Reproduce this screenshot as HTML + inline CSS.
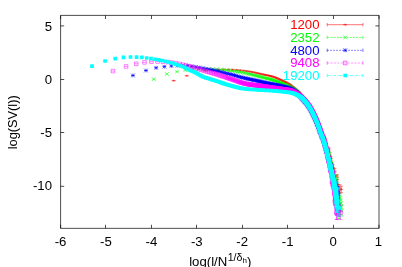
<!DOCTYPE html>
<html><head><meta charset="utf-8"><title>plot</title>
<style>html,body{margin:0;padding:0;background:#fff;overflow:hidden}svg{display:block;will-change:transform}text{font-family:"Liberation Sans",sans-serif}</style></head>
<body>
<svg width="402" height="267" viewBox="0 0 402 267">
<rect width="402" height="267" fill="#fff"/>
<path d="M60.6 15.4H379V228.35H60.6ZM60.6 228.35v-3.6M60.6 15.4v3.6M105.5 228.35v-3.6M105.5 15.4v3.6M151.5 228.35v-3.6M151.5 15.4v3.6M196.5 228.35v-3.6M196.5 15.4v3.6M242.5 228.35v-3.6M242.5 15.4v3.6M287.5 228.35v-3.6M287.5 15.4v3.6M333.5 228.35v-3.6M333.5 15.4v3.6M379 228.35v-3.6M379 15.4v3.6M60.6 25.9h3.6M379 25.9h-3.6M60.6 79.5h3.6M379 79.5h-3.6M60.6 132.5h3.6M379 132.5h-3.6M60.6 186.3h3.6M379 186.3h-3.6" fill="none" stroke="#000" stroke-width="0.7"/>
<g font-family="Liberation Sans, sans-serif" font-size="13.2" fill="#000">
<text x="60.5" y="246.05" text-anchor="middle">-6</text>
<text x="105.93" y="246.05" text-anchor="middle">-5</text>
<text x="151.36" y="246.05" text-anchor="middle">-4</text>
<text x="196.79" y="246.05" text-anchor="middle">-3</text>
<text x="242.21" y="246.05" text-anchor="middle">-2</text>
<text x="287.64" y="246.05" text-anchor="middle">-1</text>
<text x="333.07" y="246.05" text-anchor="middle">0</text>
<text x="378.5" y="246.05" text-anchor="middle">1</text>
<text x="52" y="30.5" text-anchor="end">5</text>
<text x="52" y="83.65" text-anchor="end">0</text>
<text x="52" y="136.8" text-anchor="end">-5</text>
<text x="52" y="189.95" text-anchor="end">-10</text>
<text transform="translate(17.3 122.3) rotate(-90)" text-anchor="middle" textLength="54" lengthAdjust="spacingAndGlyphs">log(SV(l))</text>
<text x="189.2" y="265.8">log(l/N<tspan dy="-5" dx="0.4" font-size="10.6">1/δ</tspan><tspan dy="2.2" font-size="8">h</tspan><tspan dy="2.8" font-size="13.2">)</tspan></text>
</g>
<g font-family="Liberation Sans, sans-serif" font-size="13.2">
<text x="319.5" y="29.1" text-anchor="end" fill="#ff0000">1200</text>
<path d="M327.2 24.7H362.9" fill="none" stroke="#ff0000" stroke-width="0.55"/>
<path d="M327.2 23v3.4M362.9 23v3.4" fill="none" stroke="#ff0000" stroke-width="0.55"/>
<path d="M343.2 24.7H347.2M345.2 23.6V25.8" fill="none" stroke="#ff0000" stroke-width="0.6"/>
<text x="319.5" y="41.8" text-anchor="end" fill="#00ff00">2352</text>
<path d="M327.2 37.4H362.9" fill="none" stroke="#00ff00" stroke-width="0.55" stroke-dasharray="2.2 1"/>
<path d="M327.2 35.7v3.4M362.9 35.7v3.4" fill="none" stroke="#00ff00" stroke-width="0.55"/>
<path d="M343.3 35.5L347.1 39.3M343.3 39.3L347.1 35.5" fill="none" stroke="#00ff00" stroke-width="0.6"/>
<text x="319.5" y="54.7" text-anchor="end" fill="#0000ff">4800</text>
<path d="M327.2 50.3H362.9" fill="none" stroke="#0000ff" stroke-width="0.55" stroke-dasharray="1.7 1.3"/>
<path d="M327.2 48.6v3.4M362.9 48.6v3.4" fill="none" stroke="#0000ff" stroke-width="0.55"/>
<path d="M343.3 50.3H347.1M345.2 48.4V52.2M343.3 48.4L347.1 52.2M343.3 52.2L347.1 48.4" fill="none" stroke="#0000ff" stroke-width="0.6"/>
<text x="319.5" y="67.4" text-anchor="end" fill="#ff00ff">9408</text>
<path d="M327.2 63H362.9" fill="none" stroke="#ff00ff" stroke-width="0.4" stroke-dasharray="2.2 1.2"/>
<path d="M327.2 61.3v3.4M362.9 61.3v3.4" fill="none" stroke="#ff00ff" stroke-width="0.55"/>
<path d="M343.4 61.2H347V64.8H343.4Z" fill="none" stroke="#ff00ff" stroke-width="0.6"/>
<text x="319.5" y="79.9" text-anchor="end" fill="#00ffff">19200</text>
<path d="M327.2 75.5H362.9" fill="none" stroke="#00ffff" stroke-width="0.55" stroke-dasharray="3.2 0.9 0.6 0.9"/>
<path d="M327.2 73.8v3.4M362.9 73.8v3.4" fill="none" stroke="#00ffff" stroke-width="0.55"/>
<path d="M343.4 73.7H347V77.3H343.4Z" fill="#00ffff"/>
</g>
<path d="M336.4 179.4V183.6M334.7 179.4H338.1M334.7 183.6H338.1M338.5 184.4V190.4M336.8 184.4H340.2M336.8 190.4H340.2M340.1 184.8V193.4M338.4 184.8H341.8M338.4 193.4H341.8M341.3 186.2V192.6M339.6 186.2H343M339.6 192.6H343M337 174.5V177.5M335.3 174.5H338.7M335.3 177.5H338.7M172 80.7H175.4M185.07 75.81H188.47M195.21 72.5H198.61M203.49 70.77H206.89M212.19 69.66V70.3M210.49 69.66H213.89M210.49 70.3H213.89M218.26 69.31V70M216.56 69.31H219.96M216.56 70H219.96M223.61 69.14V69.88M221.91 69.14H225.31M221.91 69.88H225.31M228.39 69.17V69.96M226.69 69.17H230.09M226.69 69.96H230.09M232.72 69.37V70.18M231.02 69.37H234.42M231.02 70.18H234.42M236.68 69.6V70.42M234.98 69.6H238.38M234.98 70.42H238.38M240.31 69.91V70.75M238.61 69.91H242.01M238.61 70.75H242.01M243.68 70.31V71.15M241.98 70.31H245.38M241.98 71.15H245.38M246.81 70.71V71.56M245.11 70.71H248.51M245.11 71.56H248.51M249.75 71.13V71.99M248.05 71.13H251.45M248.05 71.99H251.45M252.5 71.64V72.51M250.8 71.64H254.2M250.8 72.51H254.2M255.1 72.2V73.09M253.4 72.2H256.8M253.4 73.09H256.8M257.55 72.76V73.65M255.85 72.76H259.25M255.85 73.65H259.25M259.88 73.27V74.17M258.18 73.27H261.58M258.18 74.17H261.58M262.1 73.77V74.68M260.4 73.77H263.8M260.4 74.68H263.8M264.21 74.22V75.13M262.51 74.22H265.91M262.51 75.13H265.91M266.23 74.63V75.55M264.53 74.63H267.93M264.53 75.55H267.93M268.17 75.03V75.95M266.47 75.03H269.87M266.47 75.95H269.87M270.02 75.44V76.37M268.32 75.44H271.72M268.32 76.37H271.72M271.8 75.89V76.83M270.1 75.89H273.5M270.1 76.83H273.5M273.52 76.39V77.34M271.82 76.39H275.22M271.82 77.34H275.22M275.17 77.01V77.96M273.47 77.01H276.87M273.47 77.96H276.87M276.76 77.68V78.64M275.06 77.68H278.46M275.06 78.64H278.46M278.3 78.35V79.31M276.6 78.35H280M276.6 79.31H280M279.79 79.01V79.98M278.09 79.01H281.49M278.09 79.98H281.49M281.24 79.68V80.65M279.54 79.68H282.94M279.54 80.65H282.94M282.63 80.34V81.31M280.93 80.34H284.33M280.93 81.31H284.33M283.99 80.98V81.96M282.29 80.98H285.69M282.29 81.96H285.69M285.31 81.6V82.58M283.61 81.6H287.01M283.61 82.58H287.01M286.59 82.23V83.22M284.89 82.23H288.29M284.89 83.22H288.29M287.83 82.9V83.9M286.13 82.9H289.53M286.13 83.9H289.53M289.04 83.65V84.64M287.34 83.65H290.74M287.34 84.64H290.74M290.22 84.45V85.46M288.52 84.45H291.92M288.52 85.46H291.92M291.37 85.27V86.35M289.67 85.27H293.07M289.67 86.35H293.07M292.49 86.13V87.28M290.79 86.13H294.19M290.79 87.28H294.19M293.59 87.08V88.3M291.89 87.08H295.29M291.89 88.3H295.29M294.66 88.05V89.33M292.96 88.05H296.36M292.96 89.33H296.36M295.7 88.96V90.3M294 88.96H297.4M294 90.3H297.4M296.72 89.85V91.25M295.02 89.85H298.42M295.02 91.25H298.42M297.72 90.72V92.18M296.02 90.72H299.42M296.02 92.18H299.42M298.7 91.52V93.04M297 91.52H300.4M297 93.04H300.4M299.65 92.33V93.91M297.95 92.33H301.35M297.95 93.91H301.35M300.59 93.62V95.22M298.89 93.62H302.29M298.89 95.22H302.29M301.51 95.51V97.11M299.81 95.51H303.21M299.81 97.11H303.21M302.41 97.18V98.78M300.71 97.18H304.11M300.71 98.78H304.11M303.29 98.31V99.91M301.59 98.31H304.99M301.59 99.91H304.99M304.16 99.25V100.85M302.46 99.25H305.86M302.46 100.85H305.86M305.01 100.11V101.71M303.31 100.11H306.71M303.31 101.71H306.71M305.84 100.99V102.59M304.14 100.99H307.54M304.14 102.59H307.54M306.66 101.97V103.57M304.96 101.97H308.36M304.96 103.57H308.36M307.46 103V104.6M305.76 103H309.16M305.76 104.6H309.16M308.25 104.04V105.64M306.55 104.04H309.95M306.55 105.64H309.95M309.03 105.13V106.73M307.33 105.13H310.73M307.33 106.73H310.73M309.79 106.25V107.85M308.09 106.25H311.49M308.09 107.85H311.49M310.54 107.42V109.02M308.84 107.42H312.24M308.84 109.02H312.24M311.28 108.68V110.28M309.58 108.68H312.98M309.58 110.28H312.98M312.01 110.02V111.63M310.31 110.02H313.71M310.31 111.63H313.71M312.72 111.45V113.05M311.02 111.45H314.42M311.02 113.05H314.42M313.43 112.74V114.34M311.73 112.74H315.13M311.73 114.34H315.13M314.12 114.39V116M312.42 114.39H315.82M312.42 116H315.82M314.8 115.45V117.06M313.1 115.45H316.5M313.1 117.06H316.5M315.48 117.04V118.65M313.78 117.04H317.18M313.78 118.65H317.18M316.14 118.5V120.12M314.44 118.5H317.84M314.44 120.12H317.84M316.79 119.57V121.2M315.09 119.57H318.49M315.09 121.2H318.49M317.44 121.54V123.17M315.74 121.54H319.14M315.74 123.17H319.14M318.07 123.66V125.3M316.37 123.66H319.77M316.37 125.3H319.77M318.7 123.83V125.48M317 123.83H320.4M317 125.48H320.4M319.32 126.34V128.01M317.62 126.34H321.02M317.62 128.01H321.02M319.93 127.29V128.98M318.23 127.29H321.63M318.23 128.98H321.63M320.53 130.12V131.83M318.83 130.12H322.23M318.83 131.83H322.23M321.12 130.8V132.53M319.42 130.8H322.82M319.42 132.53H322.82M321.71 132.46V134.23M320.01 132.46H323.41M320.01 134.23H323.41M322.29 133.91V135.7M320.59 133.91H323.99M320.59 135.7H323.99M322.86 134.99V136.82M321.16 134.99H324.56M321.16 136.82H324.56M323.43 134.98V136.85M321.73 134.98H325.13M321.73 136.85H325.13M323.98 138.47V140.37M322.28 138.47H325.68M322.28 140.37H325.68M324.53 137.22V139.17M322.83 137.22H326.23M322.83 139.17H326.23M325.08 140.37V142.37M323.38 140.37H326.78M323.38 142.37H326.78M325.61 142.61V144.68M323.91 142.61H327.31M323.91 144.68H327.31M326.15 142.17V144.32M324.45 142.17H327.85M324.45 144.32H327.85M326.67 145.57V147.83M324.97 145.57H328.37M324.97 147.83H328.37M327.19 149.26V151.63M325.49 149.26H328.89M325.49 151.63H328.89M327.7 148.87V151.37M326 148.87H329.4M326 151.37H329.4M328.21 148.83V151.46M326.51 148.83H329.91M326.51 151.46H329.91M328.71 147.44V150.23M327.01 147.44H330.41M327.01 150.23H330.41M329.21 151.89V154.85M327.51 151.89H330.91M327.51 154.85H330.91M329.7 154.52V157.68M328 154.52H331.4M328 157.68H331.4M330.19 156.42V159.79M328.49 156.42H331.89M328.49 159.79H331.89M330.67 156.75V160.36M328.97 156.75H332.37M328.97 160.36H332.37M331.14 162.65V166.52M329.44 162.65H332.84M329.44 166.52H332.84M331.61 161.22V165.37M329.91 161.22H333.31M329.91 165.37H333.31M332.08 164.5V168.95M330.38 164.5H333.78M330.38 168.95H333.78M332.54 169.1V173.88M330.84 169.1H334.24M330.84 173.88H334.24M333 164.91V170.05M331.3 164.91H334.7M331.3 170.05H334.7M333.45 168.63V174.15M331.75 168.63H335.15M331.75 174.15H335.15M333.9 180.58V186.5M332.2 180.58H335.6M332.2 186.5H335.6M334.34 176.95V183.31M332.64 176.95H336.04M332.64 183.31H336.04M334.78 168.5V175.33M333.08 168.5H336.48M333.08 175.33H336.48M335.21 175.85V183.2M333.51 175.85H336.91M333.51 183.2H336.91M335.64 180.73V188.64M333.94 180.73H337.34M333.94 188.64H337.34M336.07 185.87V194.35M334.37 185.87H337.77M334.37 194.35H337.77M336.49 181.68V190.78M334.79 181.68H338.19M334.79 190.78H338.19M336.91 179.26V189.03M335.21 179.26H338.61M335.21 189.03H338.61M337.33 179.29V189.78M335.63 179.29H339.03M335.63 189.78H339.03M337.74 189.86V201.16M336.04 189.86H339.44M336.04 201.16H339.44M338.15 189.42V201.63M336.45 189.42H339.85M336.45 201.63H339.85" fill="none" stroke="#ff0000" stroke-width="0.45"/>
<path d="M334.4 181.5H338.4M336.4 180.4V182.6M336.5 187.4H340.5M338.5 186.3V188.5M338.1 189.1H342.1M340.1 188V190.2M339.3 189.4H343.3M341.3 188.3V190.5M335 176H339M337 174.9V177.1M171.7 80.7H175.7M173.7 79.6V81.8M184.77 75.81H188.77M186.77 74.71V76.91M194.91 72.5H198.91M196.91 71.4V73.6M203.19 70.77H207.19M205.19 69.67V71.87M210.19 69.98H214.19M212.19 68.88V71.08M216.26 69.66H220.26M218.26 68.56V70.76M221.61 69.51H225.61M223.61 68.41V70.61M226.39 69.56H230.39M228.39 68.46V70.66M230.72 69.77H234.72M232.72 68.67V70.87M234.68 70.01H238.68M236.68 68.91V71.11M238.31 70.33H242.31M240.31 69.23V71.43M241.68 70.73H245.68M243.68 69.63V71.83M244.81 71.14H248.81M246.81 70.04V72.24M247.75 71.56H251.75M249.75 70.46V72.66M250.5 72.07H254.5M252.5 70.97V73.17M253.1 72.64H257.1M255.1 71.54V73.74M255.55 73.2H259.55M257.55 72.1V74.3M257.88 73.72H261.88M259.88 72.62V74.82M260.1 74.22H264.1M262.1 73.12V75.32M262.21 74.68H266.21M264.21 73.58V75.78M264.23 75.09H268.23M266.23 73.99V76.19M266.17 75.49H270.17M268.17 74.39V76.59M268.02 75.91H272.02M270.02 74.81V77.01M269.8 76.36H273.8M271.8 75.26V77.46M271.52 76.86H275.52M273.52 75.76V77.96M273.17 77.48H277.17M275.17 76.38V78.58M274.76 78.16H278.76M276.76 77.06V79.26M276.3 78.83H280.3M278.3 77.73V79.93M277.79 79.49H281.79M279.79 78.39V80.59M279.24 80.16H283.24M281.24 79.06V81.26M280.63 80.82H284.63M282.63 79.72V81.92M281.99 81.47H285.99M283.99 80.37V82.57M283.31 82.09H287.31M285.31 80.99V83.19M284.59 82.72H288.59M286.59 81.62V83.82M285.83 83.4H289.83M287.83 82.3V84.5M287.04 84.15H291.04M289.04 83.05V85.25M288.22 84.96H292.22M290.22 83.86V86.06M289.37 85.81H293.37M291.37 84.71V86.91M290.49 86.71H294.49M292.49 85.61V87.81M291.59 87.69H295.59M293.59 86.59V88.79M292.66 88.69H296.66M294.66 87.59V89.79M293.7 89.63H297.7M295.7 88.53V90.73M294.72 90.55H298.72M296.72 89.45V91.65M295.72 91.45H299.72M297.72 90.35V92.55M296.7 92.28H300.7M298.7 91.18V93.38M297.65 93.12H301.65M299.65 92.02V94.22M298.59 94.42H302.59M300.59 93.32V95.52M299.51 96.31H303.51M301.51 95.21V97.41M300.41 97.98H304.41M302.41 96.88V99.08M301.29 99.11H305.29M303.29 98.01V100.21M302.16 100.05H306.16M304.16 98.95V101.15M303.01 100.91H307.01M305.01 99.81V102.01M303.84 101.79H307.84M305.84 100.69V102.89M304.66 102.77H308.66M306.66 101.67V103.87M305.46 103.8H309.46M307.46 102.7V104.9M306.25 104.84H310.25M308.25 103.74V105.94M307.03 105.93H311.03M309.03 104.83V107.03M307.79 107.05H311.79M309.79 105.95V108.15M308.54 108.22H312.54M310.54 107.12V109.32M309.28 109.48H313.28M311.28 108.38V110.58M310.01 110.82H314.01M312.01 109.72V111.92M310.72 112.25H314.72M312.72 111.15V113.35M311.43 113.54H315.43M313.43 112.44V114.64M312.12 115.19H316.12M314.12 114.09V116.29M312.8 116.26H316.8M314.8 115.16V117.36M313.48 117.85H317.48M315.48 116.75V118.95M314.14 119.31H318.14M316.14 118.21V120.41M314.79 120.39H318.79M316.79 119.29V121.49M315.44 122.36H319.44M317.44 121.26V123.46M316.07 124.48H320.07M318.07 123.38V125.58M316.7 124.66H320.7M318.7 123.56V125.76M317.32 127.18H321.32M319.32 126.08V128.28M317.93 128.13H321.93M319.93 127.03V129.23M318.53 130.97H322.53M320.53 129.87V132.07M319.12 131.67H323.12M321.12 130.57V132.77M319.71 133.34H323.71M321.71 132.24V134.44M320.29 134.81H324.29M322.29 133.71V135.91M320.86 135.91H324.86M322.86 134.81V137.01M321.43 135.91H325.43M323.43 134.81V137.01M321.98 139.42H325.98M323.98 138.32V140.52M322.53 138.2H326.53M324.53 137.1V139.3M323.08 141.37H327.08M325.08 140.27V142.47M323.61 143.65H327.61M325.61 142.55V144.75M324.15 143.24H328.15M326.15 142.14V144.34M324.67 146.7H328.67M326.67 145.6V147.8M325.19 150.45H329.19M327.19 149.35V151.55M325.7 150.12H329.7M327.7 149.02V151.22M326.21 150.15H330.21M328.21 149.05V151.25M326.71 148.84H330.71M328.71 147.74V149.94M327.21 153.37H331.21M329.21 152.27V154.47M327.7 156.1H331.7M329.7 155V157.2M328.19 158.1H332.19M330.19 157V159.2M328.67 158.55H332.67M330.67 157.45V159.65M329.14 164.59H333.14M331.14 163.49V165.69M329.61 163.3H333.61M331.61 162.2V164.4M330.08 166.72H334.08M332.08 165.62V167.82M330.54 171.49H334.54M332.54 170.39V172.59M331 167.48H335M333 166.38V168.58M331.45 171.39H335.45M333.45 170.29V172.49M331.9 183.54H335.9M333.9 182.44V184.64M332.34 180.13H336.34M334.34 179.03V181.23M332.78 171.92H336.78M334.78 170.82V173.02M333.21 179.52H337.21M335.21 178.42V180.62M333.64 184.68H337.64M335.64 183.58V185.78M334.07 190.11H338.07M336.07 189.01V191.21M334.49 186.23H338.49M336.49 185.13V187.33M334.91 184.15H338.91M336.91 183.05V185.25M335.33 184.53H339.33M337.33 183.43V185.63M335.74 195.51H339.74M337.74 194.41V196.61M336.15 195.52H340.15M338.15 194.42V196.62" fill="none" stroke="#ff0000" stroke-width="0.5"/>
<path d="M341.9 205V216M340.2 205H343.6M340.2 216H343.6M341 199V207M339.3 199H342.7M339.3 207H342.7M340.8 202.8V211.2M339.1 202.8H342.5M339.1 211.2H342.5M340.2 195V201M338.5 195H341.9M338.5 201H341.9M152.1 79.2H155.5M165.17 74.04H168.57M175.31 71.7H178.71M183.59 70.07H186.99M192.29 68.89V69.53M190.59 68.89H193.99M190.59 69.53H193.99M198.36 68.57V69.27M196.66 68.57H200.06M196.66 69.27H200.06M203.71 68.54V69.29M202.01 68.54H205.41M202.01 69.29H205.41M208.49 68.58V69.37M206.79 68.58H210.19M206.79 69.37H210.19M212.82 68.68V69.52M211.12 68.68H214.52M211.12 69.52H214.52M216.78 68.91V69.79M215.08 68.91H218.48M215.08 69.79H218.48M220.41 69.18V70.09M218.71 69.18H222.11M218.71 70.09H222.11M223.78 69.49V70.43M222.08 69.49H225.48M222.08 70.43H225.48M226.91 69.82V70.79M225.21 69.82H228.61M225.21 70.79H228.61M229.85 70.16V71.16M228.15 70.16H231.55M228.15 71.16H231.55M232.6 70.51V71.53M230.9 70.51H234.3M230.9 71.53H234.3M235.2 70.83V71.87M233.5 70.83H236.9M233.5 71.87H236.9M237.65 71.14V72.19M235.95 71.14H239.35M235.95 72.19H239.35M239.98 71.46V72.53M238.28 71.46H241.68M238.28 72.53H241.68M242.2 71.86V72.94M240.5 71.86H243.9M240.5 72.94H243.9M244.31 72.29V73.38M242.61 72.29H246.01M242.61 73.38H246.01M246.33 72.72V73.83M244.63 72.72H248.03M244.63 73.83H248.03M248.27 73.14V74.27M246.57 73.14H249.97M246.57 74.27H249.97M250.12 73.57V74.71M248.42 73.57H251.82M248.42 74.71H251.82M251.9 74V75.15M250.2 74H253.6M250.2 75.15H253.6M253.62 74.44V75.6M251.92 74.44H255.32M251.92 75.6H255.32M255.27 74.88V76.05M253.57 74.88H256.97M253.57 76.05H256.97M256.86 75.31V76.49M255.16 75.31H258.56M255.16 76.49H258.56M258.4 75.71V76.9M256.7 75.71H260.1M256.7 76.9H260.1M259.89 76.08V77.28M258.19 76.08H261.59M258.19 77.28H261.59M261.34 76.43V77.64M259.64 76.43H263.04M259.64 77.64H263.04M262.73 76.77V77.99M261.03 76.77H264.43M261.03 77.99H264.43M264.09 77.11V78.33M262.39 77.11H265.79M262.39 78.33H265.79M265.41 77.43V78.67M263.71 77.43H267.11M263.71 78.67H267.11M266.69 77.75V78.99M264.99 77.75H268.39M264.99 78.99H268.39M267.93 78.06V79.31M266.23 78.06H269.63M266.23 79.31H269.63M269.14 78.35V79.62M267.44 78.35H270.84M267.44 79.62H270.84M270.32 78.64V79.91M268.62 78.64H272.02M268.62 79.91H272.02M271.47 78.93V80.21M269.77 78.93H273.17M269.77 80.21H273.17M272.59 79.24V80.52M270.89 79.24H274.29M270.89 80.52H274.29M273.69 79.57V80.86M271.99 79.57H275.39M271.99 80.86H275.39M274.76 79.93V81.23M273.06 79.93H276.46M273.06 81.23H276.46M275.8 80.31V81.62M274.1 80.31H277.5M274.1 81.62H277.5M276.82 80.69V82.01M275.12 80.69H278.52M275.12 82.01H278.52M277.82 81.07V82.39M276.12 81.07H279.52M276.12 82.39H279.52M278.8 81.44V82.77M277.1 81.44H280.5M277.1 82.77H280.5M279.75 81.82V83.15M278.05 81.82H281.45M278.05 83.15H281.45M280.69 82.2V83.53M278.99 82.2H282.39M278.99 83.53H282.39M281.61 82.57V83.91M279.91 82.57H283.31M279.91 83.91H283.31M282.51 82.93V84.28M280.81 82.93H284.21M280.81 84.28H284.21M283.39 83.28V84.63M281.69 83.28H285.09M281.69 84.63H285.09M284.26 83.6V84.97M282.56 83.6H285.96M282.56 84.97H285.96M285.11 83.92V85.29M283.41 83.92H286.81M283.41 85.29H286.81M285.94 84.24V85.61M284.24 84.24H287.64M284.24 85.61H287.64M286.76 84.56V85.94M285.06 84.56H288.46M285.06 85.94H288.46M287.56 84.91V86.29M285.86 84.91H289.26M285.86 86.29H289.26M288.35 85.28V86.67M286.65 85.28H290.05M286.65 86.67H290.05M289.13 85.68V87.07M287.43 85.68H290.83M287.43 87.07H290.83M289.89 86.11V87.51M288.19 86.11H291.59M288.19 87.51H291.59M290.64 86.53V87.97M288.94 86.53H292.34M288.94 87.97H292.34M291.38 86.97V88.45M289.68 86.97H293.08M289.68 88.45H293.08M292.11 87.41V88.93M290.41 87.41H293.81M290.41 88.93H293.81M292.82 87.86V89.43M291.12 87.86H294.52M291.12 89.43H294.52M293.53 88.32V89.94M291.83 88.32H295.23M291.83 89.94H295.23M294.22 88.8V90.45M292.52 88.8H295.92M292.52 90.45H295.92M294.9 89.28V90.98M293.2 89.28H296.6M293.2 90.98H296.6M295.58 89.76V91.49M293.88 89.76H297.28M293.88 91.49H297.28M296.24 90.23V92M294.54 90.23H297.94M294.54 92H297.94M296.89 90.74V92.55M295.19 90.74H298.59M295.19 92.55H298.59M297.54 91.3V93.15M295.84 91.3H299.24M295.84 93.15H299.24M298.17 91.94V93.83M296.47 91.94H299.87M296.47 93.83H299.87M298.8 92.64V94.57M297.1 92.64H300.5M297.1 94.57H300.5M299.42 93.38V95.34M297.72 93.38H301.12M297.72 95.34H301.12M300.03 94.13V96.13M298.33 94.13H301.73M298.33 96.13H301.73M300.63 94.9V96.9M298.93 94.9H302.33M298.93 96.9H302.33M301.22 95.66V97.66M299.52 95.66H302.92M299.52 97.66H302.92M301.81 96.39V98.39M300.11 96.39H303.51M300.11 98.39H303.51M302.39 97.08V99.08M300.69 97.08H304.09M300.69 99.08H304.09M302.96 97.72V99.72M301.26 97.72H304.66M301.26 99.72H304.66M303.53 98.33V100.33M301.83 98.33H305.23M301.83 100.33H305.23M304.08 98.93V100.93M302.38 98.93H305.78M302.38 100.93H305.78M304.63 99.53V101.53M302.93 99.53H306.33M302.93 101.53H306.33M305.18 100.13V102.13M303.48 100.13H306.88M303.48 102.13H306.88M305.71 100.75V102.75M304.01 100.75H307.41M304.01 102.75H307.41M306.25 101.38V103.38M304.55 101.38H307.95M304.55 103.38H307.95M306.77 102.04V104.04M305.07 102.04H308.47M305.07 104.04H308.47M307.29 102.7V104.7M305.59 102.7H308.99M305.59 104.7H308.99M307.8 103.38V105.38M306.1 103.38H309.5M306.1 105.38H309.5M308.31 104.06V106.06M306.61 104.06H310.01M306.61 106.06H310.01M308.81 104.76V106.76M307.11 104.76H310.51M307.11 106.76H310.51M309.31 105.48V107.48M307.61 105.48H311.01M307.61 107.48H311.01M309.8 106.22V108.22M308.1 106.22H311.5M308.1 108.22H311.5M310.29 106.97V108.97M308.59 106.97H311.99M308.59 108.97H311.99M310.77 107.76V109.76M309.07 107.76H312.47M309.07 109.76H312.47M311.24 108.59V110.59M309.54 108.59H312.94M309.54 110.59H312.94M311.71 109.45V111.45M310.01 109.45H313.41M310.01 111.45H313.41M312.18 110.35V112.35M310.48 110.35H313.88M310.48 112.35H313.88M312.64 111.26V113.26M310.94 111.26H314.34M310.94 113.26H314.34M313.1 112.09V114.1M311.4 112.09H314.8M311.4 114.1H314.8M313.55 113.03V115.04M311.85 113.03H315.25M311.85 115.04H315.25M314 113.87V115.87M312.3 113.87H315.7M312.3 115.87H315.7M314.44 114.75V116.75M312.74 114.75H316.14M312.74 116.75H316.14M314.88 116.05V118.05M313.18 116.05H316.58M313.18 118.05H316.58M315.31 116.6V118.61M313.61 116.6H317.01M313.61 118.61H317.01M315.74 118.03V120.04M314.04 118.03H317.44M314.04 120.04H317.44M316.17 118.49V120.5M314.47 118.49H317.87M314.47 120.5H317.87M316.59 119.58V121.59M314.89 119.58H318.29M314.89 121.59H318.29M317.01 120.78V122.79M315.31 120.78H318.71M315.31 122.79H318.71M317.43 121.43V123.45M315.73 121.43H319.13M315.73 123.45H319.13M317.84 122.51V124.53M316.14 122.51H319.54M316.14 124.53H319.54M318.25 123.25V125.27M316.55 123.25H319.95M316.55 125.27H319.95M318.65 124.12V126.15M316.95 124.12H320.35M316.95 126.15H320.35M319.05 125.24V127.28M317.35 125.24H320.75M317.35 127.28H320.75M319.45 126.01V128.05M317.75 126.01H321.15M317.75 128.05H321.15M319.84 128.18V130.22M318.14 128.18H321.54M318.14 130.22H321.54M320.23 128.26V130.31M318.53 128.26H321.93M318.53 130.31H321.93M320.62 130.35V132.42M318.92 130.35H322.32M318.92 132.42H322.32M321 129.03V131.1M319.3 129.03H322.7M319.3 131.1H322.7M321.38 131.36V133.44M319.68 131.36H323.08M319.68 133.44H323.08M321.76 132.69V134.78M320.06 132.69H323.46M320.06 134.78H323.46M322.13 133.08V135.18M320.43 133.08H323.83M320.43 135.18H323.83M322.5 134.94V137.06M320.8 134.94H324.2M320.8 137.06H324.2M322.87 135.54V137.66M321.17 135.54H324.57M321.17 137.66H324.57M323.24 135.76V137.9M321.54 135.76H324.94M321.54 137.9H324.94M323.6 137.03V139.18M321.9 137.03H325.3M321.9 139.18H325.3M323.96 139.13V141.29M322.26 139.13H325.66M322.26 141.29H325.66M324.31 138.62V140.79M322.61 138.62H326.01M322.61 140.79H326.01M324.67 139.66V141.86M322.97 139.66H326.37M322.97 141.86H326.37M325.02 139.96V142.17M323.32 139.96H326.72M323.32 142.17H326.72M325.36 141.73V143.97M323.66 141.73H327.06M323.66 143.97H327.06M325.71 141.08V143.34M324.01 141.08H327.41M324.01 143.34H327.41M326.05 143.7V146M324.35 143.7H327.75M324.35 146H327.75M326.39 148.46V150.79M324.69 148.46H328.09M324.69 150.79H328.09M326.73 148.1V150.47M325.03 148.1H328.43M325.03 150.47H328.43M327.07 148.71V151.12M325.37 148.71H328.77M325.37 151.12H328.77M327.4 150.74V153.2M325.7 150.74H329.1M325.7 153.2H329.1M327.73 153.46V155.96M326.03 153.46H329.43M326.03 155.96H329.43M328.06 152.51V155.07M326.36 152.51H329.76M326.36 155.07H329.76M328.38 156.73V159.35M326.68 156.73H330.08M326.68 159.35H330.08M328.71 156.13V158.81M327.01 156.13H330.41M327.01 158.81H330.41M329.03 155.52V158.26M327.33 155.52H330.73M327.33 158.26H330.73M329.35 160.38V163.19M327.65 160.38H331.05M327.65 163.19H331.05M329.66 152.34V155.23M327.96 152.34H331.36M327.96 155.23H331.36M329.98 157.48V160.44M328.28 157.48H331.68M328.28 160.44H331.68M330.29 160.88V163.93M328.59 160.88H331.99M328.59 163.93H331.99M330.6 158.92V162.06M328.9 158.92H332.3M328.9 162.06H332.3M330.91 162.23V165.47M329.21 162.23H332.61M329.21 165.47H332.61M331.21 162.02V165.36M329.51 162.02H332.91M329.51 165.36H332.91M331.52 163.14V166.59M329.82 163.14H333.22M329.82 166.59H333.22M331.82 173.37V176.94M330.12 173.37H333.52M330.12 176.94H333.52M332.12 169.66V173.34M330.42 169.66H333.82M330.42 173.34H333.82M332.42 168.63V172.44M330.72 168.63H334.12M330.72 172.44H334.12M332.71 174.63V178.58M331.01 174.63H334.41M331.01 178.58H334.41M333.01 170.36V174.45M331.31 170.36H334.71M331.31 174.45H334.71M333.3 175.77V180.01M331.6 175.77H335M331.6 180.01H335M333.59 175.01V179.41M331.89 175.01H335.29M331.89 179.41H335.29M333.88 181.49V186.05M332.18 181.49H335.58M332.18 186.05H335.58M334.16 170.03V174.78M332.46 170.03H335.86M332.46 174.78H335.86M334.45 180.69V185.62M332.75 180.69H336.15M332.75 185.62H336.15M334.73 179.07V184.2M333.03 179.07H336.43M333.03 184.2H336.43M335.01 174.41V179.75M333.31 174.41H336.71M333.31 179.75H336.71M335.29 185.91V191.47M333.59 185.91H336.99M333.59 191.47H336.99M335.57 177.87V183.65M333.87 177.87H337.27M333.87 183.65H337.27M335.85 191.37V197.39M334.15 191.37H337.55M334.15 197.39H337.55M336.12 187.13V193.39M334.42 187.13H337.82M334.42 193.39H337.82M336.39 189.44V195.97M334.69 189.44H338.09M334.69 195.97H338.09M336.67 187.33V194.14M334.97 187.33H338.37M334.97 194.14H338.37M336.94 193.59V200.71M335.24 193.59H338.64M335.24 200.71H338.64M337.2 177.39V184.84M335.5 177.39H338.9M335.5 184.84H338.9M337.47 191.2V199M335.77 191.2H339.17M335.77 199H339.17M337.73 187.45V195.63M336.03 187.45H339.43M336.03 195.63H339.43M338 195.65V204.26M336.3 195.65H339.7M336.3 204.26H339.7M338.26 194.48V203.56M336.56 194.48H339.96M336.56 203.56H339.96M338.52 202.04V211.64M336.82 202.04H340.22M336.82 211.64H340.22M338.78 189.85V200.03M337.08 189.85H340.48M337.08 200.03H340.48M339.04 207.6V218.4M337.34 207.6H340.74M337.34 218.4H340.74M339.29 207.25V218.75M337.59 207.25H340.99M337.59 218.75H340.99M339.55 200.6V212.85M337.85 200.6H341.25M337.85 212.85H341.25" fill="none" stroke="#00ff00" stroke-width="0.45"/>
<path d="M340 208.6L343.8 212.4M340 212.4L343.8 208.6M339.1 201.1L342.9 204.9M339.1 204.9L342.9 201.1M338.9 205.1L342.7 208.9M338.9 208.9L342.7 205.1M338.3 196.1L342.1 199.9M338.3 199.9L342.1 196.1M151.9 77.3L155.7 81.1M151.9 81.1L155.7 77.3M164.97 72.14L168.77 75.94M164.97 75.94L168.77 72.14M175.11 69.8L178.91 73.6M175.11 73.6L178.91 69.8M183.39 68.17L187.19 71.97M183.39 71.97L187.19 68.17M190.39 67.31L194.19 71.11M190.39 71.11L194.19 67.31M196.46 67.02L200.26 70.82M196.46 70.82L200.26 67.02M201.81 67.02L205.61 70.82M201.81 70.82L205.61 67.02M206.59 67.08L210.39 70.88M206.59 70.88L210.39 67.08M210.92 67.2L214.72 71M210.92 71L214.72 67.2M214.88 67.45L218.68 71.25M214.88 71.25L218.68 67.45M218.51 67.73L222.31 71.53M218.51 71.53L222.31 67.73M221.88 68.06L225.68 71.86M221.88 71.86L225.68 68.06M225.01 68.4L228.81 72.2M225.01 72.2L228.81 68.4M227.95 68.76L231.75 72.56M227.95 72.56L231.75 68.76M230.7 69.12L234.5 72.92M230.7 72.92L234.5 69.12M233.3 69.45L237.1 73.25M233.3 73.25L237.1 69.45M235.75 69.76L239.55 73.56M235.75 73.56L239.55 69.76M238.08 70.1L241.88 73.9M238.08 73.9L241.88 70.1M240.3 70.5L244.1 74.3M240.3 74.3L244.1 70.5M242.41 70.94L246.21 74.74M242.41 74.74L246.21 70.94M244.43 71.37L248.23 75.17M244.43 75.17L248.23 71.37M246.37 71.8L250.17 75.6M246.37 75.6L250.17 71.8M248.22 72.24L252.02 76.04M248.22 76.04L252.02 72.24M250 72.68L253.8 76.48M250 76.48L253.8 72.68M251.72 73.12L255.52 76.92M251.72 76.92L255.52 73.12M253.37 73.57L257.17 77.37M253.37 77.37L257.17 73.57M254.96 74L258.76 77.8M254.96 77.8L258.76 74M256.5 74.4L260.3 78.2M256.5 78.2L260.3 74.4M257.99 74.78L261.79 78.58M257.99 78.58L261.79 74.78M259.44 75.13L263.24 78.93M259.44 78.93L263.24 75.13M260.83 75.48L264.63 79.28M260.83 79.28L264.63 75.48M262.19 75.82L265.99 79.62M262.19 79.62L265.99 75.82M263.51 76.15L267.31 79.95M263.51 79.95L267.31 76.15M264.79 76.47L268.59 80.27M264.79 80.27L268.59 76.47M266.03 76.78L269.83 80.58M266.03 80.58L269.83 76.78M267.24 77.09L271.04 80.89M267.24 80.89L271.04 77.09M268.42 77.38L272.22 81.18M268.42 81.18L272.22 77.38M269.57 77.67L273.37 81.47M269.57 81.47L273.37 77.67M270.69 77.98L274.49 81.78M270.69 81.78L274.49 77.98M271.79 78.32L275.59 82.12M271.79 82.12L275.59 78.32M272.86 78.68L276.66 82.48M272.86 82.48L276.66 78.68M273.9 79.06L277.7 82.86M273.9 82.86L277.7 79.06M274.92 79.45L278.72 83.25M274.92 83.25L278.72 79.45M275.92 79.83L279.72 83.63M275.92 83.63L279.72 79.83M276.9 80.21L280.7 84.01M276.9 84.01L280.7 80.21M277.85 80.59L281.65 84.39M277.85 84.39L281.65 80.59M278.79 80.96L282.59 84.76M278.79 84.76L282.59 80.96M279.71 81.34L283.51 85.14M279.71 85.14L283.51 81.34M280.61 81.7L284.41 85.5M280.61 85.5L284.41 81.7M281.49 82.05L285.29 85.85M281.49 85.85L285.29 82.05M282.36 82.38L286.16 86.18M282.36 86.18L286.16 82.38M283.21 82.7L287.01 86.5M283.21 86.5L287.01 82.7M284.04 83.02L287.84 86.82M284.04 86.82L287.84 83.02M284.86 83.35L288.66 87.15M284.86 87.15L288.66 83.35M285.66 83.7L289.46 87.5M285.66 87.5L289.46 83.7M286.45 84.07L290.25 87.87M286.45 87.87L290.25 84.07M287.23 84.48L291.03 88.28M287.23 88.28L291.03 84.48M287.99 84.91L291.79 88.71M287.99 88.71L291.79 84.91M288.74 85.35L292.54 89.15M288.74 89.15L292.54 85.35M289.48 85.81L293.28 89.61M289.48 89.61L293.28 85.81M290.21 86.27L294.01 90.07M290.21 90.07L294.01 86.27M290.92 86.74L294.72 90.54M290.92 90.54L294.72 86.74M291.63 87.23L295.43 91.03M291.63 91.03L295.43 87.23M292.32 87.73L296.12 91.53M292.32 91.53L296.12 87.73M293 88.23L296.8 92.03M293 92.03L296.8 88.23M293.68 88.72L297.48 92.52M293.68 92.52L297.48 88.72M294.34 89.22L298.14 93.02M294.34 93.02L298.14 89.22M294.99 89.74L298.79 93.54M294.99 93.54L298.79 89.74M295.64 90.33L299.44 94.13M295.64 94.13L299.44 90.33M296.27 90.99L300.07 94.79M296.27 94.79L300.07 90.99M296.9 91.7L300.7 95.5M296.9 95.5L300.7 91.7M297.52 92.46L301.32 96.26M297.52 96.26L301.32 92.46M298.13 93.23L301.93 97.03M298.13 97.03L301.93 93.23M298.73 94L302.53 97.8M298.73 97.8L302.53 94M299.32 94.76L303.12 98.56M299.32 98.56L303.12 94.76M299.91 95.49L303.71 99.29M299.91 99.29L303.71 95.49M300.49 96.18L304.29 99.98M300.49 99.98L304.29 96.18M301.06 96.82L304.86 100.62M301.06 100.62L304.86 96.82M301.63 97.43L305.43 101.23M301.63 101.23L305.43 97.43M302.18 98.03L305.98 101.83M302.18 101.83L305.98 98.03M302.73 98.63L306.53 102.43M302.73 102.43L306.53 98.63M303.28 99.23L307.08 103.03M303.28 103.03L307.08 99.23M303.81 99.85L307.61 103.65M303.81 103.65L307.61 99.85M304.35 100.48L308.15 104.28M304.35 104.28L308.15 100.48M304.87 101.14L308.67 104.94M304.87 104.94L308.67 101.14M305.39 101.8L309.19 105.6M305.39 105.6L309.19 101.8M305.9 102.48L309.7 106.28M305.9 106.28L309.7 102.48M306.41 103.16L310.21 106.96M306.41 106.96L310.21 103.16M306.91 103.86L310.71 107.66M306.91 107.66L310.71 103.86M307.41 104.58L311.21 108.38M307.41 108.38L311.21 104.58M307.9 105.32L311.7 109.12M307.9 109.12L311.7 105.32M308.39 106.07L312.19 109.87M308.39 109.87L312.19 106.07M308.87 106.86L312.67 110.66M308.87 110.66L312.67 106.86M309.34 107.69L313.14 111.49M309.34 111.49L313.14 107.69M309.81 108.55L313.61 112.35M309.81 112.35L313.61 108.55M310.28 109.45L314.08 113.25M310.28 113.25L314.08 109.45M310.74 110.36L314.54 114.16M310.74 114.16L314.54 110.36M311.2 111.2L315 115M311.2 115L315 111.2M311.65 112.14L315.45 115.94M311.65 115.94L315.45 112.14M312.1 112.97L315.9 116.77M312.1 116.77L315.9 112.97M312.54 113.85L316.34 117.65M312.54 117.65L316.34 113.85M312.98 115.15L316.78 118.95M312.98 118.95L316.78 115.15M313.41 115.7L317.21 119.5M313.41 119.5L317.21 115.7M313.84 117.13L317.64 120.93M313.84 120.93L317.64 117.13M314.27 117.59L318.07 121.39M314.27 121.39L318.07 117.59M314.69 118.69L318.49 122.49M314.69 122.49L318.49 118.69M315.11 119.88L318.91 123.68M315.11 123.68L318.91 119.88M315.53 120.54L319.33 124.34M315.53 124.34L319.33 120.54M315.94 121.62L319.74 125.42M315.94 125.42L319.74 121.62M316.35 122.36L320.15 126.16M316.35 126.16L320.15 122.36M316.75 123.24L320.55 127.04M316.75 127.04L320.55 123.24M317.15 124.36L320.95 128.16M317.15 128.16L320.95 124.36M317.55 125.13L321.35 128.93M317.55 128.93L321.35 125.13M317.94 127.3L321.74 131.1M317.94 131.1L321.74 127.3M318.33 127.38L322.13 131.18M318.33 131.18L322.13 127.38M318.72 129.49L322.52 133.29M318.72 133.29L322.52 129.49M319.1 128.16L322.9 131.96M319.1 131.96L322.9 128.16M319.48 130.5L323.28 134.3M319.48 134.3L323.28 130.5M319.86 131.83L323.66 135.63M319.86 135.63L323.66 131.83M320.23 132.23L324.03 136.03M320.23 136.03L324.03 132.23M320.6 134.1L324.4 137.9M320.6 137.9L324.4 134.1M320.97 134.7L324.77 138.5M320.97 138.5L324.77 134.7M321.34 134.93L325.14 138.73M321.34 138.73L325.14 134.93M321.7 136.21L325.5 140.01M321.7 140.01L325.5 136.21M322.06 138.31L325.86 142.11M322.06 142.11L325.86 138.31M322.41 137.81L326.21 141.61M322.41 141.61L326.21 137.81M322.77 138.86L326.57 142.66M322.77 142.66L326.57 138.86M323.12 139.16L326.92 142.96M323.12 142.96L326.92 139.16M323.46 140.95L327.26 144.75M323.46 144.75L327.26 140.95M323.81 140.31L327.61 144.11M323.81 144.11L327.61 140.31M324.15 142.95L327.95 146.75M324.15 146.75L327.95 142.95M324.49 147.72L328.29 151.52M324.49 151.52L328.29 147.72M324.83 147.39L328.63 151.19M324.83 151.19L328.63 147.39M325.17 148.02L328.97 151.82M325.17 151.82L328.97 148.02M325.5 150.07L329.3 153.87M325.5 153.87L329.3 150.07M325.83 152.81L329.63 156.61M325.83 156.61L329.63 152.81M326.16 151.89L329.96 155.69M326.16 155.69L329.96 151.89M326.48 156.14L330.28 159.94M326.48 159.94L330.28 156.14M326.81 155.57L330.61 159.37M326.81 159.37L330.61 155.57M327.13 154.99L330.93 158.79M327.13 158.79L330.93 154.99M327.45 159.89L331.25 163.69M327.45 163.69L331.25 159.89M327.76 151.89L331.56 155.69M327.76 155.69L331.56 151.89M328.08 157.06L331.88 160.86M328.08 160.86L331.88 157.06M328.39 160.51L332.19 164.31M328.39 164.31L332.19 160.51M328.7 158.59L332.5 162.39M328.7 162.39L332.5 158.59M329.01 161.95L332.81 165.75M329.01 165.75L332.81 161.95M329.31 161.79L333.11 165.59M329.31 165.59L333.11 161.79M329.62 162.97L333.42 166.77M329.62 166.77L333.42 162.97M329.92 173.25L333.72 177.05M329.92 177.05L333.72 173.25M330.22 169.6L334.02 173.4M330.22 173.4L334.02 169.6M330.52 168.63L334.32 172.43M330.52 172.43L334.32 168.63M330.81 174.7L334.61 178.5M330.81 178.5L334.61 174.7M331.11 170.5L334.91 174.3M331.11 174.3L334.91 170.5M331.4 175.99L335.2 179.79M331.4 179.79L335.2 175.99M331.69 175.31L335.49 179.11M331.69 179.11L335.49 175.31M331.98 181.87L335.78 185.67M331.98 185.67L335.78 181.87M332.26 170.51L336.06 174.31M332.26 174.31L336.06 170.51M332.55 181.26L336.35 185.06M332.55 185.06L336.35 181.26M332.83 179.74L336.63 183.54M332.83 183.54L336.63 179.74M333.11 175.18L336.91 178.98M333.11 178.98L336.91 175.18M333.39 186.79L337.19 190.59M333.39 190.59L337.19 186.79M333.67 178.86L337.47 182.66M333.67 182.66L337.47 178.86M333.95 192.48L337.75 196.28M333.95 196.28L337.75 192.48M334.22 188.36L338.02 192.16M334.22 192.16L338.02 188.36M334.49 190.81L338.29 194.61M334.49 194.61L338.29 190.81M334.77 188.83L338.57 192.63M334.77 192.63L338.57 188.83M335.04 195.25L338.84 199.05M335.04 199.05L338.84 195.25M335.3 179.21L339.1 183.01M335.3 183.01L339.1 179.21M335.57 193.2L339.37 197M335.57 197L339.37 193.2M335.83 189.64L339.63 193.44M335.83 193.44L339.63 189.64M336.1 198.06L339.9 201.86M336.1 201.86L339.9 198.06M336.36 197.12L340.16 200.92M336.36 200.92L340.16 197.12M336.62 204.94L340.42 208.74M336.62 208.74L340.42 204.94M336.88 193.04L340.68 196.84M336.88 196.84L340.68 193.04M337.14 211.1L340.94 214.9M337.14 214.9L340.94 211.1M337.39 211.1L341.19 214.9M337.39 214.9L341.19 211.1M337.65 204.83L341.45 208.63M337.65 208.63L341.45 204.83" fill="none" stroke="#00ff00" stroke-width="0.55"/>
<path d="M338.2 204V214M336.5 204H339.9M336.5 214H339.9M339.2 204V216M337.5 204H340.9M337.5 216H340.9M131.2 75.44H134.6M144.27 70.51H147.67M154.41 67.78H157.81M162.69 66.68H166.09M169.69 65.97H173.09M177.46 65.28V65.92M175.76 65.28H179.16M175.76 65.92H179.16M182.81 65.26V65.94M181.11 65.26H184.51M181.11 65.94H184.51M187.59 65.37V66.09M185.89 65.37H189.29M185.89 66.09H189.29M191.92 65.94V66.7M190.22 65.94H193.62M190.22 66.7H193.62M195.88 66.53V67.33M194.18 66.53H197.58M194.18 67.33H197.58M199.51 67.14V67.97M197.81 67.14H201.21M197.81 67.97H201.21M202.88 67.78V68.63M201.18 67.78H204.58M201.18 68.63H204.58M206.01 68.37V69.26M204.31 68.37H207.71M204.31 69.26H207.71M208.95 68.9V69.81M207.25 68.9H210.65M207.25 69.81H210.65M211.7 69.39V70.32M210 69.39H213.4M210 70.32H213.4M214.3 69.88V70.83M212.6 69.88H216M212.6 70.83H216M216.75 70.41V71.38M215.05 70.41H218.45M215.05 71.38H218.45M219.08 70.97V71.97M217.38 70.97H220.78M217.38 71.97H220.78M221.3 71.53V72.54M219.6 71.53H223M219.6 72.54H223M223.41 72.08V73.1M221.71 72.08H225.11M221.71 73.1H225.11M225.43 72.59V73.62M223.73 72.59H227.13M223.73 73.62H227.13M227.37 73.05V74.09M225.67 73.05H229.07M225.67 74.09H229.07M229.22 73.48V74.53M227.52 73.48H230.92M227.52 74.53H230.92M231 73.92V74.98M229.3 73.92H232.7M229.3 74.98H232.7M232.72 74.35V75.42M231.02 74.35H234.42M231.02 75.42H234.42M234.37 74.79V75.87M232.67 74.79H236.07M232.67 75.87H236.07M235.96 75.23V76.33M234.26 75.23H237.66M234.26 76.33H237.66M237.5 75.71V76.81M235.8 75.71H239.2M235.8 76.81H239.2M238.99 76.16V77.27M237.29 76.16H240.69M237.29 77.27H240.69M240.44 76.56V77.67M238.74 76.56H242.14M238.74 77.67H242.14M241.83 76.9V78.03M240.13 76.9H243.53M240.13 78.03H243.53M243.19 77.22V78.35M241.49 77.22H244.89M241.49 78.35H244.89M244.51 77.52V78.66M242.81 77.52H246.21M242.81 78.66H246.21M245.79 77.8V78.95M244.09 77.8H247.49M244.09 78.95H247.49M247.03 78.08V79.23M245.33 78.08H248.73M245.33 79.23H248.73M248.24 78.34V79.5M246.54 78.34H249.94M246.54 79.5H249.94M249.42 78.59V79.76M247.72 78.59H251.12M247.72 79.76H251.12M250.57 78.84V80.01M248.87 78.84H252.27M248.87 80.01H252.27M251.69 79.07V80.25M249.99 79.07H253.39M249.99 80.25H253.39M252.79 79.29V80.48M251.09 79.29H254.49M251.09 80.48H254.49M253.86 79.51V80.7M252.16 79.51H255.56M252.16 80.7H255.56M254.9 79.72V80.92M253.2 79.72H256.6M253.2 80.92H256.6M255.92 79.94V81.14M254.22 79.94H257.62M254.22 81.14H257.62M256.92 80.15V81.36M255.22 80.15H258.62M255.22 81.36H258.62M257.9 80.37V81.58M256.2 80.37H259.6M256.2 81.58H259.6M258.85 80.59V81.82M257.15 80.59H260.55M257.15 81.82H260.55M259.79 80.83V82.06M258.09 80.83H261.49M258.09 82.06H261.49M260.71 81.06V82.3M259.01 81.06H262.41M259.01 82.3H262.41M261.61 81.29V82.52M259.91 81.29H263.31M259.91 82.52H263.31M262.49 81.49V82.74M260.79 81.49H264.19M260.79 82.74H264.19M263.36 81.69V82.94M261.66 81.69H265.06M261.66 82.94H265.06M264.21 81.88V83.13M262.51 81.88H265.91M262.51 83.13H265.91M265.04 82.06V83.32M263.34 82.06H266.74M263.34 83.32H266.74M265.86 82.24V83.5M264.16 82.24H267.56M264.16 83.5H267.56M266.66 82.41V83.67M264.96 82.41H268.36M264.96 83.67H268.36M267.45 82.57V83.84M265.75 82.57H269.15M265.75 83.84H269.15M268.23 82.72V84M266.53 82.72H269.93M266.53 84H269.93M268.99 82.87V84.15M267.29 82.87H270.69M267.29 84.15H270.69M269.74 83.02V84.3M268.04 83.02H271.44M268.04 84.3H271.44M270.48 83.16V84.45M268.78 83.16H272.18M268.78 84.45H272.18M271.21 83.3V84.59M269.51 83.3H272.91M269.51 84.59H272.91M271.92 83.44V84.73M270.22 83.44H273.62M270.22 84.73H273.62M272.63 83.58V84.88M270.93 83.58H274.33M270.93 84.88H274.33M273.32 83.71V85.02M271.62 83.71H275.02M271.62 85.02H275.02M274 83.84V85.15M272.3 83.84H275.7M272.3 85.15H275.7M274.68 83.97V85.28M272.98 83.97H276.38M272.98 85.28H276.38M275.34 84.1V85.42M273.64 84.1H277.04M273.64 85.42H277.04M275.99 84.23V85.55M274.29 84.23H277.69M274.29 85.55H277.69M276.64 84.35V85.68M274.94 84.35H278.34M274.94 85.68H278.34M277.27 84.48V85.81M275.57 84.48H278.97M275.57 85.81H278.97M277.9 84.61V85.94M276.2 84.61H279.6M276.2 85.94H279.6M278.52 84.75V86.08M276.82 84.75H280.22M276.82 86.08H280.22M279.13 84.89V86.22M277.43 84.89H280.83M277.43 86.22H280.83M279.73 85.02V86.37M278.03 85.02H281.43M278.03 86.37H281.43M280.32 85.17V86.51M278.62 85.17H282.02M278.62 86.51H282.02M280.91 85.31V86.65M279.21 85.31H282.61M279.21 86.65H282.61M281.49 85.45V86.8M279.79 85.45H283.19M279.79 86.8H283.19M282.06 85.59V86.94M280.36 85.59H283.76M280.36 86.94H283.76M282.63 85.73V87.09M280.93 85.73H284.33M280.93 87.09H284.33M283.18 85.86V87.23M281.48 85.86H284.88M281.48 87.23H284.88M283.73 86V87.36M282.03 86H285.43M282.03 87.36H285.43M284.28 86.13V87.49M282.58 86.13H285.98M282.58 87.49H285.98M284.81 86.25V87.63M283.11 86.25H286.51M283.11 87.63H286.51M285.35 86.38V87.76M283.65 86.38H287.05M283.65 87.76H287.05M285.87 86.51V87.89M284.17 86.51H287.57M284.17 87.89H287.57M286.39 86.65V88.02M284.69 86.65H288.09M284.69 88.02H288.09M286.9 86.78V88.17M285.2 86.78H288.6M285.2 88.17H288.6M287.41 86.93V88.31M285.71 86.93H289.11M285.71 88.31H289.11M287.91 87.08V88.47M286.21 87.08H289.61M286.21 88.47H289.61M288.41 87.24V88.63M286.71 87.24H290.11M286.71 88.63H290.11M288.9 87.41V88.8M287.2 87.41H290.6M287.2 88.8H290.6M289.39 87.58V88.98M287.69 87.58H291.09M287.69 88.98H291.09M289.87 87.76V89.16M288.17 87.76H291.57M288.17 89.16H291.57M290.34 87.95V89.37M288.64 87.95H292.04M288.64 89.37H292.04M290.81 88.13V89.58M289.11 88.13H292.51M289.11 89.58H292.51M291.28 88.32V89.8M289.58 88.32H292.98M289.58 89.8H292.98M291.74 88.52V90.03M290.04 88.52H293.44M290.04 90.03H293.44M292.2 88.73V90.26M290.5 88.73H293.9M290.5 90.26H293.9M292.65 88.96V90.51M290.95 88.96H294.35M290.95 90.51H294.35M293.1 89.19V90.78M291.4 89.19H294.8M291.4 90.78H294.8M293.54 89.44V91.06M291.84 89.44H295.24M291.84 91.06H295.24M293.98 89.71V91.34M292.28 89.71H295.68M292.28 91.34H295.68M294.41 89.97V91.64M292.71 89.97H296.11M292.71 91.64H296.11M294.84 90.25V91.94M293.14 90.25H296.54M293.14 91.94H296.54M295.27 90.53V92.25M293.57 90.53H296.97M293.57 92.25H296.97M295.69 90.82V92.56M293.99 90.82H297.39M293.99 92.56H297.39M296.11 91.12V92.89M294.41 91.12H297.81M294.41 92.89H297.81M296.53 91.44V93.23M294.83 91.44H298.23M294.83 93.23H298.23M296.94 91.77V93.59M295.24 91.77H298.64M295.24 93.59H298.64M297.35 92.12V93.96M295.65 92.12H299.05M295.65 93.96H299.05M297.75 92.5V94.37M296.05 92.5H299.45M296.05 94.37H299.45M298.15 92.91V94.8M296.45 92.91H299.85M296.45 94.8H299.85M298.55 93.34V95.26M296.85 93.34H300.25M296.85 95.26H300.25M298.94 93.79V95.73M297.24 93.79H300.64M297.24 95.73H300.64M299.33 94.25V96.21M297.63 94.25H301.03M297.63 96.21H301.03M299.72 94.72V96.7M298.02 94.72H301.42M298.02 96.7H301.42M300.1 95.18V97.18M298.4 95.18H301.8M298.4 97.18H301.8M300.48 95.66V97.66M298.78 95.66H302.18M298.78 97.66H302.18M300.86 96.12V98.12M299.16 96.12H302.56M299.16 98.12H302.56M301.23 96.57V98.57M299.53 96.57H302.93M299.53 98.57H302.93M301.6 97V99M299.9 97H303.3M299.9 99H303.3M301.97 97.42V99.42M300.27 97.42H303.67M300.27 99.42H303.67M302.34 97.82V99.82M300.64 97.82H304.04M300.64 99.82H304.04M302.7 98.22V100.22M301 98.22H304.4M301 100.22H304.4M303.06 98.61V100.61M301.36 98.61H304.76M301.36 100.61H304.76M303.41 99V101M301.71 99H305.11M301.71 101H305.11M303.77 99.39V101.39M302.07 99.39H305.47M302.07 101.39H305.47M304.12 99.78V101.78M302.42 99.78H305.82M302.42 101.78H305.82M304.46 100.17V102.17M302.76 100.17H306.16M302.76 102.17H306.16M304.81 100.57V102.57M303.11 100.57H306.51M303.11 102.57H306.51M305.15 100.97V102.97M303.45 100.97H306.85M303.45 102.97H306.85M305.49 101.39V103.39M303.79 101.39H307.19M303.79 103.39H307.19M305.83 101.82V103.82M304.13 101.82H307.53M304.13 103.82H307.53M306.17 102.24V104.24M304.47 102.24H307.87M304.47 104.24H307.87M306.5 102.67V104.67M304.8 102.67H308.2M304.8 104.67H308.2M306.83 103.11V105.11M305.13 103.11H308.53M305.13 105.11H308.53M307.16 103.55V105.55M305.46 103.55H308.86M305.46 105.55H308.86M307.48 104V106M305.78 104H309.18M305.78 106H309.18M307.81 104.45V106.45M306.11 104.45H309.51M306.11 106.45H309.51M308.13 104.91V106.91M306.43 104.91H309.83M306.43 106.91H309.83M308.45 105.37V107.37M306.75 105.37H310.15M306.75 107.37H310.15M308.76 105.85V107.85M307.06 105.85H310.46M307.06 107.85H310.46M309.08 106.33V108.33M307.38 106.33H310.78M307.38 108.33H310.78M309.39 106.82V108.82M307.69 106.82H311.09M307.69 108.82H311.09M309.7 107.33V109.33M308 107.33H311.4M308 109.33H311.4M310.01 107.85V109.85M308.31 107.85H311.71M308.31 109.85H311.71M310.31 108.38V110.38M308.61 108.38H312.01M308.61 110.38H312.01M310.62 108.93V110.93M308.92 108.93H312.32M308.92 110.93H312.32M310.92 109.49V111.49M309.22 109.49H312.62M309.22 111.49H312.62M311.22 110.04V112.04M309.52 110.04H312.92M309.52 112.04H312.92M311.52 110.63V112.63M309.82 110.63H313.22M309.82 112.63H313.22M311.81 111.25V113.25M310.11 111.25H313.51M310.11 113.25H313.51M312.11 111.85V113.85M310.41 111.85H313.81M310.41 113.85H313.81M312.4 112.47V114.47M310.7 112.47H314.1M310.7 114.47H314.1M312.69 112.97V114.97M310.99 112.97H314.39M310.99 114.97H314.39M312.98 113.69V115.7M311.28 113.69H314.68M311.28 115.7H314.68M313.26 114.23V116.24M311.56 114.23H314.96M311.56 116.24H314.96M313.55 114.69V116.7M311.85 114.69H315.25M311.85 116.7H315.25M313.83 115.47V117.48M312.13 115.47H315.53M312.13 117.48H315.53M314.11 115.99V118M312.41 115.99H315.81M312.41 118H315.81M314.39 116.7V118.71M312.69 116.7H316.09M312.69 118.71H316.09M314.67 117.26V119.27M312.97 117.26H316.37M312.97 119.27H316.37M314.95 118.05V120.06M313.25 118.05H316.65M313.25 120.06H316.65M315.22 118.57V120.58M313.52 118.57H316.92M313.52 120.58H316.92M315.49 119.13V121.15M313.79 119.13H317.19M313.79 121.15H317.19M315.77 119.96V121.97M314.07 119.96H317.47M314.07 121.97H317.47M316.04 120.49V122.51M314.34 120.49H317.74M314.34 122.51H317.74M316.3 121.02V123.04M314.6 121.02H318M314.6 123.04H318M316.57 121.97V124M314.87 121.97H318.27M314.87 124H318.27M316.83 122.3V124.33M315.13 122.3H318.53M315.13 124.33H318.53M317.1 122.9V124.92M315.4 122.9H318.8M315.4 124.92H318.8M317.36 123.57V125.6M315.66 123.57H319.06M315.66 125.6H319.06M317.62 124.01V126.04M315.92 124.01H319.32M315.92 126.04H319.32M317.88 124.9V126.94M316.18 124.9H319.58M316.18 126.94H319.58M318.14 126.23V128.28M316.44 126.23H319.84M316.44 128.28H319.84M318.39 126.16V128.21M316.69 126.16H320.09M316.69 128.21H320.09M318.65 127.12V129.18M316.95 127.12H320.35M316.95 129.18H320.35M318.9 127.47V129.53M317.2 127.47H320.6M317.2 129.53H320.6M319.15 128.32V130.38M317.45 128.32H320.85M317.45 130.38H320.85M319.4 129.73V131.8M317.7 129.73H321.1M317.7 131.8H321.1M319.65 130.22V132.3M317.95 130.22H321.35M317.95 132.3H321.35M319.9 130.37V132.46M318.2 130.37H321.6M318.2 132.46H321.6M320.14 131.28V133.37M318.44 131.28H321.84M318.44 133.37H321.84M320.39 131.63V133.74M318.69 131.63H322.09M318.69 133.74H322.09M320.63 132.31V134.42M318.93 132.31H322.33M318.93 134.42H322.33M320.88 132.9V135.02M319.18 132.9H322.58M319.18 135.02H322.58M321.12 133.54V135.67M319.42 133.54H322.82M319.42 135.67H322.82M321.36 134.65V136.79M319.66 134.65H323.06M319.66 136.79H323.06M321.59 135.37V137.52M319.89 135.37H323.29M319.89 137.52H323.29M321.83 135.9V138.06M320.13 135.9H323.53M320.13 138.06H323.53M322.07 136.2V138.37M320.37 136.2H323.77M320.37 138.37H323.77M322.3 136.27V138.45M320.6 136.27H324M320.6 138.45H324M322.54 137.31V139.5M320.84 137.31H324.24M320.84 139.5H324.24M322.77 137.5V139.7M321.07 137.5H324.47M321.07 139.7H324.47M323 138.9V141.11M321.3 138.9H324.7M321.3 141.11H324.7M323.23 139.4V141.63M321.53 139.4H324.93M321.53 141.63H324.93M323.46 140.2V142.44M321.76 140.2H325.16M321.76 142.44H325.16M323.69 140.27V142.53M321.99 140.27H325.39M321.99 142.53H325.39M323.91 140.04V142.32M322.21 140.04H325.61M322.21 142.32H325.61M324.14 142.6V144.9M322.44 142.6H325.84M322.44 144.9H325.84M324.36 143.58V145.9M322.66 143.58H326.06M322.66 145.9H326.06M324.59 142.39V144.74M322.89 142.39H326.29M322.89 144.74H326.29M324.81 144.37V146.75M323.11 144.37H326.51M323.11 146.75H326.51M325.03 146V148.4M323.33 146H326.73M323.33 148.4H326.73M325.25 144.97V147.4M323.55 144.97H326.95M323.55 147.4H326.95M325.47 148.09V150.54M323.77 148.09H327.17M323.77 150.54H327.17M325.69 147.11V149.6M323.99 147.11H327.39M323.99 149.6H327.39M325.9 147.25V149.77M324.2 147.25H327.6M324.2 149.77H327.6M326.12 150.14V152.69M324.42 150.14H327.82M324.42 152.69H327.82M326.33 149.97V152.56M324.63 149.97H328.03M324.63 152.56H328.03M326.55 149.85V152.47M324.85 149.85H328.25M324.85 152.47H328.25M326.76 152.1V154.77M325.06 152.1H328.46M325.06 154.77H328.46M326.97 150.01V152.72M325.27 150.01H328.67M325.27 152.72H328.67M327.18 154.69V157.44M325.48 154.69H328.88M325.48 157.44H328.88M327.39 152.66V155.45M325.69 152.66H329.09M325.69 155.45H329.09M327.6 154.64V157.48M325.9 154.64H329.3M325.9 157.48H329.3M327.81 154.62V157.51M326.11 154.62H329.51M326.11 157.51H329.51M328.02 156.37V159.31M326.32 156.37H329.72M326.32 159.31H329.72M328.22 157.71V160.7M326.52 157.71H329.92M326.52 160.7H329.92M328.43 156.35V159.39M326.73 156.35H330.13M326.73 159.39H330.13M328.63 159.17V162.28M326.93 159.17H330.33M326.93 162.28H330.33M328.83 158.52V161.69M327.13 158.52H330.53M327.13 161.69H330.53M329.04 158.73V161.96M327.34 158.73H330.74M327.34 161.96H330.74M329.24 160.12V163.41M327.54 160.12H330.94M327.54 163.41H330.94M329.44 159.75V163.11M327.74 159.75H331.14M327.74 163.11H331.14M329.64 160.77V164.21M327.94 160.77H331.34M327.94 164.21H331.34M329.84 164.12V167.62M328.14 164.12H331.54M328.14 167.62H331.54M330.04 163.21V166.79M328.34 163.21H331.74M328.34 166.79H331.74M330.23 165.98V169.64M328.53 165.98H331.93M328.53 169.64H331.93M330.43 165.62V169.36M328.73 165.62H332.13M328.73 169.36H332.13M330.62 163.99V167.81M328.92 163.99H332.32M328.92 167.81H332.32M330.82 163.24V167.15M329.12 163.24H332.52M329.12 167.15H332.52M331.01 165.97V169.96M329.31 165.97H332.71M329.31 169.96H332.71M331.21 168.32V172.41M329.51 168.32H332.91M329.51 172.41H332.91M331.4 168.61V172.78M329.7 168.61H333.1M329.7 172.78H333.1M331.59 167.82V172.09M329.89 167.82H333.29M329.89 172.09H333.29M331.78 171.88V176.25M330.08 171.88H333.48M330.08 176.25H333.48M331.97 167.49V171.96M330.27 167.49H333.67M330.27 171.96H333.67M332.16 169.06V173.64M330.46 169.06H333.86M330.46 173.64H333.86M332.35 172.42V177.11M330.65 172.42H334.05M330.65 177.11H334.05M332.53 177.25V182.05M330.83 177.25H334.23M330.83 182.05H334.23M332.72 174.44V179.36M331.02 174.44H334.42M331.02 179.36H334.42M332.91 172.22V177.25M331.21 172.22H334.61M331.21 177.25H334.61M333.09 176.31V181.47M331.39 176.31H334.79M331.39 181.47H334.79M333.28 177.26V182.55M331.58 177.26H334.98M331.58 182.55H334.98M333.46 178.6V184.03M331.76 178.6H335.16M331.76 184.03H335.16M333.64 176.26V181.83M331.94 176.26H335.34M331.94 181.83H335.34M333.82 176.06V181.78M332.12 176.06H335.52M332.12 181.78H335.52M334.01 178.94V184.8M332.31 178.94H335.71M332.31 184.8H335.71M334.19 180.36V186.37M332.49 180.36H335.89M332.49 186.37H335.89M334.37 183.96V190.13M332.67 183.96H336.07M332.67 190.13H336.07M334.54 185.94V192.27M332.84 185.94H336.24M332.84 192.27H336.24M334.72 179.63V186.12M333.02 179.63H336.42M333.02 186.12H336.42M334.9 180.83V187.49M333.2 180.83H336.6M333.2 187.49H336.6M335.08 182.71V189.54M333.38 182.71H336.78M333.38 189.54H336.78M335.25 182.91V189.92M333.55 182.91H336.95M333.55 189.92H336.95M335.43 185.63V192.83M333.73 185.63H337.13M333.73 192.83H337.13M335.61 186.38V193.77M333.91 186.38H337.31M333.91 193.77H337.31M335.78 186.47V194.06M334.08 186.47H337.48M334.08 194.06H337.48M335.95 190.5V198.31M334.25 190.5H337.65M334.25 198.31H337.65M336.13 186.68V194.7M334.43 186.68H337.83M334.43 194.7H337.83M336.3 184.51V192.77M334.6 184.51H338M334.6 192.77H338M336.47 183.43V191.93M334.77 183.43H338.17M334.77 191.93H338.17M336.64 185.85V194.6M334.94 185.85H338.34M334.94 194.6H338.34M336.81 186.43V195.44M335.11 186.43H338.51M335.11 195.44H338.51M336.98 183.92V193.21M335.28 183.92H338.68M335.28 193.21H338.68M337.15 194.4V203.98M335.45 194.4H338.85M335.45 203.98H338.85M337.32 193.38V203.27M335.62 193.38H339.02M335.62 203.27H339.02M337.49 191.65V201.87M335.79 191.65H339.19M335.79 201.87H339.19M337.66 190.33V200.9M335.96 190.33H339.36M335.96 200.9H339.36M337.82 187.82V198.76M336.12 187.82H339.52M336.12 198.76H339.52M337.99 191.62V202.96M336.29 191.62H339.69M336.29 202.96H339.69M338.15 202.12V213.88M336.45 202.12H339.85M336.45 213.88H339.85M338.32 186.42V198.62M336.62 186.42H340.02M336.62 198.62H340.02M338.48 199.63V212.3M336.78 199.63H340.18M336.78 212.3H340.18" fill="none" stroke="#0000ff" stroke-width="0.45"/>
<path d="M336.3 209H340.1M338.2 207.1V210.9M336.3 207.1L340.1 210.9M336.3 210.9L340.1 207.1M337.3 210H341.1M339.2 208.1V211.9M337.3 208.1L341.1 211.9M337.3 211.9L341.1 208.1M131 75.44H134.8M132.9 73.54V77.34M131 73.54L134.8 77.34M131 77.34L134.8 73.54M144.07 70.51H147.87M145.97 68.61V72.41M144.07 68.61L147.87 72.41M144.07 72.41L147.87 68.61M154.21 67.78H158.01M156.11 65.88V69.68M154.21 65.88L158.01 69.68M154.21 69.68L158.01 65.88M162.49 66.68H166.29M164.39 64.78V68.58M162.49 64.78L166.29 68.58M162.49 68.58L166.29 64.78M169.49 65.97H173.29M171.39 64.07V67.87M169.49 64.07L173.29 67.87M169.49 67.87L173.29 64.07M175.56 65.6H179.36M177.46 63.7V67.5M175.56 63.7L179.36 67.5M175.56 67.5L179.36 63.7M180.91 65.6H184.71M182.81 63.7V67.5M180.91 63.7L184.71 67.5M180.91 67.5L184.71 63.7M185.69 65.73H189.49M187.59 63.83V67.63M185.69 63.83L189.49 67.63M185.69 67.63L189.49 63.83M190.02 66.32H193.82M191.92 64.42V68.22M190.02 64.42L193.82 68.22M190.02 68.22L193.82 64.42M193.98 66.93H197.78M195.88 65.03V68.83M193.98 65.03L197.78 68.83M193.98 68.83L197.78 65.03M197.61 67.56H201.41M199.51 65.66V69.46M197.61 65.66L201.41 69.46M197.61 69.46L201.41 65.66M200.98 68.2H204.78M202.88 66.3V70.1M200.98 66.3L204.78 70.1M200.98 70.1L204.78 66.3M204.11 68.81H207.91M206.01 66.91V70.71M204.11 66.91L207.91 70.71M204.11 70.71L207.91 66.91M207.05 69.35H210.85M208.95 67.45V71.25M207.05 67.45L210.85 71.25M207.05 71.25L210.85 67.45M209.8 69.85H213.6M211.7 67.95V71.75M209.8 67.95L213.6 71.75M209.8 71.75L213.6 67.95M212.4 70.35H216.2M214.3 68.45V72.25M212.4 68.45L216.2 72.25M212.4 72.25L216.2 68.45M214.85 70.9H218.65M216.75 69V72.8M214.85 69L218.65 72.8M214.85 72.8L218.65 69M217.18 71.47H220.98M219.08 69.57V73.37M217.18 69.57L220.98 73.37M217.18 73.37L220.98 69.57M219.4 72.03H223.2M221.3 70.13V73.93M219.4 70.13L223.2 73.93M219.4 73.93L223.2 70.13M221.51 72.59H225.31M223.41 70.69V74.49M221.51 70.69L225.31 74.49M221.51 74.49L225.31 70.69M223.53 73.11H227.33M225.43 71.21V75.01M223.53 71.21L227.33 75.01M223.53 75.01L227.33 71.21M225.47 73.57H229.27M227.37 71.67V75.47M225.47 71.67L229.27 75.47M225.47 75.47L229.27 71.67M227.32 74.01H231.12M229.22 72.11V75.91M227.32 72.11L231.12 75.91M227.32 75.91L231.12 72.11M229.1 74.45H232.9M231 72.55V76.35M229.1 72.55L232.9 76.35M229.1 76.35L232.9 72.55M230.82 74.89H234.62M232.72 72.99V76.79M230.82 72.99L234.62 76.79M230.82 76.79L234.62 72.99M232.47 75.33H236.27M234.37 73.43V77.23M232.47 73.43L236.27 77.23M232.47 77.23L236.27 73.43M234.06 75.78H237.86M235.96 73.88V77.68M234.06 73.88L237.86 77.68M234.06 77.68L237.86 73.88M235.6 76.26H239.4M237.5 74.36V78.16M235.6 74.36L239.4 78.16M235.6 78.16L239.4 74.36M237.09 76.72H240.89M238.99 74.82V78.62M237.09 74.82L240.89 78.62M237.09 78.62L240.89 74.82M238.54 77.11H242.34M240.44 75.21V79.01M238.54 75.21L242.34 79.01M238.54 79.01L242.34 75.21M239.93 77.46H243.73M241.83 75.56V79.36M239.93 75.56L243.73 79.36M239.93 79.36L243.73 75.56M241.29 77.78H245.09M243.19 75.88V79.68M241.29 75.88L245.09 79.68M241.29 79.68L245.09 75.88M242.61 78.09H246.41M244.51 76.19V79.99M242.61 76.19L246.41 79.99M242.61 79.99L246.41 76.19M243.89 78.38H247.69M245.79 76.48V80.28M243.89 76.48L247.69 80.28M243.89 80.28L247.69 76.48M245.13 78.66H248.93M247.03 76.76V80.56M245.13 76.76L248.93 80.56M245.13 80.56L248.93 76.76M246.34 78.92H250.14M248.24 77.02V80.82M246.34 77.02L250.14 80.82M246.34 80.82L250.14 77.02M247.52 79.17H251.32M249.42 77.27V81.07M247.52 77.27L251.32 81.07M247.52 81.07L251.32 77.27M248.67 79.42H252.47M250.57 77.52V81.32M248.67 77.52L252.47 81.32M248.67 81.32L252.47 77.52M249.79 79.66H253.59M251.69 77.76V81.56M249.79 77.76L253.59 81.56M249.79 81.56L253.59 77.76M250.89 79.89H254.69M252.79 77.99V81.79M250.89 77.99L254.69 81.79M250.89 81.79L254.69 77.99M251.96 80.11H255.76M253.86 78.21V82.01M251.96 78.21L255.76 82.01M251.96 82.01L255.76 78.21M253 80.32H256.8M254.9 78.42V82.22M253 78.42L256.8 82.22M253 82.22L256.8 78.42M254.02 80.54H257.82M255.92 78.64V82.44M254.02 78.64L257.82 82.44M254.02 82.44L257.82 78.64M255.02 80.76H258.82M256.92 78.86V82.66M255.02 78.86L258.82 82.66M255.02 82.66L258.82 78.86M256 80.98H259.8M257.9 79.08V82.88M256 79.08L259.8 82.88M256 82.88L259.8 79.08M256.95 81.21H260.75M258.85 79.31V83.11M256.95 79.31L260.75 83.11M256.95 83.11L260.75 79.31M257.89 81.44H261.69M259.79 79.54V83.34M257.89 79.54L261.69 83.34M257.89 83.34L261.69 79.54M258.81 81.68H262.61M260.71 79.78V83.58M258.81 79.78L262.61 83.58M258.81 83.58L262.61 79.78M259.71 81.91H263.51M261.61 80.01V83.81M259.71 80.01L263.51 83.81M259.71 83.81L263.51 80.01M260.59 82.12H264.39M262.49 80.22V84.02M260.59 80.22L264.39 84.02M260.59 84.02L264.39 80.22M261.46 82.32H265.26M263.36 80.42V84.22M261.46 80.42L265.26 84.22M261.46 84.22L265.26 80.42M262.31 82.51H266.11M264.21 80.61V84.41M262.31 80.61L266.11 84.41M262.31 84.41L266.11 80.61M263.14 82.69H266.94M265.04 80.79V84.59M263.14 80.79L266.94 84.59M263.14 84.59L266.94 80.79M263.96 82.87H267.76M265.86 80.97V84.77M263.96 80.97L267.76 84.77M263.96 84.77L267.76 80.97M264.76 83.04H268.56M266.66 81.14V84.94M264.76 81.14L268.56 84.94M264.76 84.94L268.56 81.14M265.55 83.2H269.35M267.45 81.3V85.1M265.55 81.3L269.35 85.1M265.55 85.1L269.35 81.3M266.33 83.36H270.13M268.23 81.46V85.26M266.33 81.46L270.13 85.26M266.33 85.26L270.13 81.46M267.09 83.51H270.89M268.99 81.61V85.41M267.09 81.61L270.89 85.41M267.09 85.41L270.89 81.61M267.84 83.66H271.64M269.74 81.76V85.56M267.84 81.76L271.64 85.56M267.84 85.56L271.64 81.76M268.58 83.8H272.38M270.48 81.9V85.7M268.58 81.9L272.38 85.7M268.58 85.7L272.38 81.9M269.31 83.95H273.11M271.21 82.05V85.85M269.31 82.05L273.11 85.85M269.31 85.85L273.11 82.05M270.02 84.09H273.82M271.92 82.19V85.99M270.02 82.19L273.82 85.99M270.02 85.99L273.82 82.19M270.73 84.23H274.53M272.63 82.33V86.13M270.73 82.33L274.53 86.13M270.73 86.13L274.53 82.33M271.42 84.36H275.22M273.32 82.46V86.26M271.42 82.46L275.22 86.26M271.42 86.26L275.22 82.46M272.1 84.5H275.9M274 82.6V86.4M272.1 82.6L275.9 86.4M272.1 86.4L275.9 82.6M272.78 84.63H276.58M274.68 82.73V86.53M272.78 82.73L276.58 86.53M272.78 86.53L276.58 82.73M273.44 84.76H277.24M275.34 82.86V86.66M273.44 82.86L277.24 86.66M273.44 86.66L277.24 82.86M274.09 84.89H277.89M275.99 82.99V86.79M274.09 82.99L277.89 86.79M274.09 86.79L277.89 82.99M274.74 85.01H278.54M276.64 83.11V86.91M274.74 83.11L278.54 86.91M274.74 86.91L278.54 83.11M275.37 85.15H279.17M277.27 83.25V87.05M275.37 83.25L279.17 87.05M275.37 87.05L279.17 83.25M276 85.28H279.8M277.9 83.38V87.18M276 83.38L279.8 87.18M276 87.18L279.8 83.38M276.62 85.42H280.42M278.52 83.52V87.32M276.62 83.52L280.42 87.32M276.62 87.32L280.42 83.52M277.23 85.55H281.03M279.13 83.65V87.45M277.23 83.65L281.03 87.45M277.23 87.45L281.03 83.65M277.83 85.7H281.63M279.73 83.8V87.6M277.83 83.8L281.63 87.6M277.83 87.6L281.63 83.8M278.42 85.84H282.22M280.32 83.94V87.74M278.42 83.94L282.22 87.74M278.42 87.74L282.22 83.94M279.01 85.98H282.81M280.91 84.08V87.88M279.01 84.08L282.81 87.88M279.01 87.88L282.81 84.08M279.59 86.12H283.39M281.49 84.22V88.02M279.59 84.22L283.39 88.02M279.59 88.02L283.39 84.22M280.16 86.27H283.96M282.06 84.37V88.17M280.16 84.37L283.96 88.17M280.16 88.17L283.96 84.37M280.73 86.41H284.53M282.63 84.51V88.31M280.73 84.51L284.53 88.31M280.73 88.31L284.53 84.51M281.28 86.55H285.08M283.18 84.65V88.45M281.28 84.65L285.08 88.45M281.28 88.45L285.08 84.65M281.83 86.68H285.63M283.73 84.78V88.58M281.83 84.78L285.63 88.58M281.83 88.58L285.63 84.78M282.38 86.81H286.18M284.28 84.91V88.71M282.38 84.91L286.18 88.71M282.38 88.71L286.18 84.91M282.91 86.94H286.71M284.81 85.04V88.84M282.91 85.04L286.71 88.84M282.91 88.84L286.71 85.04M283.45 87.07H287.25M285.35 85.17V88.97M283.45 85.17L287.25 88.97M283.45 88.97L287.25 85.17M283.97 87.2H287.77M285.87 85.3V89.1M283.97 85.3L287.77 89.1M283.97 89.1L287.77 85.3M284.49 87.34H288.29M286.39 85.44V89.24M284.49 85.44L288.29 89.24M284.49 89.24L288.29 85.44M285 87.47H288.8M286.9 85.57V89.37M285 85.57L288.8 89.37M285 89.37L288.8 85.57M285.51 87.62H289.31M287.41 85.72V89.52M285.51 85.72L289.31 89.52M285.51 89.52L289.31 85.72M286.01 87.77H289.81M287.91 85.87V89.67M286.01 85.87L289.81 89.67M286.01 89.67L289.81 85.87M286.51 87.93H290.31M288.41 86.03V89.83M286.51 86.03L290.31 89.83M286.51 89.83L290.31 86.03M287 88.1H290.8M288.9 86.2V90M287 86.2L290.8 90M287 90L290.8 86.2M287.49 88.28H291.29M289.39 86.38V90.18M287.49 86.38L291.29 90.18M287.49 90.18L291.29 86.38M287.97 88.46H291.77M289.87 86.56V90.36M287.97 86.56L291.77 90.36M287.97 90.36L291.77 86.56M288.44 88.66H292.24M290.34 86.76V90.56M288.44 86.76L292.24 90.56M288.44 90.56L292.24 86.76M288.91 88.86H292.71M290.81 86.96V90.76M288.91 86.96L292.71 90.76M288.91 90.76L292.71 86.96M289.38 89.06H293.18M291.28 87.16V90.96M289.38 87.16L293.18 90.96M289.38 90.96L293.18 87.16M289.84 89.28H293.64M291.74 87.38V91.18M289.84 87.38L293.64 91.18M289.84 91.18L293.64 87.38M290.3 89.5H294.1M292.2 87.6V91.4M290.3 87.6L294.1 91.4M290.3 91.4L294.1 87.6M290.75 89.73H294.55M292.65 87.83V91.63M290.75 87.83L294.55 91.63M290.75 91.63L294.55 87.83M291.2 89.99H295M293.1 88.09V91.89M291.2 88.09L295 91.89M291.2 91.89L295 88.09M291.64 90.25H295.44M293.54 88.35V92.15M291.64 88.35L295.44 92.15M291.64 92.15L295.44 88.35M292.08 90.52H295.88M293.98 88.62V92.42M292.08 88.62L295.88 92.42M292.08 92.42L295.88 88.62M292.51 90.81H296.31M294.41 88.91V92.71M292.51 88.91L296.31 92.71M292.51 92.71L296.31 88.91M292.94 91.09H296.74M294.84 89.19V92.99M292.94 89.19L296.74 92.99M292.94 92.99L296.74 89.19M293.37 91.39H297.17M295.27 89.49V93.29M293.37 89.49L297.17 93.29M293.37 93.29L297.17 89.49M293.79 91.69H297.59M295.69 89.79V93.59M293.79 89.79L297.59 93.59M293.79 93.59L297.59 89.79M294.21 92H298.01M296.11 90.1V93.9M294.21 90.1L298.01 93.9M294.21 93.9L298.01 90.1M294.63 92.33H298.43M296.53 90.43V94.23M294.63 90.43L298.43 94.23M294.63 94.23L298.43 90.43M295.04 92.68H298.84M296.94 90.78V94.58M295.04 90.78L298.84 94.58M295.04 94.58L298.84 90.78M295.45 93.04H299.25M297.35 91.14V94.94M295.45 91.14L299.25 94.94M295.45 94.94L299.25 91.14M295.85 93.44H299.65M297.75 91.54V95.34M295.85 91.54L299.65 95.34M295.85 95.34L299.65 91.54M296.25 93.86H300.05M298.15 91.96V95.76M296.25 91.96L300.05 95.76M296.25 95.76L300.05 91.96M296.65 94.3H300.45M298.55 92.4V96.2M296.65 92.4L300.45 96.2M296.65 96.2L300.45 92.4M297.04 94.76H300.84M298.94 92.86V96.66M297.04 92.86L300.84 96.66M297.04 96.66L300.84 92.86M297.43 95.23H301.23M299.33 93.33V97.13M297.43 93.33L301.23 97.13M297.43 97.13L301.23 93.33M297.82 95.71H301.62M299.72 93.81V97.61M297.82 93.81L301.62 97.61M297.82 97.61L301.62 93.81M298.2 96.18H302M300.1 94.28V98.08M298.2 94.28L302 98.08M298.2 98.08L302 94.28M298.58 96.66H302.38M300.48 94.76V98.56M298.58 94.76L302.38 98.56M298.58 98.56L302.38 94.76M298.96 97.12H302.76M300.86 95.22V99.02M298.96 95.22L302.76 99.02M298.96 99.02L302.76 95.22M299.33 97.57H303.13M301.23 95.67V99.47M299.33 95.67L303.13 99.47M299.33 99.47L303.13 95.67M299.7 98H303.5M301.6 96.1V99.9M299.7 96.1L303.5 99.9M299.7 99.9L303.5 96.1M300.07 98.42H303.87M301.97 96.52V100.32M300.07 96.52L303.87 100.32M300.07 100.32L303.87 96.52M300.44 98.82H304.24M302.34 96.92V100.72M300.44 96.92L304.24 100.72M300.44 100.72L304.24 96.92M300.8 99.22H304.6M302.7 97.32V101.12M300.8 97.32L304.6 101.12M300.8 101.12L304.6 97.32M301.16 99.61H304.96M303.06 97.71V101.51M301.16 97.71L304.96 101.51M301.16 101.51L304.96 97.71M301.51 100H305.31M303.41 98.1V101.9M301.51 98.1L305.31 101.9M301.51 101.9L305.31 98.1M301.87 100.39H305.67M303.77 98.49V102.29M301.87 98.49L305.67 102.29M301.87 102.29L305.67 98.49M302.22 100.78H306.02M304.12 98.88V102.68M302.22 98.88L306.02 102.68M302.22 102.68L306.02 98.88M302.56 101.17H306.36M304.46 99.27V103.07M302.56 99.27L306.36 103.07M302.56 103.07L306.36 99.27M302.91 101.57H306.71M304.81 99.67V103.47M302.91 99.67L306.71 103.47M302.91 103.47L306.71 99.67M303.25 101.97H307.05M305.15 100.07V103.87M303.25 100.07L307.05 103.87M303.25 103.87L307.05 100.07M303.59 102.39H307.39M305.49 100.49V104.29M303.59 100.49L307.39 104.29M303.59 104.29L307.39 100.49M303.93 102.82H307.73M305.83 100.92V104.72M303.93 100.92L307.73 104.72M303.93 104.72L307.73 100.92M304.27 103.24H308.07M306.17 101.34V105.14M304.27 101.34L308.07 105.14M304.27 105.14L308.07 101.34M304.6 103.67H308.4M306.5 101.77V105.57M304.6 101.77L308.4 105.57M304.6 105.57L308.4 101.77M304.93 104.11H308.73M306.83 102.21V106.01M304.93 102.21L308.73 106.01M304.93 106.01L308.73 102.21M305.26 104.55H309.06M307.16 102.65V106.45M305.26 102.65L309.06 106.45M305.26 106.45L309.06 102.65M305.58 105H309.38M307.48 103.1V106.9M305.58 103.1L309.38 106.9M305.58 106.9L309.38 103.1M305.91 105.45H309.71M307.81 103.55V107.35M305.91 103.55L309.71 107.35M305.91 107.35L309.71 103.55M306.23 105.91H310.03M308.13 104.01V107.81M306.23 104.01L310.03 107.81M306.23 107.81L310.03 104.01M306.55 106.37H310.35M308.45 104.47V108.27M306.55 104.47L310.35 108.27M306.55 108.27L310.35 104.47M306.86 106.85H310.66M308.76 104.95V108.75M306.86 104.95L310.66 108.75M306.86 108.75L310.66 104.95M307.18 107.33H310.98M309.08 105.43V109.23M307.18 105.43L310.98 109.23M307.18 109.23L310.98 105.43M307.49 107.82H311.29M309.39 105.92V109.72M307.49 105.92L311.29 109.72M307.49 109.72L311.29 105.92M307.8 108.33H311.6M309.7 106.43V110.23M307.8 106.43L311.6 110.23M307.8 110.23L311.6 106.43M308.11 108.85H311.91M310.01 106.95V110.75M308.11 106.95L311.91 110.75M308.11 110.75L311.91 106.95M308.41 109.38H312.21M310.31 107.48V111.28M308.41 107.48L312.21 111.28M308.41 111.28L312.21 107.48M308.72 109.93H312.52M310.62 108.03V111.83M308.72 108.03L312.52 111.83M308.72 111.83L312.52 108.03M309.02 110.49H312.82M310.92 108.59V112.39M309.02 108.59L312.82 112.39M309.02 112.39L312.82 108.59M309.32 111.04H313.12M311.22 109.14V112.94M309.32 109.14L313.12 112.94M309.32 112.94L313.12 109.14M309.62 111.63H313.42M311.52 109.73V113.53M309.62 109.73L313.42 113.53M309.62 113.53L313.42 109.73M309.91 112.25H313.71M311.81 110.35V114.15M309.91 110.35L313.71 114.15M309.91 114.15L313.71 110.35M310.21 112.85H314.01M312.11 110.95V114.75M310.21 110.95L314.01 114.75M310.21 114.75L314.01 110.95M310.5 113.47H314.3M312.4 111.57V115.37M310.5 111.57L314.3 115.37M310.5 115.37L314.3 111.57M310.79 113.97H314.59M312.69 112.07V115.87M310.79 112.07L314.59 115.87M310.79 115.87L314.59 112.07M311.08 114.69H314.88M312.98 112.79V116.59M311.08 112.79L314.88 116.59M311.08 116.59L314.88 112.79M311.36 115.23H315.16M313.26 113.33V117.13M311.36 113.33L315.16 117.13M311.36 117.13L315.16 113.33M311.65 115.7H315.45M313.55 113.8V117.6M311.65 113.8L315.45 117.6M311.65 117.6L315.45 113.8M311.93 116.48H315.73M313.83 114.58V118.38M311.93 114.58L315.73 118.38M311.93 118.38L315.73 114.58M312.21 117H316.01M314.11 115.1V118.9M312.21 115.1L316.01 118.9M312.21 118.9L316.01 115.1M312.49 117.71H316.29M314.39 115.81V119.61M312.49 115.81L316.29 119.61M312.49 119.61L316.29 115.81M312.77 118.27H316.57M314.67 116.37V120.17M312.77 116.37L316.57 120.17M312.77 120.17L316.57 116.37M313.05 119.06H316.85M314.95 117.16V120.96M313.05 117.16L316.85 120.96M313.05 120.96L316.85 117.16M313.32 119.58H317.12M315.22 117.68V121.48M313.32 117.68L317.12 121.48M313.32 121.48L317.12 117.68M313.59 120.14H317.39M315.49 118.24V122.04M313.59 118.24L317.39 122.04M313.59 122.04L317.39 118.24M313.87 120.97H317.67M315.77 119.07V122.87M313.87 119.07L317.67 122.87M313.87 122.87L317.67 119.07M314.14 121.5H317.94M316.04 119.6V123.4M314.14 119.6L317.94 123.4M314.14 123.4L317.94 119.6M314.4 122.03H318.2M316.3 120.13V123.93M314.4 120.13L318.2 123.93M314.4 123.93L318.2 120.13M314.67 122.99H318.47M316.57 121.09V124.89M314.67 121.09L318.47 124.89M314.67 124.89L318.47 121.09M314.93 123.31H318.73M316.83 121.41V125.21M314.93 121.41L318.73 125.21M314.93 125.21L318.73 121.41M315.2 123.91H319M317.1 122.01V125.81M315.2 122.01L319 125.81M315.2 125.81L319 122.01M315.46 124.58H319.26M317.36 122.68V126.48M315.46 122.68L319.26 126.48M315.46 126.48L319.26 122.68M315.72 125.02H319.52M317.62 123.12V126.92M315.72 123.12L319.52 126.92M315.72 126.92L319.52 123.12M315.98 125.92H319.78M317.88 124.02V127.82M315.98 124.02L319.78 127.82M315.98 127.82L319.78 124.02M316.24 127.26H320.04M318.14 125.36V129.16M316.24 125.36L320.04 129.16M316.24 129.16L320.04 125.36M316.49 127.19H320.29M318.39 125.29V129.09M316.49 125.29L320.29 129.09M316.49 129.09L320.29 125.29M316.75 128.15H320.55M318.65 126.25V130.05M316.75 126.25L320.55 130.05M316.75 130.05L320.55 126.25M317 128.5H320.8M318.9 126.6V130.4M317 126.6L320.8 130.4M317 130.4L320.8 126.6M317.25 129.35H321.05M319.15 127.45V131.25M317.25 127.45L321.05 131.25M317.25 131.25L321.05 127.45M317.5 130.77H321.3M319.4 128.87V132.67M317.5 128.87L321.3 132.67M317.5 132.67L321.3 128.87M317.75 131.26H321.55M319.65 129.36V133.16M317.75 129.36L321.55 133.16M317.75 133.16L321.55 129.36M318 131.42H321.8M319.9 129.52V133.32M318 129.52L321.8 133.32M318 133.32L321.8 129.52M318.24 132.33H322.04M320.14 130.43V134.23M318.24 130.43L322.04 134.23M318.24 134.23L322.04 130.43M318.49 132.69H322.29M320.39 130.79V134.59M318.49 130.79L322.29 134.59M318.49 134.59L322.29 130.79M318.73 133.36H322.53M320.63 131.46V135.26M318.73 131.46L322.53 135.26M318.73 135.26L322.53 131.46M318.98 133.96H322.78M320.88 132.06V135.86M318.98 132.06L322.78 135.86M318.98 135.86L322.78 132.06M319.22 134.61H323.02M321.12 132.71V136.51M319.22 132.71L323.02 136.51M319.22 136.51L323.02 132.71M319.46 135.72H323.26M321.36 133.82V137.62M319.46 133.82L323.26 137.62M319.46 137.62L323.26 133.82M319.69 136.44H323.49M321.59 134.54V138.34M319.69 134.54L323.49 138.34M319.69 138.34L323.49 134.54M319.93 136.98H323.73M321.83 135.08V138.88M319.93 135.08L323.73 138.88M319.93 138.88L323.73 135.08M320.17 137.28H323.97M322.07 135.38V139.18M320.17 135.38L323.97 139.18M320.17 139.18L323.97 135.38M320.4 137.36H324.2M322.3 135.46V139.26M320.4 135.46L324.2 139.26M320.4 139.26L324.2 135.46M320.64 138.41H324.44M322.54 136.51V140.31M320.64 136.51L324.44 140.31M320.64 140.31L324.44 136.51M320.87 138.6H324.67M322.77 136.7V140.5M320.87 136.7L324.67 140.5M320.87 140.5L324.67 136.7M321.1 140.01H324.9M323 138.11V141.91M321.1 138.11L324.9 141.91M321.1 141.91L324.9 138.11M321.33 140.52H325.13M323.23 138.62V142.42M321.33 138.62L325.13 142.42M321.33 142.42L325.13 138.62M321.56 141.32H325.36M323.46 139.42V143.22M321.56 139.42L325.36 143.22M321.56 143.22L325.36 139.42M321.79 141.4H325.59M323.69 139.5V143.3M321.79 139.5L325.59 143.3M321.79 143.3L325.59 139.5M322.01 141.18H325.81M323.91 139.28V143.08M322.01 139.28L325.81 143.08M322.01 143.08L325.81 139.28M322.24 143.75H326.04M324.14 141.85V145.65M322.24 141.85L326.04 145.65M322.24 145.65L326.04 141.85M322.46 144.74H326.26M324.36 142.84V146.64M322.46 142.84L326.26 146.64M322.46 146.64L326.26 142.84M322.69 143.56H326.49M324.59 141.66V145.46M322.69 141.66L326.49 145.46M322.69 145.46L326.49 141.66M322.91 145.56H326.71M324.81 143.66V147.46M322.91 143.66L326.71 147.46M322.91 147.46L326.71 143.66M323.13 147.2H326.93M325.03 145.3V149.1M323.13 145.3L326.93 149.1M323.13 149.1L326.93 145.3M323.35 146.18H327.15M325.25 144.28V148.08M323.35 144.28L327.15 148.08M323.35 148.08L327.15 144.28M323.57 149.31H327.37M325.47 147.41V151.21M323.57 147.41L327.37 151.21M323.57 151.21L327.37 147.41M323.79 148.35H327.59M325.69 146.45V150.25M323.79 146.45L327.59 150.25M323.79 150.25L327.59 146.45M324 148.51H327.8M325.9 146.61V150.41M324 146.61L327.8 150.41M324 150.41L327.8 146.61M324.22 151.42H328.02M326.12 149.52V153.32M324.22 149.52L328.02 153.32M324.22 153.32L328.02 149.52M324.43 151.26H328.23M326.33 149.36V153.16M324.43 149.36L328.23 153.16M324.43 153.16L328.23 149.36M324.65 151.16H328.45M326.55 149.26V153.06M324.65 149.26L328.45 153.06M324.65 153.06L328.45 149.26M324.86 153.43H328.66M326.76 151.53V155.33M324.86 151.53L328.66 155.33M324.86 155.33L328.66 151.53M325.07 151.37H328.87M326.97 149.47V153.27M325.07 149.47L328.87 153.27M325.07 153.27L328.87 149.47M325.28 156.06H329.08M327.18 154.16V157.96M325.28 154.16L329.08 157.96M325.28 157.96L329.08 154.16M325.49 154.05H329.29M327.39 152.15V155.95M325.49 152.15L329.29 155.95M325.49 155.95L329.29 152.15M325.7 156.06H329.5M327.6 154.16V157.96M325.7 154.16L329.5 157.96M325.7 157.96L329.5 154.16M325.91 156.07H329.71M327.81 154.17V157.97M325.91 154.17L329.71 157.97M325.91 157.97L329.71 154.17M326.12 157.84H329.92M328.02 155.94V159.74M326.12 155.94L329.92 159.74M326.12 159.74L329.92 155.94M326.32 159.21H330.12M328.22 157.31V161.11M326.32 157.31L330.12 161.11M326.32 161.11L330.12 157.31M326.53 157.87H330.33M328.43 155.97V159.77M326.53 155.97L330.33 159.77M326.53 159.77L330.33 155.97M326.73 160.72H330.53M328.63 158.82V162.62M326.73 158.82L330.53 162.62M326.73 162.62L330.53 158.82M326.93 160.1H330.73M328.83 158.2V162M326.93 158.2L330.73 162M326.93 162L330.73 158.2M327.14 160.35H330.94M329.04 158.45V162.25M327.14 158.45L330.94 162.25M327.14 162.25L330.94 158.45M327.34 161.77H331.14M329.24 159.87V163.67M327.34 159.87L331.14 163.67M327.34 163.67L331.14 159.87M327.54 161.43H331.34M329.44 159.53V163.33M327.54 159.53L331.34 163.33M327.54 163.33L331.34 159.53M327.74 162.49H331.54M329.64 160.59V164.39M327.74 160.59L331.54 164.39M327.74 164.39L331.54 160.59M327.94 165.87H331.74M329.84 163.97V167.77M327.94 163.97L331.74 167.77M327.94 167.77L331.74 163.97M328.14 165H331.94M330.04 163.1V166.9M328.14 163.1L331.94 166.9M328.14 166.9L331.94 163.1M328.33 167.81H332.13M330.23 165.91V169.71M328.33 165.91L332.13 169.71M328.33 169.71L332.13 165.91M328.53 167.49H332.33M330.43 165.59V169.39M328.53 165.59L332.33 169.39M328.53 169.39L332.33 165.59M328.72 165.9H332.52M330.62 164V167.8M328.72 164L332.52 167.8M328.72 167.8L332.52 164M328.92 165.2H332.72M330.82 163.3V167.1M328.92 163.3L332.72 167.1M328.92 167.1L332.72 163.3M329.11 167.97H332.91M331.01 166.07V169.87M329.11 166.07L332.91 169.87M329.11 169.87L332.91 166.07M329.31 170.37H333.11M331.21 168.47V172.27M329.31 168.47L333.11 172.27M329.31 172.27L333.11 168.47M329.5 170.69H333.3M331.4 168.79V172.59M329.5 168.79L333.3 172.59M329.5 172.59L333.3 168.79M329.69 169.96H333.49M331.59 168.06V171.86M329.69 168.06L333.49 171.86M329.69 171.86L333.49 168.06M329.88 174.07H333.68M331.78 172.17V175.97M329.88 172.17L333.68 175.97M329.88 175.97L333.68 172.17M330.07 169.73H333.87M331.97 167.83V171.63M330.07 167.83L333.87 171.63M330.07 171.63L333.87 167.83M330.26 171.35H334.06M332.16 169.45V173.25M330.26 169.45L334.06 173.25M330.26 173.25L334.06 169.45M330.45 174.76H334.25M332.35 172.86V176.66M330.45 172.86L334.25 176.66M330.45 176.66L334.25 172.86M330.63 179.65H334.43M332.53 177.75V181.55M330.63 177.75L334.43 181.55M330.63 181.55L334.43 177.75M330.82 176.9H334.62M332.72 175V178.8M330.82 175L334.62 178.8M330.82 178.8L334.62 175M331.01 174.73H334.81M332.91 172.83V176.63M331.01 172.83L334.81 176.63M331.01 176.63L334.81 172.83M331.19 178.89H334.99M333.09 176.99V180.79M331.19 176.99L334.99 180.79M331.19 180.79L334.99 176.99M331.38 179.91H335.18M333.28 178.01V181.81M331.38 178.01L335.18 181.81M331.38 181.81L335.18 178.01M331.56 181.32H335.36M333.46 179.42V183.22M331.56 179.42L335.36 183.22M331.56 183.22L335.36 179.42M331.74 179.04H335.54M333.64 177.14V180.94M331.74 177.14L335.54 180.94M331.74 180.94L335.54 177.14M331.92 178.92H335.72M333.82 177.02V180.82M331.92 177.02L335.72 180.82M331.92 180.82L335.72 177.02M332.11 181.87H335.91M334.01 179.97V183.77M332.11 179.97L335.91 183.77M332.11 183.77L335.91 179.97M332.29 183.37H336.09M334.19 181.47V185.27M332.29 181.47L336.09 185.27M332.29 185.27L336.09 181.47M332.47 187.04H336.27M334.37 185.14V188.94M332.47 185.14L336.27 188.94M332.47 188.94L336.27 185.14M332.64 189.1H336.44M334.54 187.2V191M332.64 187.2L336.44 191M332.64 191L336.44 187.2M332.82 182.87H336.62M334.72 180.97V184.77M332.82 180.97L336.62 184.77M332.82 184.77L336.62 180.97M333 184.16H336.8M334.9 182.26V186.06M333 182.26L336.8 186.06M333 186.06L336.8 182.26M333.18 186.12H336.98M335.08 184.22V188.02M333.18 184.22L336.98 188.02M333.18 188.02L336.98 184.22M333.35 186.41H337.15M335.25 184.51V188.31M333.35 184.51L337.15 188.31M333.35 188.31L337.15 184.51M333.53 189.23H337.33M335.43 187.33V191.13M333.53 187.33L337.33 191.13M333.53 191.13L337.33 187.33M333.71 190.07H337.51M335.61 188.17V191.97M333.71 188.17L337.51 191.97M333.71 191.97L337.51 188.17M333.88 190.27H337.68M335.78 188.37V192.17M333.88 188.37L337.68 192.17M333.88 192.17L337.68 188.37M334.05 194.41H337.85M335.95 192.51V196.31M334.05 192.51L337.85 196.31M334.05 196.31L337.85 192.51M334.23 190.69H338.03M336.13 188.79V192.59M334.23 188.79L338.03 192.59M334.23 192.59L338.03 188.79M334.4 188.64H338.2M336.3 186.74V190.54M334.4 186.74L338.2 190.54M334.4 190.54L338.2 186.74M334.57 187.68H338.37M336.47 185.78V189.58M334.57 185.78L338.37 189.58M334.57 189.58L338.37 185.78M334.74 190.23H338.54M336.64 188.33V192.13M334.74 188.33L338.54 192.13M334.74 192.13L338.54 188.33M334.91 190.94H338.71M336.81 189.04V192.84M334.91 189.04L338.71 192.84M334.91 192.84L338.71 189.04M335.08 188.56H338.88M336.98 186.66V190.46M335.08 186.66L338.88 190.46M335.08 190.46L338.88 186.66M335.25 199.19H339.05M337.15 197.29V201.09M335.25 197.29L339.05 201.09M335.25 201.09L339.05 197.29M335.42 198.32H339.22M337.32 196.42V200.22M335.42 196.42L339.22 200.22M335.42 200.22L339.22 196.42M335.59 196.76H339.39M337.49 194.86V198.66M335.59 194.86L339.39 198.66M335.59 198.66L339.39 194.86M335.76 195.62H339.56M337.66 193.72V197.52M335.76 193.72L339.56 197.52M335.76 197.52L339.56 193.72M335.92 193.29H339.72M337.82 191.39V195.19M335.92 191.39L339.72 195.19M335.92 195.19L339.72 191.39M336.09 197.29H339.89M337.99 195.39V199.19M336.09 195.39L339.89 199.19M336.09 199.19L339.89 195.39M336.25 208H340.05M338.15 206.1V209.9M336.25 206.1L340.05 209.9M336.25 209.9L340.05 206.1M336.42 192.52H340.22M338.32 190.62V194.42M336.42 190.62L340.22 194.42M336.42 194.42L340.22 190.62M336.58 205.97H340.38M338.48 204.07V207.87M336.58 204.07L340.38 207.87M336.58 207.87L340.38 204.07" fill="none" stroke="#0000ff" stroke-width="0.55"/>
<path d="M336.4 205.6V219.6M334.7 205.6H338.1M334.7 219.6H338.1M340.6 205.6V219.6M338.9 205.6H342.3M338.9 219.6H342.3M338.5 205.5V216.5M336.8 205.5H340.2M336.8 216.5H340.2M337.5 203.4V212.6M335.8 203.4H339.2M335.8 212.6H339.2M111.3 71.1H114.7M124.37 66.45H127.77M134.51 63.78H137.91M142.79 62.4H146.19M149.79 61.69H153.19M155.86 61.5H159.26M161.21 61.68H164.61M165.99 62.02H169.39M170.32 62.55H173.72M174.28 63.16H177.68M177.91 63.9H181.31M181.28 64.7H184.68M184.41 65.48H187.81M187.35 66.28H190.75M190.1 67.07H193.5M192.7 67.83H196.1M195.15 68.53H198.55M197.48 69.21H200.88M199.7 69.86H203.1M201.81 70.48H205.21M203.83 71.07H207.23M205.77 71.63H209.17M207.62 72.16H211.02M209.4 72.66H212.8M211.12 73.15H214.52M212.77 73.64H216.17M214.36 74.13H217.76M215.9 74.62H219.3M217.39 75.11H220.79M218.84 75.57H222.24M220.23 76.01H223.63M221.59 76.45H224.99M222.91 76.87H226.31M224.19 77.29H227.59M227.13 77.41V78.03M225.43 77.41H228.83M225.43 78.03H228.83M228.34 77.81V78.45M226.64 77.81H230.04M226.64 78.45H230.04M229.52 78.21V78.87M227.82 78.21H231.22M227.82 78.87H231.22M230.67 78.59V79.27M228.97 78.59H232.37M228.97 79.27H232.37M231.79 78.95V79.66M230.09 78.95H233.49M230.09 79.66H233.49M232.89 79.31V80.04M231.19 79.31H234.59M231.19 80.04H234.59M233.96 79.67V80.41M232.26 79.67H235.66M232.26 80.41H235.66M235 80.02V80.78M233.3 80.02H236.7M233.3 80.78H236.7M236.02 80.38V81.16M234.32 80.38H237.72M234.32 81.16H237.72M237.02 80.74V81.54M235.32 80.74H238.72M235.32 81.54H238.72M238 81.1V81.91M236.3 81.1H239.7M236.3 81.91H239.7M238.95 81.44V82.27M237.25 81.44H240.65M237.25 82.27H240.65M239.89 81.74V82.59M238.19 81.74H241.59M238.19 82.59H241.59M240.81 82.02V82.88M239.11 82.02H242.51M239.11 82.88H242.51M241.71 82.29V83.17M240.01 82.29H243.41M240.01 83.17H243.41M242.59 82.54V83.43M240.89 82.54H244.29M240.89 83.43H244.29M243.46 82.77V83.68M241.76 82.77H245.16M241.76 83.68H245.16M244.31 82.98V83.9M242.61 82.98H246.01M242.61 83.9H246.01M245.14 83.16V84.1M243.44 83.16H246.84M243.44 84.1H246.84M245.96 83.32V84.28M244.26 83.32H247.66M244.26 84.28H247.66M246.76 83.47V84.44M245.06 83.47H248.46M245.06 84.44H248.46M247.55 83.61V84.59M245.85 83.61H249.25M245.85 84.59H249.25M248.33 83.73V84.73M246.63 83.73H250.03M246.63 84.73H250.03M249.09 83.85V84.86M247.39 83.85H250.79M247.39 84.86H250.79M249.84 83.96V84.99M248.14 83.96H251.54M248.14 84.99H251.54M250.58 84.07V85.11M248.88 84.07H252.28M248.88 85.11H252.28M251.31 84.18V85.22M249.61 84.18H253.01M249.61 85.22H253.01M252.02 84.27V85.33M250.32 84.27H253.72M250.32 85.33H253.72M252.73 84.37V85.44M251.03 84.37H254.43M251.03 85.44H254.43M253.42 84.46V85.54M251.72 84.46H255.12M251.72 85.54H255.12M254.1 84.54V85.64M252.4 84.54H255.8M252.4 85.64H255.8M254.78 84.63V85.73M253.08 84.63H256.48M253.08 85.73H256.48M255.44 84.71V85.83M253.74 84.71H257.14M253.74 85.83H257.14M256.09 84.79V85.92M254.39 84.79H257.79M254.39 85.92H257.79M256.74 84.87V86.01M255.04 84.87H258.44M255.04 86.01H258.44M257.37 84.94V86.1M255.67 84.94H259.07M255.67 86.1H259.07M258 85.02V86.18M256.3 85.02H259.7M256.3 86.18H259.7M258.62 85.09V86.27M256.92 85.09H260.32M256.92 86.27H260.32M259.23 85.16V86.34M257.53 85.16H260.93M257.53 86.34H260.93M259.83 85.22V86.42M258.13 85.22H261.53M258.13 86.42H261.53M260.42 85.29V86.5M258.72 85.29H262.12M258.72 86.5H262.12M261.01 85.36V86.58M259.31 85.36H262.71M259.31 86.58H262.71M261.59 85.43V86.66M259.89 85.43H263.29M259.89 86.66H263.29M262.16 85.5V86.75M260.46 85.5H263.86M260.46 86.75H263.86M262.73 85.59V86.84M261.03 85.59H264.43M261.03 86.84H264.43M263.28 85.68V86.94M261.58 85.68H264.98M261.58 86.94H264.98M263.83 85.77V87.05M262.13 85.77H265.53M262.13 87.05H265.53M264.38 85.87V87.16M262.68 85.87H266.08M262.68 87.16H266.08M264.91 85.96V87.26M263.21 85.96H266.61M263.21 87.26H266.61M265.45 86.05V87.36M263.75 86.05H267.15M263.75 87.36H267.15M265.97 86.14V87.46M264.27 86.14H267.67M264.27 87.46H267.67M266.49 86.21V87.54M264.79 86.21H268.19M264.79 87.54H268.19M267 86.28V87.62M265.3 86.28H268.7M265.3 87.62H268.7M267.51 86.35V87.7M265.81 86.35H269.21M265.81 87.7H269.21M268.01 86.42V87.78M266.31 86.42H269.71M266.31 87.78H269.71M268.51 86.48V87.86M266.81 86.48H270.21M266.81 87.86H270.21M269 86.55V87.93M267.3 86.55H270.7M267.3 87.93H270.7M269.49 86.61V88M267.79 86.61H271.19M267.79 88H271.19M269.97 86.67V88.07M268.27 86.67H271.67M268.27 88.07H271.67M270.44 86.73V88.14M268.74 86.73H272.14M268.74 88.14H272.14M270.91 86.79V88.21M269.21 86.79H272.61M269.21 88.21H272.61M271.38 86.85V88.28M269.68 86.85H273.08M269.68 88.28H273.08M271.84 86.91V88.35M270.14 86.91H273.54M270.14 88.35H273.54M272.3 86.97V88.42M270.6 86.97H274M270.6 88.42H274M272.75 87.03V88.49M271.05 87.03H274.45M271.05 88.49H274.45M273.2 87.1V88.56M271.5 87.1H274.9M271.5 88.56H274.9M273.64 87.16V88.64M271.94 87.16H275.34M271.94 88.64H275.34M274.08 87.23V88.71M272.38 87.23H275.78M272.38 88.71H275.78M274.51 87.29V88.78M272.81 87.29H276.21M272.81 88.78H276.21M274.94 87.36V88.86M273.24 87.36H276.64M273.24 88.86H276.64M275.37 87.43V88.93M273.67 87.43H277.07M273.67 88.93H277.07M275.79 87.49V89.01M274.09 87.49H277.49M274.09 89.01H277.49M276.21 87.56V89.08M274.51 87.56H277.91M274.51 89.08H277.91M276.63 87.62V89.15M274.93 87.62H278.33M274.93 89.15H278.33M277.04 87.68V89.22M275.34 87.68H278.74M275.34 89.22H278.74M277.45 87.74V89.29M275.75 87.74H279.15M275.75 89.29H279.15M277.85 87.8V89.36M276.15 87.8H279.55M276.15 89.36H279.55M278.25 87.85V89.42M276.55 87.85H279.95M276.55 89.42H279.95M278.65 87.91V89.48M276.95 87.91H280.35M276.95 89.48H280.35M279.04 87.96V89.54M277.34 87.96H280.74M277.34 89.54H280.74M279.43 88.01V89.6M277.73 88.01H281.13M277.73 89.6H281.13M279.82 88.06V89.66M278.12 88.06H281.52M278.12 89.66H281.52M280.2 88.11V89.72M278.5 88.11H281.9M278.5 89.72H281.9M280.58 88.16V89.77M278.88 88.16H282.28M278.88 89.77H282.28M280.96 88.21V89.83M279.26 88.21H282.66M279.26 89.83H282.66M281.33 88.26V89.88M279.63 88.26H283.03M279.63 89.88H283.03M281.7 88.3V89.94M280 88.3H283.4M280 89.94H283.4M282.07 88.35V89.99M280.37 88.35H283.77M280.37 89.99H283.77M282.44 88.4V90.05M280.74 88.4H284.14M280.74 90.05H284.14M282.8 88.44V90.1M281.1 88.44H284.5M281.1 90.1H284.5M283.16 88.49V90.15M281.46 88.49H284.86M281.46 90.15H284.86M283.51 88.53V90.2M281.81 88.53H285.21M281.81 90.2H285.21M283.87 88.58V90.25M282.17 88.58H285.57M282.17 90.25H285.57M284.22 88.62V90.3M282.52 88.62H285.92M282.52 90.3H285.92M284.56 88.66V90.35M282.86 88.66H286.26M282.86 90.35H286.26M284.91 88.7V90.4M283.21 88.7H286.61M283.21 90.4H286.61M285.25 88.74V90.44M283.55 88.74H286.95M283.55 90.44H286.95M285.59 88.78V90.49M283.89 88.78H287.29M283.89 90.49H287.29M285.93 88.82V90.54M284.23 88.82H287.63M284.23 90.54H287.63M286.27 88.86V90.59M284.57 88.86H287.97M284.57 90.59H287.97M286.6 88.91V90.64M284.9 88.91H288.3M284.9 90.64H288.3M286.93 88.95V90.69M285.23 88.95H288.63M285.23 90.69H288.63M287.26 89V90.75M285.56 89H288.96M285.56 90.75H288.96M287.58 89.05V90.8M285.88 89.05H289.28M285.88 90.8H289.28M287.91 89.1V90.86M286.21 89.1H289.61M286.21 90.86H289.61M288.23 89.16V90.92M286.53 89.16H289.93M286.53 90.92H289.93M288.55 89.22V90.99M286.85 89.22H290.25M286.85 90.99H290.25M288.86 89.28V91.06M287.16 89.28H290.56M287.16 91.06H290.56M289.18 89.34V91.12M287.48 89.34H290.88M287.48 91.12H290.88M289.49 89.41V91.2M287.79 89.41H291.19M287.79 91.2H291.19M289.8 89.48V91.27M288.1 89.48H291.5M288.1 91.27H291.5M290.11 89.55V91.35M288.41 89.55H291.81M288.41 91.35H291.81M290.41 89.62V91.43M288.71 89.62H292.11M288.71 91.43H292.11M290.72 89.7V91.51M289.02 89.7H292.42M289.02 91.51H292.42M291.02 89.78V91.6M289.32 89.78H292.72M289.32 91.6H292.72M291.32 89.87V91.69M289.62 89.87H293.02M289.62 91.69H293.02M291.62 89.96V91.79M289.92 89.96H293.32M289.92 91.79H293.32M291.91 90.05V91.89M290.21 90.05H293.61M290.21 91.89H293.61M292.21 90.15V92M290.51 90.15H293.91M290.51 92H293.91M292.5 90.26V92.11M290.8 90.26H294.2M290.8 92.11H294.2M292.79 90.39V92.24M291.09 90.39H294.49M291.09 92.24H294.49M293.08 90.52V92.38M291.38 90.52H294.78M291.38 92.38H294.78M293.36 90.66V92.53M291.66 90.66H295.06M291.66 92.53H295.06M293.65 90.81V92.68M291.95 90.81H295.35M291.95 92.68H295.35M293.93 90.96V92.84M292.23 90.96H295.63M292.23 92.84H295.63M294.21 91.11V92.99M292.51 91.11H295.91M292.51 92.99H295.91M294.49 91.27V93.16M292.79 91.27H296.19M292.79 93.16H296.19M294.77 91.42V93.32M293.07 91.42H296.47M293.07 93.32H296.47M295.05 91.58V93.48M293.35 91.58H296.75M293.35 93.48H296.75M295.32 91.74V93.64M293.62 91.74H297.02M293.62 93.64H297.02M295.59 91.9V93.81M293.89 91.9H297.29M293.89 93.81H297.29M295.87 92.07V93.99M294.17 92.07H297.57M294.17 93.99H297.57M296.14 92.24V94.17M294.44 92.24H297.84M294.44 94.17H297.84M296.4 92.42V94.35M294.7 92.42H298.1M294.7 94.35H298.1M296.67 92.6V94.53M294.97 92.6H298.37M294.97 94.53H298.37M296.93 92.78V94.72M295.23 92.78H298.63M295.23 94.72H298.63M297.2 92.96V94.9M295.5 92.96H298.9M295.5 94.9H298.9M297.46 93.14V95.09M295.76 93.14H299.16M295.76 95.09H299.16M297.72 93.31V95.27M296.02 93.31H299.42M296.02 95.27H299.42M297.98 93.49V95.45M296.28 93.49H299.68M296.28 95.45H299.68M298.24 93.66V95.63M296.54 93.66H299.94M296.54 95.63H299.94M298.49 93.84V95.81M296.79 93.84H300.19M296.79 95.81H300.19M298.75 94.01V95.99M297.05 94.01H300.45M297.05 95.99H300.45M299 94.19V96.17M297.3 94.19H300.7M297.3 96.17H300.7M299.25 94.36V96.35M297.55 94.36H300.95M297.55 96.35H300.95M299.5 94.54V96.53M297.8 94.54H301.2M297.8 96.53H301.2M299.75 94.71V96.71M298.05 94.71H301.45M298.05 96.71H301.45M300 94.89V96.89M298.3 94.89H301.7M298.3 96.89H301.7M300.24 95.07V97.07M298.54 95.07H301.94M298.54 97.07H301.94M300.49 95.25V97.25M298.79 95.25H302.19M298.79 97.25H302.19M300.73 95.44V97.44M299.03 95.44H302.43M299.03 97.44H302.43M300.98 95.63V97.63M299.28 95.63H302.68M299.28 97.63H302.68M301.22 95.82V97.82M299.52 95.82H302.92M299.52 97.82H302.92M301.46 96.01V98.01M299.76 96.01H303.16M299.76 98.01H303.16M301.69 96.21V98.21M299.99 96.21H303.39M299.99 98.21H303.39M301.93 96.41V98.41M300.23 96.41H303.63M300.23 98.41H303.63M302.17 96.61V98.61M300.47 96.61H303.87M300.47 98.61H303.87M302.4 96.82V98.82M300.7 96.82H304.1M300.7 98.82H304.1M302.64 97.03V99.03M300.94 97.03H304.34M300.94 99.03H304.34M302.87 97.25V99.25M301.17 97.25H304.57M301.17 99.25H304.57M303.1 97.48V99.48M301.4 97.48H304.8M301.4 99.48H304.8M303.33 97.71V99.71M301.63 97.71H305.03M301.63 99.71H305.03M303.56 97.94V99.94M301.86 97.94H305.26M301.86 99.94H305.26M303.79 98.19V100.19M302.09 98.19H305.49M302.09 100.19H305.49M304.01 98.43V100.43M302.31 98.43H305.71M302.31 100.43H305.71M304.24 98.68V100.68M302.54 98.68H305.94M302.54 100.68H305.94M304.46 98.94V100.94M302.76 98.94H306.16M302.76 100.94H306.16M304.69 99.19V101.19M302.99 99.19H306.39M302.99 101.19H306.39M304.91 99.45V101.45M303.21 99.45H306.61M303.21 101.45H306.61M305.13 99.72V101.72M303.43 99.72H306.83M303.43 101.72H306.83M305.35 99.98V101.98M303.65 99.98H307.05M303.65 101.98H307.05M305.57 100.25V102.25M303.87 100.25H307.27M303.87 102.25H307.27M305.79 100.51V102.51M304.09 100.51H307.49M304.09 102.51H307.49M306 100.78V102.78M304.3 100.78H307.7M304.3 102.78H307.7M306.22 101.05V103.05M304.52 101.05H307.92M304.52 103.05H307.92M306.43 101.32V103.32M304.73 101.32H308.13M304.73 103.32H308.13M306.65 101.58V103.58M304.95 101.58H308.35M304.95 103.58H308.35M306.86 101.85V103.85M305.16 101.85H308.56M305.16 103.85H308.56M307.07 102.12V104.12M305.37 102.12H308.77M305.37 104.12H308.77M307.28 102.39V104.39M305.58 102.39H308.98M305.58 104.39H308.98M307.49 102.67V104.67M305.79 102.67H309.19M305.79 104.67H309.19M307.7 102.94V104.94M306 102.94H309.4M306 104.94H309.4M307.91 103.22V105.22M306.21 103.22H309.61M306.21 105.22H309.61M308.12 103.49V105.49M306.42 103.49H309.82M306.42 105.49H309.82M308.32 103.77V105.77M306.62 103.77H310.02M306.62 105.77H310.02M308.53 104.06V106.06M306.83 104.06H310.23M306.83 106.06H310.23M308.73 104.34V106.34M307.03 104.34H310.43M307.03 106.34H310.43M308.93 104.63V106.63M307.23 104.63H310.63M307.23 106.63H310.63M309.14 104.92V106.92M307.44 104.92H310.84M307.44 106.92H310.84M309.34 105.21V107.21M307.64 105.21H311.04M307.64 107.21H311.04M309.54 105.51V107.51M307.84 105.51H311.24M307.84 107.51H311.24M309.74 105.81V107.81M308.04 105.81H311.44M308.04 107.81H311.44M309.94 106.12V108.12M308.24 106.12H311.64M308.24 108.12H311.64M310.14 106.42V108.42M308.44 106.42H311.84M308.44 108.42H311.84M310.33 106.73V108.73M308.63 106.73H312.03M308.63 108.73H312.03M310.53 107.05V109.05M308.83 107.05H312.23M308.83 109.05H312.23M310.72 107.37V109.37M309.02 107.37H312.42M309.02 109.37H312.42M310.92 107.69V109.69M309.22 107.69H312.62M309.22 109.69H312.62M311.11 108.03V110.03M309.41 108.03H312.81M309.41 110.03H312.81M311.31 108.37V110.37M309.61 108.37H313.01M309.61 110.37H313.01M311.5 108.71V110.71M309.8 108.71H313.2M309.8 110.71H313.2M311.69 109.06V111.06M309.99 109.06H313.39M309.99 111.06H313.39M311.88 109.4V111.4M310.18 109.4H313.58M310.18 111.4H313.58M312.07 109.78V111.78M310.37 109.78H313.77M310.37 111.78H313.77M312.26 110.12V112.12M310.56 110.12H313.96M310.56 112.12H313.96M312.45 110.47V112.47M310.75 110.47H314.15M310.75 112.47H314.15M312.63 110.88V112.88M310.93 110.88H314.33M310.93 112.88H314.33M312.82 111.17V113.17M311.12 111.17H314.52M311.12 113.17H314.52M313.01 111.64V113.64M311.31 111.64H314.71M311.31 113.64H314.71M313.19 111.99V113.99M311.49 111.99H314.89M311.49 113.99H314.89M313.38 112.37V114.38M311.68 112.37H315.08M311.68 114.38H315.08M313.56 112.71V114.71M311.86 112.71H315.26M311.86 114.71H315.26M313.74 113.02V115.02M312.04 113.02H315.44M312.04 115.02H315.44M313.92 113.34V115.35M312.22 113.34H315.62M312.22 115.35H315.62M314.11 113.95V115.96M312.41 113.95H315.81M312.41 115.96H315.81M314.29 114.19V116.19M312.59 114.19H315.99M312.59 116.19H315.99M314.47 114.57V116.57M312.77 114.57H316.17M312.77 116.57H316.17M314.64 115.14V117.14M312.94 115.14H316.34M312.94 117.14H316.34M314.82 115.32V117.32M313.12 115.32H316.52M313.12 117.32H316.52M315 115.74V117.75M313.3 115.74H316.7M313.3 117.75H316.7M315.18 116.13V118.13M313.48 116.13H316.88M313.48 118.13H316.88M315.35 116.53V118.54M313.65 116.53H317.05M313.65 118.54H317.05M315.53 116.8V118.81M313.83 116.8H317.23M313.83 118.81H317.23M315.71 117.26V119.26M314.01 117.26H317.41M314.01 119.26H317.41M315.88 117.91V119.92M314.18 117.91H317.58M314.18 119.92H317.58M316.05 118.24V120.25M314.35 118.24H317.75M314.35 120.25H317.75M316.23 118.17V120.18M314.53 118.17H317.93M314.53 120.18H317.93M316.4 118.6V120.61M314.7 118.6H318.1M314.7 120.61H318.1M316.57 119.38V121.4M314.87 119.38H318.27M314.87 121.4H318.27M316.74 119.71V121.72M315.04 119.71H318.44M315.04 121.72H318.44M316.91 120.06V122.08M315.21 120.06H318.61M315.21 122.08H318.61M317.08 120.75V122.76M315.38 120.75H318.78M315.38 122.76H318.78M317.25 120.58V122.59M315.55 120.58H318.95M315.55 122.59H318.95M317.42 121.62V123.64M315.72 121.62H319.12M315.72 123.64H319.12M317.59 121.8V123.82M315.89 121.8H319.29M315.89 123.82H319.29M317.76 122.31V124.33M316.06 122.31H319.46M316.06 124.33H319.46M317.92 122.66V124.68M316.22 122.66H319.62M316.22 124.68H319.62M318.09 123.23V125.25M316.39 123.23H319.79M316.39 125.25H319.79M318.25 123.36V125.39M316.55 123.36H319.95M316.55 125.39H319.95M318.42 123.71V125.73M316.72 123.71H320.12M316.72 125.73H320.12M318.58 124.52V126.55M316.88 124.52H320.28M316.88 126.55H320.28M318.75 124.79V126.82M317.05 124.79H320.45M317.05 126.82H320.45M318.91 124.77V126.81M317.21 124.77H320.61M317.21 126.81H320.61M319.07 126.07V128.1M317.37 126.07H320.77M317.37 128.1H320.77M319.23 126.49V128.53M317.53 126.49H320.93M317.53 128.53H320.93M319.4 127.04V129.08M317.7 127.04H321.1M317.7 129.08H321.1M319.56 127.01V129.05M317.86 127.01H321.26M317.86 129.05H321.26M319.72 127.57V129.61M318.02 127.57H321.42M318.02 129.61H321.42M319.88 127.74V129.79M318.18 127.74H321.58M318.18 129.79H321.58M320.04 127.95V130.01M318.34 127.95H321.74M318.34 130.01H321.74M320.19 128.83V130.89M318.49 128.83H321.89M318.49 130.89H321.89M320.35 129.33V131.39M318.65 129.33H322.05M318.65 131.39H322.05M320.51 129.43V131.49M318.81 129.43H322.21M318.81 131.49H322.21M320.67 130.98V133.04M318.97 130.98H322.37M318.97 133.04H322.37M320.82 129.89V131.96M319.12 129.89H322.52M319.12 131.96H322.52M320.98 130.69V132.77M319.28 130.69H322.68M319.28 132.77H322.68M321.13 131.2V133.28M319.43 131.2H322.83M319.43 133.28H322.83M321.29 132.57V134.65M319.59 132.57H322.99M319.59 134.65H322.99M321.44 132.27V134.36M319.74 132.27H323.14M319.74 134.36H323.14M321.6 132.67V134.76M319.9 132.67H323.3M319.9 134.76H323.3M321.75 132.82V134.92M320.05 132.82H323.45M320.05 134.92H323.45M321.9 133.3V135.41M320.2 133.3H323.6M320.2 135.41H323.6M322.05 133.45V135.56M320.35 133.45H323.75M320.35 135.56H323.75M322.21 135.03V137.14M320.51 135.03H323.91M320.51 137.14H323.91M322.36 135.23V137.35M320.66 135.23H324.06M320.66 137.35H324.06M322.51 135.82V137.94M320.81 135.82H324.21M320.81 137.94H324.21M322.66 135.38V137.51M320.96 135.38H324.36M320.96 137.51H324.36M322.81 137.15V139.28M321.11 137.15H324.51M321.11 139.28H324.51M322.96 135.97V138.11M321.26 135.97H324.66M321.26 138.11H324.66M323.11 135.79V137.94M321.41 135.79H324.81M321.41 137.94H324.81M323.25 137.02V139.18M321.55 137.02H324.95M321.55 139.18H324.95M323.4 137.62V139.77M321.7 137.62H325.1M321.7 139.77H325.1M323.55 138.35V140.51M321.85 138.35H325.25M321.85 140.51H325.25M323.7 137.72V139.89M322 137.72H325.4M322 139.89H325.4M323.84 139.11V141.29M322.14 139.11H325.54M322.14 141.29H325.54M323.99 140.33V142.52M322.29 140.33H325.69M322.29 142.52H325.69M324.13 139.02V141.22M322.43 139.02H325.83M322.43 141.22H325.83M324.28 139.55V141.75M322.58 139.55H325.98M322.58 141.75H325.98M324.42 139.25V141.46M322.72 139.25H326.12M322.72 141.46H326.12M324.57 141.29V143.51M322.87 141.29H326.27M322.87 143.51H326.27M324.71 142.33V144.57M323.01 142.33H326.41M323.01 144.57H326.41M324.85 142.8V145.05M323.15 142.8H326.55M323.15 145.05H326.55M325 143.42V145.68M323.3 143.42H326.7M323.3 145.68H326.7M325.14 144.53V146.81M323.44 144.53H326.84M323.44 146.81H326.84M325.28 143.85V146.14M323.58 143.85H326.98M323.58 146.14H326.98M325.42 145.24V147.54M323.72 145.24H327.12M323.72 147.54H327.12M325.56 143.84V146.16M323.86 143.84H327.26M323.86 146.16H327.26M325.7 144.55V146.88M324 144.55H327.4M324 146.88H327.4M325.84 146.2V148.55M324.14 146.2H327.54M324.14 148.55H327.54M325.98 145.59V147.96M324.28 145.59H327.68M324.28 147.96H327.68M326.12 147.68V150.07M324.42 147.68H327.82M324.42 150.07H327.82M326.26 149.15V151.55M324.56 149.15H327.96M324.56 151.55H327.96M326.4 148.61V151.03M324.7 148.61H328.1M324.7 151.03H328.1M326.54 147.83V150.27M324.84 147.83H328.24M324.84 150.27H328.24M326.67 148.35V150.81M324.97 148.35H328.37M324.97 150.81H328.37M326.81 151.49V153.97M325.11 151.49H328.51M325.11 153.97H328.51M326.95 149.34V151.84M325.25 149.34H328.65M325.25 151.84H328.65M327.08 151.03V153.55M325.38 151.03H328.78M325.38 153.55H328.78M327.22 151.12V153.67M325.52 151.12H328.92M325.52 153.67H328.92M327.35 152.1V154.67M325.65 152.1H329.05M325.65 154.67H329.05M327.49 154.14V156.74M325.79 154.14H329.19M325.79 156.74H329.19M327.62 152.36V154.99M325.92 152.36H329.32M325.92 154.99H329.32M327.76 151.61V154.26M326.06 151.61H329.46M326.06 154.26H329.46M327.89 156.49V159.17M326.19 156.49H329.59M326.19 159.17H329.59M328.03 155.19V157.89M326.33 155.19H329.73M326.33 157.89H329.73M328.16 156.56V159.3M326.46 156.56H329.86M326.46 159.3H329.86M328.29 155.94V158.71M326.59 155.94H329.99M326.59 158.71H329.99M328.42 157.84V160.65M326.72 157.84H330.12M326.72 160.65H330.12M328.56 159.28V162.12M326.86 159.28H330.26M326.86 162.12H330.26M328.69 160.08V162.95M326.99 160.08H330.39M326.99 162.95H330.39M328.82 157.76V160.66M327.12 157.76H330.52M327.12 160.66H330.52M328.95 158.17V161.11M327.25 158.17H330.65M327.25 161.11H330.65M329.08 160.14V163.11M327.38 160.14H330.78M327.38 163.11H330.78M329.21 160.37V163.38M327.51 160.37H330.91M327.51 163.38H330.91M329.34 161.66V164.71M327.64 161.66H331.04M327.64 164.71H331.04M329.47 159.69V162.79M327.77 159.69H331.17M327.77 162.79H331.17M329.6 157.18V160.32M327.9 157.18H331.3M327.9 160.32H331.3M329.73 163.22V166.4M328.03 163.22H331.43M328.03 166.4H331.43M329.85 164.53V167.76M328.15 164.53H331.55M328.15 167.76H331.55M329.98 164.84V168.12M328.28 164.84H331.68M328.28 168.12H331.68M330.11 167.72V171.04M328.41 167.72H331.81M328.41 171.04H331.81M330.24 166.54V169.91M328.54 166.54H331.94M328.54 169.91H331.94M330.36 164.28V167.7M328.66 164.28H332.06M328.66 167.7H332.06M330.49 168.1V171.57M328.79 168.1H332.19M328.79 171.57H332.19M330.61 166.14V169.67M328.91 166.14H332.31M328.91 169.67H332.31M330.74 170.02V173.61M329.04 170.02H332.44M329.04 173.61H332.44M330.87 168.11V171.76M329.17 168.11H332.57M329.17 171.76H332.57M330.99 169.26V172.97M329.29 169.26H332.69M329.29 172.97H332.69M331.12 169.29V173.06M329.42 169.29H332.82M329.42 173.06H332.82M331.24 169.43V173.26M329.54 169.43H332.94M329.54 173.26H332.94M331.36 165.73V169.63M329.66 165.73H333.06M329.66 169.63H333.06M331.49 170.66V174.62M329.79 170.66H333.19M329.79 174.62H333.19M331.61 164.68V168.72M329.91 164.68H333.31M329.91 168.72H333.31M331.73 173.2V177.31M330.03 173.2H333.43M330.03 177.31H333.43M331.86 175.36V179.55M330.16 175.36H333.56M330.16 179.55H333.56M331.98 179.36V183.62M330.28 179.36H333.68M330.28 183.62H333.68M332.1 174.77V179.11M330.4 174.77H333.8M330.4 179.11H333.8M332.22 171.87V176.3M330.52 171.87H333.92M330.52 176.3H333.92M332.34 169.56V174.07M330.64 169.56H334.04M330.64 174.07H334.04M332.46 182.02V186.62M330.76 182.02H334.16M330.76 186.62H334.16M332.59 171.18V175.87M330.89 171.18H334.29M330.89 175.87H334.29M332.71 179.83V184.61M331.01 179.83H334.41M331.01 184.61H334.41M332.83 169.53V174.41M331.13 169.53H334.53M331.13 174.41H334.53M332.95 177.77V182.75M331.25 177.77H334.65M331.25 182.75H334.65M333.06 181.01V186.09M331.36 181.01H334.76M331.36 186.09H334.76M333.18 180.34V185.52M331.48 180.34H334.88M331.48 185.52H334.88M333.3 179.62V184.9M331.6 179.62H335M331.6 184.9H335M333.42 177.35V182.74M331.72 177.35H335.12M331.72 182.74H335.12M333.54 177.61V183.1M331.84 177.61H335.24M331.84 183.1H335.24M333.66 185.32V190.92M331.96 185.32H335.36M331.96 190.92H335.36M333.77 183.79V189.5M332.07 183.79H335.47M332.07 189.5H335.47M333.89 182.11V187.93M332.19 182.11H335.59M332.19 187.93H335.59M334.01 184.13V190.07M332.31 184.13H335.71M332.31 190.07H335.71M334.13 180.19V186.26M332.43 180.19H335.83M332.43 186.26H335.83M334.24 188.68V194.87M332.54 188.68H335.94M332.54 194.87H335.94M334.36 190.38V196.69M332.66 190.38H336.06M332.66 196.69H336.06M334.47 182.35V188.8M332.77 182.35H336.17M332.77 188.8H336.17M334.59 186.76V193.35M332.89 186.76H336.29M332.89 193.35H336.29M334.7 191.67V198.4M333 191.67H336.4M333 198.4H336.4M334.82 184.56V191.43M333.12 184.56H336.52M333.12 191.43H336.52M334.93 197.97V205M333.23 197.97H336.63M333.23 205H336.63M335.05 196.33V203.52M333.35 196.33H336.75M333.35 203.52H336.75M335.16 188.05V195.41M333.46 188.05H336.86M333.46 195.41H336.86M335.28 195.34V202.88M333.58 195.34H336.98M333.58 202.88H336.98M335.39 199.96V207.68M333.69 199.96H337.09M333.69 207.68H337.09M335.5 184.41V192.32M333.8 184.41H337.2M333.8 192.32H337.2M335.61 195.88V203.99M333.91 195.88H337.31M333.91 203.99H337.31M335.73 192.04V200.36M334.03 192.04H337.43M334.03 200.36H337.43M335.84 192.26V200.81M334.14 192.26H337.54M334.14 200.81H337.54M335.95 199.29V208.08M334.25 199.29H337.65M334.25 208.08H337.65M336.06 191.8V200.84M334.36 191.8H337.76M334.36 200.84H337.76M336.17 185.6V194.91M334.47 185.6H337.87M334.47 194.91H337.87M336.29 185.88V195.48M334.59 185.88H337.99M334.59 195.48H337.99M336.4 197.54V207.44M334.7 197.54H338.1M334.7 207.44H338.1M336.51 203.72V213.94M334.81 203.72H338.21M334.81 213.94H338.21M336.62 199.23V209.78M334.92 199.23H338.32M334.92 209.78H338.32M336.73 198.99V209.9M335.03 198.99H338.43M335.03 209.9H338.43M336.84 200.93V212.21M335.14 200.93H338.54M335.14 212.21H338.54M336.95 207.67V219.33M335.25 207.67H338.65M335.25 219.33H338.65M337.06 207.47V219.53M335.36 207.47H338.76M335.36 219.53H338.76M337.17 196.84V209.33M335.47 196.84H338.87M335.47 209.33H338.87M337.27 201.97V214.9M335.57 201.97H338.97M335.57 214.9H338.97" fill="none" stroke="#ff00ff" stroke-width="0.45"/>
<path d="M334.6 210.8H338.2V214.4H334.6ZM338.8 210.8H342.4V214.4H338.8ZM336.7 209.2H340.3V212.8H336.7ZM335.7 206.2H339.3V209.8H335.7ZM111.2 69.3H114.8V72.9H111.2ZM124.27 64.65H127.87V68.25H124.27ZM134.41 61.98H138.01V65.58H134.41ZM142.69 60.6H146.29V64.2H142.69ZM149.69 59.89H153.29V63.49H149.69ZM155.76 59.7H159.36V63.3H155.76ZM161.11 59.88H164.71V63.48H161.11ZM165.89 60.22H169.49V63.82H165.89ZM170.22 60.75H173.82V64.35H170.22ZM174.18 61.36H177.78V64.96H174.18ZM177.81 62.1H181.41V65.7H177.81ZM181.18 62.9H184.78V66.5H181.18ZM184.31 63.68H187.91V67.28H184.31ZM187.25 64.48H190.85V68.08H187.25ZM190 65.27H193.6V68.87H190ZM192.6 66.03H196.2V69.63H192.6ZM195.05 66.73H198.65V70.33H195.05ZM197.38 67.41H200.98V71.01H197.38ZM199.6 68.06H203.2V71.66H199.6ZM201.71 68.68H205.31V72.28H201.71ZM203.73 69.27H207.33V72.87H203.73ZM205.67 69.83H209.27V73.43H205.67ZM207.52 70.36H211.12V73.96H207.52ZM209.3 70.86H212.9V74.46H209.3ZM211.02 71.35H214.62V74.95H211.02ZM212.67 71.84H216.27V75.44H212.67ZM214.26 72.33H217.86V75.93H214.26ZM215.8 72.82H219.4V76.42H215.8ZM217.29 73.31H220.89V76.91H217.29ZM218.74 73.77H222.34V77.37H218.74ZM220.13 74.21H223.73V77.81H220.13ZM221.49 74.65H225.09V78.25H221.49ZM222.81 75.07H226.41V78.67H222.81ZM224.09 75.49H227.69V79.09H224.09ZM225.33 75.92H228.93V79.52H225.33ZM226.54 76.33H230.14V79.93H226.54ZM227.72 76.74H231.32V80.34H227.72ZM228.87 77.13H232.47V80.73H228.87ZM229.99 77.51H233.59V81.11H229.99ZM231.09 77.88H234.69V81.48H231.09ZM232.16 78.24H235.76V81.84H232.16ZM233.2 78.6H236.8V82.2H233.2ZM234.22 78.97H237.82V82.57H234.22ZM235.22 79.34H238.82V82.94H235.22ZM236.2 79.71H239.8V83.31H236.2ZM237.15 80.05H240.75V83.65H237.15ZM238.09 80.37H241.69V83.97H238.09ZM239.01 80.65H242.61V84.25H239.01ZM239.91 80.93H243.51V84.53H239.91ZM240.79 81.19H244.39V84.79H240.79ZM241.66 81.42H245.26V85.02H241.66ZM242.51 81.64H246.11V85.24H242.51ZM243.34 81.83H246.94V85.43H243.34ZM244.16 82H247.76V85.6H244.16ZM244.96 82.16H248.56V85.76H244.96ZM245.75 82.3H249.35V85.9H245.75ZM246.53 82.43H250.13V86.03H246.53ZM247.29 82.56H250.89V86.16H247.29ZM248.04 82.68H251.64V86.28H248.04ZM248.78 82.79H252.38V86.39H248.78ZM249.51 82.9H253.11V86.5H249.51ZM250.22 83H253.82V86.6H250.22ZM250.93 83.1H254.53V86.7H250.93ZM251.62 83.2H255.22V86.8H251.62ZM252.3 83.29H255.9V86.89H252.3ZM252.98 83.38H256.58V86.98H252.98ZM253.64 83.47H257.24V87.07H253.64ZM254.29 83.55H257.89V87.15H254.29ZM254.94 83.64H258.54V87.24H254.94ZM255.57 83.72H259.17V87.32H255.57ZM256.2 83.8H259.8V87.4H256.2ZM256.82 83.88H260.42V87.48H256.82ZM257.43 83.95H261.03V87.55H257.43ZM258.03 84.02H261.63V87.62H258.03ZM258.62 84.09H262.22V87.69H258.62ZM259.21 84.17H262.81V87.77H259.21ZM259.79 84.24H263.39V87.84H259.79ZM260.36 84.32H263.96V87.92H260.36ZM260.93 84.41H264.53V88.01H260.93ZM261.48 84.51H265.08V88.11H261.48ZM262.03 84.61H265.63V88.21H262.03ZM262.58 84.71H266.18V88.31H262.58ZM263.11 84.81H266.71V88.41H263.11ZM263.65 84.91H267.25V88.51H263.65ZM264.17 85H267.77V88.6H264.17ZM264.69 85.08H268.29V88.68H264.69ZM265.2 85.15H268.8V88.75H265.2ZM265.71 85.23H269.31V88.83H265.71ZM266.21 85.3H269.81V88.9H266.21ZM266.71 85.37H270.31V88.97H266.71ZM267.2 85.44H270.8V89.04H267.2ZM267.69 85.5H271.29V89.1H267.69ZM268.17 85.57H271.77V89.17H268.17ZM268.64 85.64H272.24V89.24H268.64ZM269.11 85.7H272.71V89.3H269.11ZM269.58 85.76H273.18V89.36H269.58ZM270.04 85.83H273.64V89.43H270.04ZM270.5 85.9H274.1V89.5H270.5ZM270.95 85.96H274.55V89.56H270.95ZM271.4 86.03H275V89.63H271.4ZM271.84 86.1H275.44V89.7H271.84ZM272.28 86.17H275.88V89.77H272.28ZM272.71 86.24H276.31V89.84H272.71ZM273.14 86.31H276.74V89.91H273.14ZM273.57 86.38H277.17V89.98H273.57ZM273.99 86.45H277.59V90.05H273.99ZM274.41 86.52H278.01V90.12H274.41ZM274.83 86.59H278.43V90.19H274.83ZM275.24 86.65H278.84V90.25H275.24ZM275.65 86.72H279.25V90.32H275.65ZM276.05 86.78H279.65V90.38H276.05ZM276.45 86.84H280.05V90.44H276.45ZM276.85 86.9H280.45V90.5H276.85ZM277.24 86.95H280.84V90.55H277.24ZM277.63 87.01H281.23V90.61H277.63ZM278.02 87.06H281.62V90.66H278.02ZM278.4 87.11H282V90.71H278.4ZM278.78 87.17H282.38V90.77H278.78ZM279.16 87.22H282.76V90.82H279.16ZM279.53 87.27H283.13V90.87H279.53ZM279.9 87.32H283.5V90.92H279.9ZM280.27 87.37H283.87V90.97H280.27ZM280.64 87.42H284.24V91.02H280.64ZM281 87.47H284.6V91.07H281ZM281.36 87.52H284.96V91.12H281.36ZM281.71 87.57H285.31V91.17H281.71ZM282.07 87.62H285.67V91.22H282.07ZM282.42 87.66H286.02V91.26H282.42ZM282.76 87.71H286.36V91.31H282.76ZM283.11 87.75H286.71V91.35H283.11ZM283.45 87.79H287.05V91.39H283.45ZM283.79 87.84H287.39V91.44H283.79ZM284.13 87.88H287.73V91.48H284.13ZM284.47 87.93H288.07V91.53H284.47ZM284.8 87.97H288.4V91.57H284.8ZM285.13 88.02H288.73V91.62H285.13ZM285.46 88.07H289.06V91.67H285.46ZM285.78 88.13H289.38V91.73H285.78ZM286.11 88.18H289.71V91.78H286.11ZM286.43 88.24H290.03V91.84H286.43ZM286.75 88.3H290.35V91.9H286.75ZM287.06 88.37H290.66V91.97H287.06ZM287.38 88.43H290.98V92.03H287.38ZM287.69 88.5H291.29V92.1H287.69ZM288 88.57H291.6V92.17H288ZM288.31 88.65H291.91V92.25H288.31ZM288.61 88.73H292.21V92.33H288.61ZM288.92 88.81H292.52V92.41H288.92ZM289.22 88.89H292.82V92.49H289.22ZM289.52 88.98H293.12V92.58H289.52ZM289.82 89.07H293.42V92.67H289.82ZM290.11 89.17H293.71V92.77H290.11ZM290.41 89.27H294.01V92.87H290.41ZM290.7 89.39H294.3V92.99H290.7ZM290.99 89.52H294.59V93.12H290.99ZM291.28 89.65H294.88V93.25H291.28ZM291.56 89.79H295.16V93.39H291.56ZM291.85 89.94H295.45V93.54H291.85ZM292.13 90.1H295.73V93.7H292.13ZM292.41 90.25H296.01V93.85H292.41ZM292.69 90.41H296.29V94.01H292.69ZM292.97 90.57H296.57V94.17H292.97ZM293.25 90.73H296.85V94.33H293.25ZM293.52 90.89H297.12V94.49H293.52ZM293.79 91.06H297.39V94.66H293.79ZM294.07 91.23H297.67V94.83H294.07ZM294.34 91.4H297.94V95H294.34ZM294.6 91.58H298.2V95.18H294.6ZM294.87 91.77H298.47V95.37H294.87ZM295.13 91.95H298.73V95.55H295.13ZM295.4 92.13H299V95.73H295.4ZM295.66 92.31H299.26V95.91H295.66ZM295.92 92.49H299.52V96.09H295.92ZM296.18 92.67H299.78V96.27H296.18ZM296.44 92.85H300.04V96.45H296.44ZM296.69 93.02H300.29V96.62H296.69ZM296.95 93.2H300.55V96.8H296.95ZM297.2 93.38H300.8V96.98H297.2ZM297.45 93.55H301.05V97.15H297.45ZM297.7 93.73H301.3V97.33H297.7ZM297.95 93.91H301.55V97.51H297.95ZM298.2 94.09H301.8V97.69H298.2ZM298.44 94.27H302.04V97.87H298.44ZM298.69 94.45H302.29V98.05H298.69ZM298.93 94.64H302.53V98.24H298.93ZM299.18 94.83H302.78V98.43H299.18ZM299.42 95.02H303.02V98.62H299.42ZM299.66 95.21H303.26V98.81H299.66ZM299.89 95.41H303.49V99.01H299.89ZM300.13 95.61H303.73V99.21H300.13ZM300.37 95.81H303.97V99.41H300.37ZM300.6 96.02H304.2V99.62H300.6ZM300.84 96.23H304.44V99.83H300.84ZM301.07 96.45H304.67V100.05H301.07ZM301.3 96.68H304.9V100.28H301.3ZM301.53 96.91H305.13V100.51H301.53ZM301.76 97.14H305.36V100.74H301.76ZM301.99 97.39H305.59V100.99H301.99ZM302.21 97.63H305.81V101.23H302.21ZM302.44 97.88H306.04V101.48H302.44ZM302.66 98.14H306.26V101.74H302.66ZM302.89 98.39H306.49V101.99H302.89ZM303.11 98.65H306.71V102.25H303.11ZM303.33 98.92H306.93V102.52H303.33ZM303.55 99.18H307.15V102.78H303.55ZM303.77 99.45H307.37V103.05H303.77ZM303.99 99.71H307.59V103.31H303.99ZM304.2 99.98H307.8V103.58H304.2ZM304.42 100.25H308.02V103.85H304.42ZM304.63 100.52H308.23V104.12H304.63ZM304.85 100.78H308.45V104.38H304.85ZM305.06 101.05H308.66V104.65H305.06ZM305.27 101.32H308.87V104.92H305.27ZM305.48 101.59H309.08V105.19H305.48ZM305.69 101.87H309.29V105.47H305.69ZM305.9 102.14H309.5V105.74H305.9ZM306.11 102.42H309.71V106.02H306.11ZM306.32 102.69H309.92V106.29H306.32ZM306.52 102.97H310.12V106.57H306.52ZM306.73 103.26H310.33V106.86H306.73ZM306.93 103.54H310.53V107.14H306.93ZM307.13 103.83H310.73V107.43H307.13ZM307.34 104.12H310.94V107.72H307.34ZM307.54 104.41H311.14V108.01H307.54ZM307.74 104.71H311.34V108.31H307.74ZM307.94 105.01H311.54V108.61H307.94ZM308.14 105.32H311.74V108.92H308.14ZM308.34 105.62H311.94V109.22H308.34ZM308.53 105.93H312.13V109.53H308.53ZM308.73 106.25H312.33V109.85H308.73ZM308.92 106.57H312.52V110.17H308.92ZM309.12 106.89H312.72V110.49H309.12ZM309.31 107.23H312.91V110.83H309.31ZM309.51 107.57H313.11V111.17H309.51ZM309.7 107.91H313.3V111.51H309.7ZM309.89 108.26H313.49V111.86H309.89ZM310.08 108.6H313.68V112.2H310.08ZM310.27 108.98H313.87V112.58H310.27ZM310.46 109.32H314.06V112.92H310.46ZM310.65 109.67H314.25V113.27H310.65ZM310.83 110.08H314.43V113.68H310.83ZM311.02 110.37H314.62V113.97H311.02ZM311.21 110.84H314.81V114.44H311.21ZM311.39 111.19H314.99V114.79H311.39ZM311.58 111.58H315.18V115.18H311.58ZM311.76 111.91H315.36V115.51H311.76ZM311.94 112.22H315.54V115.82H311.94ZM312.12 112.54H315.72V116.14H312.12ZM312.31 113.16H315.91V116.76H312.31ZM312.49 113.39H316.09V116.99H312.49ZM312.67 113.77H316.27V117.37H312.67ZM312.84 114.34H316.44V117.94H312.84ZM313.02 114.52H316.62V118.12H313.02ZM313.2 114.94H316.8V118.54H313.2ZM313.38 115.33H316.98V118.93H313.38ZM313.55 115.73H317.15V119.33H313.55ZM313.73 116.01H317.33V119.61H313.73ZM313.91 116.46H317.51V120.06H313.91ZM314.08 117.12H317.68V120.72H314.08ZM314.25 117.44H317.85V121.04H314.25ZM314.43 117.38H318.03V120.98H314.43ZM314.6 117.8H318.2V121.4H314.6ZM314.77 118.59H318.37V122.19H314.77ZM314.94 118.91H318.54V122.51H314.94ZM315.11 119.27H318.71V122.87H315.11ZM315.28 119.96H318.88V123.56H315.28ZM315.45 119.78H319.05V123.38H315.45ZM315.62 120.83H319.22V124.43H315.62ZM315.79 121.01H319.39V124.61H315.79ZM315.96 121.52H319.56V125.12H315.96ZM316.12 121.87H319.72V125.47H316.12ZM316.29 122.44H319.89V126.04H316.29ZM316.45 122.58H320.05V126.18H316.45ZM316.62 122.92H320.22V126.52H316.62ZM316.78 123.74H320.38V127.34H316.78ZM316.95 124H320.55V127.6H316.95ZM317.11 123.99H320.71V127.59H317.11ZM317.27 125.29H320.87V128.89H317.27ZM317.43 125.71H321.03V129.31H317.43ZM317.6 126.26H321.2V129.86H317.6ZM317.76 126.23H321.36V129.83H317.76ZM317.92 126.79H321.52V130.39H317.92ZM318.08 126.96H321.68V130.56H318.08ZM318.24 127.18H321.84V130.78H318.24ZM318.39 128.06H321.99V131.66H318.39ZM318.55 128.56H322.15V132.16H318.55ZM318.71 128.66H322.31V132.26H318.71ZM318.87 130.21H322.47V133.81H318.87ZM319.02 129.12H322.62V132.72H319.02ZM319.18 129.93H322.78V133.53H319.18ZM319.33 130.44H322.93V134.04H319.33ZM319.49 131.81H323.09V135.41H319.49ZM319.64 131.52H323.24V135.12H319.64ZM319.8 131.92H323.4V135.52H319.8ZM319.95 132.07H323.55V135.67H319.95ZM320.1 132.56H323.7V136.16H320.1ZM320.25 132.71H323.85V136.31H320.25ZM320.41 134.28H324.01V137.88H320.41ZM320.56 134.49H324.16V138.09H320.56ZM320.71 135.08H324.31V138.68H320.71ZM320.86 134.65H324.46V138.25H320.86ZM321.01 136.42H324.61V140.02H321.01ZM321.16 135.24H324.76V138.84H321.16ZM321.31 135.07H324.91V138.67H321.31ZM321.45 136.3H325.05V139.9H321.45ZM321.6 136.9H325.2V140.5H321.6ZM321.75 137.63H325.35V141.23H321.75ZM321.9 137.01H325.5V140.61H321.9ZM322.04 138.4H325.64V142H322.04ZM322.19 139.62H325.79V143.22H322.19ZM322.33 138.32H325.93V141.92H322.33ZM322.48 138.85H326.08V142.45H322.48ZM322.62 138.56H326.22V142.16H322.62ZM322.77 140.6H326.37V144.2H322.77ZM322.91 141.65H326.51V145.25H322.91ZM323.05 142.13H326.65V145.73H323.05ZM323.2 142.75H326.8V146.35H323.2ZM323.34 143.87H326.94V147.47H323.34ZM323.48 143.2H327.08V146.8H323.48ZM323.62 144.59H327.22V148.19H323.62ZM323.76 143.2H327.36V146.8H323.76ZM323.9 143.91H327.5V147.51H323.9ZM324.04 145.57H327.64V149.17H324.04ZM324.18 144.98H327.78V148.58H324.18ZM324.32 147.07H327.92V150.67H324.32ZM324.46 148.55H328.06V152.15H324.46ZM324.6 148.02H328.2V151.62H324.6ZM324.74 147.25H328.34V150.85H324.74ZM324.87 147.78H328.47V151.38H324.87ZM325.01 150.93H328.61V154.53H325.01ZM325.15 148.79H328.75V152.39H325.15ZM325.28 150.49H328.88V154.09H325.28ZM325.42 150.6H329.02V154.2H325.42ZM325.55 151.59H329.15V155.19H325.55ZM325.69 153.64H329.29V157.24H325.69ZM325.82 151.88H329.42V155.48H325.82ZM325.96 151.14H329.56V154.74H325.96ZM326.09 156.03H329.69V159.63H326.09ZM326.23 154.74H329.83V158.34H326.23ZM326.36 156.13H329.96V159.73H326.36ZM326.49 155.52H330.09V159.12H326.49ZM326.62 157.44H330.22V161.04H326.62ZM326.76 158.9H330.36V162.5H326.76ZM326.89 159.72H330.49V163.32H326.89ZM327.02 157.41H330.62V161.01H327.02ZM327.15 157.84H330.75V161.44H327.15ZM327.28 159.83H330.88V163.43H327.28ZM327.41 160.07H331.01V163.67H327.41ZM327.54 161.38H331.14V164.98H327.54ZM327.67 159.44H331.27V163.04H327.67ZM327.8 156.95H331.4V160.55H327.8ZM327.93 163.01H331.53V166.61H327.93ZM328.05 164.34H331.65V167.94H328.05ZM328.18 164.68H331.78V168.28H328.18ZM328.31 167.58H331.91V171.18H328.31ZM328.44 166.42H332.04V170.02H328.44ZM328.56 164.19H332.16V167.79H328.56ZM328.69 168.03H332.29V171.63H328.69ZM328.81 166.11H332.41V169.71H328.81ZM328.94 170.02H332.54V173.62H328.94ZM329.07 168.14H332.67V171.74H329.07ZM329.19 169.32H332.79V172.92H329.19ZM329.32 169.37H332.92V172.97H329.32ZM329.44 169.55H333.04V173.15H329.44ZM329.56 165.88H333.16V169.48H329.56ZM329.69 170.84H333.29V174.44H329.69ZM329.81 164.9H333.41V168.5H329.81ZM329.93 173.46H333.53V177.06H329.93ZM330.06 175.66H333.66V179.26H330.06ZM330.18 179.69H333.78V183.29H330.18ZM330.3 175.14H333.9V178.74H330.3ZM330.42 172.28H334.02V175.88H330.42ZM330.54 170.01H334.14V173.61H330.54ZM330.66 182.52H334.26V186.12H330.66ZM330.79 171.73H334.39V175.33H330.79ZM330.91 180.42H334.51V184.02H330.91ZM331.03 170.17H334.63V173.77H331.03ZM331.15 178.46H334.75V182.06H331.15ZM331.26 181.75H334.86V185.35H331.26ZM331.38 181.13H334.98V184.73H331.38ZM331.5 180.46H335.1V184.06H331.5ZM331.62 178.25H335.22V181.85H331.62ZM331.74 178.56H335.34V182.16H331.74ZM331.86 186.32H335.46V189.92H331.86ZM331.97 184.85H335.57V188.45H331.97ZM332.09 183.22H335.69V186.82H332.09ZM332.21 185.3H335.81V188.9H332.21ZM332.33 181.43H335.93V185.03H332.33ZM332.44 189.97H336.04V193.57H332.44ZM332.56 191.73H336.16V195.33H332.56ZM332.67 183.78H336.27V187.38H332.67ZM332.79 188.25H336.39V191.85H332.79ZM332.9 193.24H336.5V196.84H332.9ZM333.02 186.19H336.62V189.79H333.02ZM333.13 199.69H336.73V203.29H333.13ZM333.25 198.12H336.85V201.72H333.25ZM333.36 189.93H336.96V193.53H333.36ZM333.48 197.31H337.08V200.91H333.48ZM333.59 202.02H337.19V205.62H333.59ZM333.7 186.57H337.3V190.17H333.7ZM333.81 198.13H337.41V201.73H333.81ZM333.93 194.4H337.53V198H333.93ZM334.04 194.73H337.64V198.33H334.04ZM334.15 201.88H337.75V205.48H334.15ZM334.26 194.52H337.86V198.12H334.26ZM334.37 188.45H337.97V192.05H334.37ZM334.49 188.88H338.09V192.48H334.49ZM334.6 200.69H338.2V204.29H334.6ZM334.71 207.03H338.31V210.63H334.71ZM334.82 202.7H338.42V206.3H334.82ZM334.93 202.64H338.53V206.24H334.93ZM335.04 204.77H338.64V208.37H335.04ZM335.15 211.7H338.75V215.3H335.15ZM335.26 211.7H338.86V215.3H335.26ZM335.37 201.29H338.97V204.89H335.37ZM335.47 206.63H339.07V210.23H335.47Z" fill="none" stroke="#ff00ff" stroke-width="0.5"/>
<path d="M336.8 200.5V212.5M335.1 200.5H338.5M335.1 212.5H338.5M338.6 200.5V214.5M336.9 200.5H340.3M336.9 214.5H340.3M339.6 200V216M337.9 200H341.3M337.9 216H341.3M337.7 198V216M336 198H339.4M336 216H339.4M90.3 66.1H93.7M103.37 60.95H106.77M113.51 58.58H116.91M121.79 57.4H125.19M128.79 57H132.19M134.86 57.1H138.26M140.21 57.39H143.61M146.69 57.71V58.32M144.99 57.71H148.39M144.99 58.32H148.39M151.02 58.28V58.92M149.32 58.28H152.72M149.32 58.92H152.72M154.98 58.87V59.53M153.28 58.87H156.68M153.28 59.53H156.68M158.61 59.5V60.18M156.91 59.5H160.31M156.91 60.18H160.31M161.98 60.17V60.87M160.28 60.17H163.68M160.28 60.87H163.68M165.11 60.86V61.59M163.41 60.86H166.81M163.41 61.59H166.81M168.05 61.66V62.41M166.35 61.66H169.75M166.35 62.41H169.75M170.8 62.44V63.2M169.1 62.44H172.5M169.1 63.2H172.5M173.4 63.12V63.9M171.7 63.12H175.1M171.7 63.9H175.1M175.85 63.81V64.61M174.15 63.81H177.55M174.15 64.61H177.55M178.18 64.56V65.37M176.48 64.56H179.88M176.48 65.37H179.88M180.4 65.33V66.16M178.7 65.33H182.1M178.7 66.16H182.1M182.51 66.13V66.97M180.81 66.13H184.21M180.81 66.97H184.21M184.53 66.97V67.82M182.83 66.97H186.23M182.83 67.82H186.23M186.47 67.89V68.76M184.77 67.89H188.17M184.77 68.76H188.17M188.32 68.89V69.77M186.62 68.89H190.02M186.62 69.77H190.02M190.1 69.81V70.69M188.4 69.81H191.8M188.4 70.69H191.8M191.82 70.58V71.48M190.12 70.58H193.52M190.12 71.48H193.52M193.47 71.3V72.21M191.77 71.3H195.17M191.77 72.21H195.17M195.06 72.02V72.95M193.36 72.02H196.76M193.36 72.95H196.76M196.6 72.82V73.75M194.9 72.82H198.3M194.9 73.75H198.3M198.09 73.68V74.62M196.39 73.68H199.79M196.39 74.62H199.79M199.54 74.48V75.43M197.84 74.48H201.24M197.84 75.43H201.24M200.93 75.19V76.15M199.23 75.19H202.63M199.23 76.15H202.63M202.29 75.86V76.83M200.59 75.86H203.99M200.59 76.83H203.99M203.61 76.45V77.43M201.91 76.45H205.31M201.91 77.43H205.31M204.89 76.95V77.93M203.19 76.95H206.59M203.19 77.93H206.59M206.13 77.36V78.35M204.43 77.36H207.83M204.43 78.35H207.83M207.34 77.72V78.72M205.64 77.72H209.04M205.64 78.72H209.04M208.52 78.06V79.07M206.82 78.06H210.22M206.82 79.07H210.22M209.67 78.39V79.41M207.97 78.39H211.37M207.97 79.41H211.37M210.79 78.73V79.76M209.09 78.73H212.49M209.09 79.76H212.49M211.89 79.06V80.09M210.19 79.06H213.59M210.19 80.09H213.59M212.96 79.39V80.42M211.26 79.39H214.66M211.26 80.42H214.66M214 79.71V80.75M212.3 79.71H215.7M212.3 80.75H215.7M215.02 80.02V81.07M213.32 80.02H216.72M213.32 81.07H216.72M216.02 80.34V81.4M214.32 80.34H217.72M214.32 81.4H217.72M217 80.66V81.72M215.3 80.66H218.7M215.3 81.72H218.7M217.95 80.97V82.04M216.25 80.97H219.65M216.25 82.04H219.65M218.89 81.28V82.36M217.19 81.28H220.59M217.19 82.36H220.59M219.81 81.59V82.67M218.11 81.59H221.51M218.11 82.67H221.51M220.71 81.91V82.99M219.01 81.91H222.41M219.01 82.99H222.41M221.59 82.22V83.32M219.89 82.22H223.29M219.89 83.32H223.29M222.46 82.54V83.64M220.76 82.54H224.16M220.76 83.64H224.16M223.31 82.84V83.95M221.61 82.84H225.01M221.61 83.95H225.01M224.14 83.13V84.24M222.44 83.13H225.84M222.44 84.24H225.84M224.96 83.39V84.5M223.26 83.39H226.66M223.26 84.5H226.66M225.76 83.63V84.75M224.06 83.63H227.46M224.06 84.75H227.46M226.55 83.86V84.99M224.85 83.86H228.25M224.85 84.99H228.25M227.33 84.08V85.21M225.63 84.08H229.03M225.63 85.21H229.03M228.09 84.3V85.43M226.39 84.3H229.79M226.39 85.43H229.79M228.84 84.51V85.65M227.14 84.51H230.54M227.14 85.65H230.54M229.58 84.71V85.85M227.88 84.71H231.28M227.88 85.85H231.28M230.31 84.91V86.06M228.61 84.91H232.01M228.61 86.06H232.01M231.02 85.11V86.26M229.32 85.11H232.72M229.32 86.26H232.72M231.73 85.31V86.46M230.03 85.31H233.43M230.03 86.46H233.43M232.42 85.5V86.66M230.72 85.5H234.12M230.72 86.66H234.12M233.1 85.68V86.85M231.4 85.68H234.8M231.4 86.85H234.8M233.78 85.86V87.03M232.08 85.86H235.48M232.08 87.03H235.48M234.44 86.04V87.21M232.74 86.04H236.14M232.74 87.21H236.14M235.09 86.21V87.38M233.39 86.21H236.79M233.39 87.38H236.79M235.74 86.37V87.55M234.04 86.37H237.44M234.04 87.55H237.44M236.37 86.53V87.72M234.67 86.53H238.07M234.67 87.72H238.07M237 86.69V87.88M235.3 86.69H238.7M235.3 87.88H238.7M237.62 86.85V88.04M235.92 86.85H239.32M235.92 88.04H239.32M238.23 87V88.2M236.53 87H239.93M236.53 88.2H239.93M238.83 87.14V88.34M237.13 87.14H240.53M237.13 88.34H240.53M239.42 87.27V88.48M237.72 87.27H241.12M237.72 88.48H241.12M240.01 87.4V88.61M238.31 87.4H241.71M238.31 88.61H241.71M240.59 87.51V88.73M238.89 87.51H242.29M238.89 88.73H242.29M241.16 87.63V88.85M239.46 87.63H242.86M239.46 88.85H242.86M241.73 87.74V88.96M240.03 87.74H243.43M240.03 88.96H243.43M242.28 87.84V89.07M240.58 87.84H243.98M240.58 89.07H243.98M242.83 87.94V89.17M241.13 87.94H244.53M241.13 89.17H244.53M243.38 88.03V89.26M241.68 88.03H245.08M241.68 89.26H245.08M243.91 88.1V89.34M242.21 88.1H245.61M242.21 89.34H245.61M244.45 88.17V89.41M242.75 88.17H246.15M242.75 89.41H246.15M244.97 88.23V89.48M243.27 88.23H246.67M243.27 89.48H246.67M245.49 88.29V89.54M243.79 88.29H247.19M243.79 89.54H247.19M246 88.34V89.59M244.3 88.34H247.7M244.3 89.59H247.7M246.51 88.39V89.64M244.81 88.39H248.21M244.81 89.64H248.21M247.01 88.43V89.69M245.31 88.43H248.71M245.31 89.69H248.71M247.51 88.47V89.73M245.81 88.47H249.21M245.81 89.73H249.21M248 88.51V89.77M246.3 88.51H249.7M246.3 89.77H249.7M248.49 88.55V89.81M246.79 88.55H250.19M246.79 89.81H250.19M248.97 88.58V89.85M247.27 88.58H250.67M247.27 89.85H250.67M249.44 88.62V89.89M247.74 88.62H251.14M247.74 89.89H251.14M249.91 88.66V89.93M248.21 88.66H251.61M248.21 89.93H251.61M250.38 88.69V89.97M248.68 88.69H252.08M248.68 89.97H252.08M250.84 88.72V90.01M249.14 88.72H252.54M249.14 90.01H252.54M251.3 88.76V90.04M249.6 88.76H253M249.6 90.04H253M251.75 88.79V90.08M250.05 88.79H253.45M250.05 90.08H253.45M252.2 88.82V90.11M250.5 88.82H253.9M250.5 90.11H253.9M252.64 88.85V90.14M250.94 88.85H254.34M250.94 90.14H254.34M253.08 88.88V90.18M251.38 88.88H254.78M251.38 90.18H254.78M253.51 88.91V90.21M251.81 88.91H255.21M251.81 90.21H255.21M253.94 88.94V90.24M252.24 88.94H255.64M252.24 90.24H255.64M254.37 88.96V90.27M252.67 88.96H256.07M252.67 90.27H256.07M254.79 88.99V90.3M253.09 88.99H256.49M253.09 90.3H256.49M255.21 89.02V90.33M253.51 89.02H256.91M253.51 90.33H256.91M255.63 89.04V90.36M253.93 89.04H257.33M253.93 90.36H257.33M256.04 89.07V90.38M254.34 89.07H257.74M254.34 90.38H257.74M256.45 89.09V90.41M254.75 89.09H258.15M254.75 90.41H258.15M256.85 89.12V90.44M255.15 89.12H258.55M255.15 90.44H258.55M257.25 89.14V90.46M255.55 89.14H258.95M255.55 90.46H258.95M257.65 89.17V90.49M255.95 89.17H259.35M255.95 90.49H259.35M258.04 89.19V90.52M256.34 89.19H259.74M256.34 90.52H259.74M258.43 89.21V90.54M256.73 89.21H260.13M256.73 90.54H260.13M258.82 89.23V90.57M257.12 89.23H260.52M257.12 90.57H260.52M259.2 89.26V90.59M257.5 89.26H260.9M257.5 90.59H260.9M259.58 89.28V90.62M257.88 89.28H261.28M257.88 90.62H261.28M259.96 89.3V90.64M258.26 89.3H261.66M258.26 90.64H261.66M260.33 89.32V90.67M258.63 89.32H262.03M258.63 90.67H262.03M260.7 89.35V90.69M259 89.35H262.4M259 90.69H262.4M261.07 89.37V90.72M259.37 89.37H262.77M259.37 90.72H262.77M261.44 89.39V90.74M259.74 89.39H263.14M259.74 90.74H263.14M261.8 89.41V90.76M260.1 89.41H263.5M260.1 90.76H263.5M262.16 89.43V90.79M260.46 89.43H263.86M260.46 90.79H263.86M262.51 89.45V90.81M260.81 89.45H264.21M260.81 90.81H264.21M262.87 89.47V90.83M261.17 89.47H264.57M261.17 90.83H264.57M263.22 89.49V90.86M261.52 89.49H264.92M261.52 90.86H264.92M263.56 89.51V90.88M261.86 89.51H265.26M261.86 90.88H265.26M263.91 89.53V90.9M262.21 89.53H265.61M262.21 90.9H265.61M264.25 89.55V90.92M262.55 89.55H265.95M262.55 90.92H265.95M264.59 89.57V90.94M262.89 89.57H266.29M262.89 90.94H266.29M264.93 89.59V90.96M263.23 89.59H266.63M263.23 90.96H266.63M265.27 89.61V90.98M263.57 89.61H266.97M263.57 90.98H266.97M265.6 89.62V91M263.9 89.62H267.3M263.9 91H267.3M265.93 89.64V91.02M264.23 89.64H267.63M264.23 91.02H267.63M266.26 89.66V91.04M264.56 89.66H267.96M264.56 91.04H267.96M266.58 89.68V91.06M264.88 89.68H268.28M264.88 91.06H268.28M266.91 89.69V91.08M265.21 89.69H268.61M265.21 91.08H268.61M267.23 89.71V91.1M265.53 89.71H268.93M265.53 91.1H268.93M267.55 89.73V91.12M265.85 89.73H269.25M265.85 91.12H269.25M267.86 89.74V91.14M266.16 89.74H269.56M266.16 91.14H269.56M268.18 89.76V91.15M266.48 89.76H269.88M266.48 91.15H269.88M268.49 89.78V91.17M266.79 89.78H270.19M266.79 91.17H270.19M268.8 89.8V91.19M267.1 89.8H270.5M267.1 91.19H270.5M269.11 89.81V91.21M267.41 89.81H270.81M267.41 91.21H270.81M269.41 89.83V91.23M267.71 89.83H271.11M267.71 91.23H271.11M269.72 89.85V91.25M268.02 89.85H271.42M268.02 91.25H271.42M270.02 89.87V91.27M268.32 89.87H271.72M268.32 91.27H271.72M270.32 89.88V91.29M268.62 89.88H272.02M268.62 91.29H272.02M270.62 89.9V91.31M268.92 89.9H272.32M268.92 91.31H272.32M270.91 89.92V91.33M269.21 89.92H272.61M269.21 91.33H272.61M271.21 89.94V91.35M269.51 89.94H272.91M269.51 91.35H272.91M271.5 89.96V91.37M269.8 89.96H273.2M269.8 91.37H273.2M271.79 89.98V91.39M270.09 89.98H273.49M270.09 91.39H273.49M272.08 90V91.42M270.38 90H273.78M270.38 91.42H273.78M272.36 90.02V91.44M270.66 90.02H274.06M270.66 91.44H274.06M272.65 90.04V91.46M270.95 90.04H274.35M270.95 91.46H274.35M272.93 90.06V91.48M271.23 90.06H274.63M271.23 91.48H274.63M273.21 90.08V91.5M271.51 90.08H274.91M271.51 91.5H274.91M273.49 90.1V91.53M271.79 90.1H275.19M271.79 91.53H275.19M273.77 90.12V91.55M272.07 90.12H275.47M272.07 91.55H275.47M274.05 90.14V91.57M272.35 90.14H275.75M272.35 91.57H275.75M274.32 90.16V91.6M272.62 90.16H276.02M272.62 91.6H276.02M274.59 90.18V91.62M272.89 90.18H276.29M272.89 91.62H276.29M274.87 90.2V91.64M273.17 90.2H276.57M273.17 91.64H276.57M275.14 90.23V91.67M273.44 90.23H276.84M273.44 91.67H276.84M275.4 90.25V91.69M273.7 90.25H277.1M273.7 91.69H277.1M275.67 90.27V91.71M273.97 90.27H277.37M273.97 91.71H277.37M275.93 90.29V91.74M274.23 90.29H277.63M274.23 91.74H277.63M276.2 90.32V91.76M274.5 90.32H277.9M274.5 91.76H277.9M276.46 90.34V91.79M274.76 90.34H278.16M274.76 91.79H278.16M276.72 90.36V91.81M275.02 90.36H278.42M275.02 91.81H278.42M276.98 90.38V91.83M275.28 90.38H278.68M275.28 91.83H278.68M277.24 90.4V91.86M275.54 90.4H278.94M275.54 91.86H278.94M277.49 90.43V91.88M275.79 90.43H279.19M275.79 91.88H279.19M277.75 90.45V91.9M276.05 90.45H279.45M276.05 91.9H279.45M278 90.47V91.93M276.3 90.47H279.7M276.3 91.93H279.7M278.25 90.49V91.95M276.55 90.49H279.95M276.55 91.95H279.95M278.5 90.52V91.98M276.8 90.52H280.2M276.8 91.98H280.2M278.75 90.54V92M277.05 90.54H280.45M277.05 92H280.45M279 90.56V92.02M277.3 90.56H280.7M277.3 92.02H280.7M279.24 90.58V92.05M277.54 90.58H280.94M277.54 92.05H280.94M279.49 90.61V92.07M277.79 90.61H281.19M277.79 92.07H281.19M279.73 90.63V92.1M278.03 90.63H281.43M278.03 92.1H281.43M279.98 90.65V92.12M278.28 90.65H281.68M278.28 92.12H281.68M280.22 90.67V92.14M278.52 90.67H281.92M278.52 92.14H281.92M280.46 90.7V92.17M278.76 90.7H282.16M278.76 92.17H282.16M280.69 90.72V92.19M278.99 90.72H282.39M278.99 92.19H282.39M280.93 90.74V92.22M279.23 90.74H282.63M279.23 92.22H282.63M281.17 90.76V92.24M279.47 90.76H282.87M279.47 92.24H282.87M281.4 90.79V92.27M279.7 90.79H283.1M279.7 92.27H283.1M281.64 90.81V92.29M279.94 90.81H283.34M279.94 92.29H283.34M281.87 90.83V92.32M280.17 90.83H283.57M280.17 92.32H283.57M282.1 90.86V92.34M280.4 90.86H283.8M280.4 92.34H283.8M282.33 90.88V92.36M280.63 90.88H284.03M280.63 92.36H284.03M282.56 90.9V92.39M280.86 90.9H284.26M280.86 92.39H284.26M282.79 90.93V92.41M281.09 90.93H284.49M281.09 92.41H284.49M283.01 90.95V92.44M281.31 90.95H284.71M281.31 92.44H284.71M283.24 90.97V92.46M281.54 90.97H284.94M281.54 92.46H284.94M283.46 91V92.49M281.76 91H285.16M281.76 92.49H285.16M283.69 91.02V92.51M281.99 91.02H285.39M281.99 92.51H285.39M283.91 91.04V92.54M282.21 91.04H285.61M282.21 92.54H285.61M284.13 91.07V92.56M282.43 91.07H285.83M282.43 92.56H285.83M284.35 91.09V92.59M282.65 91.09H286.05M282.65 92.59H286.05M284.57 91.11V92.61M282.87 91.11H286.27M282.87 92.61H286.27M284.79 91.14V92.64M283.09 91.14H286.49M283.09 92.64H286.49M285 91.16V92.66M283.3 91.16H286.7M283.3 92.66H286.7M285.22 91.18V92.69M283.52 91.18H286.92M283.52 92.69H286.92M285.43 91.21V92.71M283.73 91.21H287.13M283.73 92.71H287.13M285.65 91.23V92.74M283.95 91.23H287.35M283.95 92.74H287.35M285.86 91.25V92.76M284.16 91.25H287.56M284.16 92.76H287.56M286.07 91.28V92.79M284.37 91.28H287.77M284.37 92.79H287.77M286.28 91.3V92.81M284.58 91.3H287.98M284.58 92.81H287.98M286.49 91.32V92.84M284.79 91.32H288.19M284.79 92.84H288.19M286.7 91.35V92.86M285 91.35H288.4M285 92.86H288.4M286.91 91.37V92.89M285.21 91.37H288.61M285.21 92.89H288.61M287.12 91.4V92.91M285.42 91.4H288.82M285.42 92.91H288.82M287.32 91.42V92.94M285.62 91.42H289.02M285.62 92.94H289.02M287.53 91.44V92.96M285.83 91.44H289.23M285.83 92.96H289.23M287.73 91.47V92.99M286.03 91.47H289.43M286.03 92.99H289.43M287.93 91.5V93.02M286.23 91.5H289.63M286.23 93.02H289.63M288.14 91.52V93.04M286.44 91.52H289.84M286.44 93.04H289.84M288.34 91.55V93.07M286.64 91.55H290.04M286.64 93.07H290.04M288.54 91.57V93.1M286.84 91.57H290.24M286.84 93.1H290.24M288.74 91.6V93.13M287.04 91.6H290.44M287.04 93.13H290.44M288.94 91.63V93.16M287.24 91.63H290.64M287.24 93.16H290.64M289.14 91.65V93.18M287.44 91.65H290.84M287.44 93.18H290.84M289.33 91.68V93.21M287.63 91.68H291.03M287.63 93.21H291.03M289.53 91.71V93.24M287.83 91.71H291.23M287.83 93.24H291.23M289.72 91.74V93.27M288.02 91.74H291.42M288.02 93.27H291.42M289.92 91.76V93.3M288.22 91.76H291.62M288.22 93.3H291.62M290.11 91.79V93.33M288.41 91.79H291.81M288.41 93.33H291.81M290.31 91.82V93.36M288.61 91.82H292.01M288.61 93.36H292.01M290.5 91.85V93.39M288.8 91.85H292.2M288.8 93.39H292.2M290.69 91.88V93.42M288.99 91.88H292.39M288.99 93.42H292.39M290.88 91.91V93.45M289.18 91.91H292.58M289.18 93.45H292.58M291.07 91.94V93.49M289.37 91.94H292.77M289.37 93.49H292.77M291.26 91.98V93.52M289.56 91.98H292.96M289.56 93.52H292.96M291.45 92.01V93.56M289.75 92.01H293.15M289.75 93.56H293.15M291.63 92.05V93.6M289.93 92.05H293.33M289.93 93.6H293.33M291.82 92.09V93.63M290.12 92.09H293.52M290.12 93.63H293.52M292.01 92.13V93.68M290.31 92.13H293.71M290.31 93.68H293.71M292.19 92.17V93.72M290.49 92.17H293.89M290.49 93.72H293.89M292.38 92.22V93.77M290.68 92.22H294.08M290.68 93.77H294.08M292.56 92.26V93.82M290.86 92.26H294.26M290.86 93.82H294.26M292.74 92.32V93.87M291.04 92.32H294.44M291.04 93.87H294.44M292.92 92.37V93.92M291.22 92.37H294.62M291.22 93.92H294.62M293.11 92.43V93.98M291.41 92.43H294.81M291.41 93.98H294.81M293.29 92.48V94.04M291.59 92.48H294.99M291.59 94.04H294.99M293.47 92.54V94.1M291.77 92.54H295.17M291.77 94.1H295.17M293.64 92.61V94.16M291.94 92.61H295.34M291.94 94.16H295.34M293.82 92.67V94.23M292.12 92.67H295.52M292.12 94.23H295.52M294 92.73V94.3M292.3 92.73H295.7M292.3 94.3H295.7M294.18 92.8V94.36M292.48 92.8H295.88M292.48 94.36H295.88M294.35 92.87V94.43M292.65 92.87H296.05M292.65 94.43H296.05M294.53 92.93V94.5M292.83 92.93H296.23M292.83 94.5H296.23M294.71 93V94.57M293.01 93H296.41M293.01 94.57H296.41M294.88 93.07V94.64M293.18 93.07H296.58M293.18 94.64H296.58M295.05 93.14V94.71M293.35 93.14H296.75M293.35 94.71H296.75M295.23 93.21V94.78M293.53 93.21H296.93M293.53 94.78H296.93M295.4 93.28V94.85M293.7 93.28H297.1M293.7 94.85H297.1M295.57 93.35V94.93M293.87 93.35H297.27M293.87 94.93H297.27M295.74 93.43V95M294.04 93.43H297.44M294.04 95H297.44M295.91 93.51V95.08M294.21 93.51H297.61M294.21 95.08H297.61M296.08 93.59V95.16M294.38 93.59H297.78M294.38 95.16H297.78M296.25 93.67V95.25M294.55 93.67H297.95M294.55 95.25H297.95M296.42 93.76V95.33M294.72 93.76H298.12M294.72 95.33H298.12M296.59 93.84V95.42M294.89 93.84H298.29M294.89 95.42H298.29M296.76 93.92V95.5M295.06 93.92H298.46M295.06 95.5H298.46M296.92 94.01V95.59M295.22 94.01H298.62M295.22 95.59H298.62M297.09 94.1V95.68M295.39 94.1H298.79M295.39 95.68H298.79M297.25 94.18V95.77M295.55 94.18H298.95M295.55 95.77H298.95M297.42 94.27V95.85M295.72 94.27H299.12M295.72 95.85H299.12M297.58 94.36V95.94M295.88 94.36H299.28M295.88 95.94H299.28M297.75 94.45V96.03M296.05 94.45H299.45M296.05 96.03H299.45M297.91 94.53V96.12M296.21 94.53H299.61M296.21 96.12H299.61M298.07 94.62V96.21M296.37 94.62H299.77M296.37 96.21H299.77M298.23 94.71V96.3M296.53 94.71H299.93M296.53 96.3H299.93M298.4 94.79V96.38M296.7 94.79H300.1M296.7 96.38H300.1M298.56 94.88V96.47M296.86 94.88H300.26M296.86 96.47H300.26M298.72 94.97V96.56M297.02 94.97H300.42M297.02 96.56H300.42M298.88 95.06V96.65M297.18 95.06H300.58M297.18 96.65H300.58M299.04 95.15V96.74M297.34 95.15H300.74M297.34 96.74H300.74M299.19 95.24V96.83M297.49 95.24H300.89M297.49 96.83H300.89M299.35 95.33V96.92M297.65 95.33H301.05M297.65 96.92H301.05M299.51 95.42V97.02M297.81 95.42H301.21M297.81 97.02H301.21M299.67 95.51V97.11M297.97 95.51H301.37M297.97 97.11H301.37M299.82 95.61V97.21M298.12 95.61H301.52M298.12 97.21H301.52M299.98 95.7V97.3M298.28 95.7H301.68M298.28 97.3H301.68M300.13 95.8V97.4M298.43 95.8H301.83M298.43 97.4H301.83M300.29 95.9V97.5M298.59 95.9H301.99M298.59 97.5H301.99M300.44 96V97.6M298.74 96H302.14M298.74 97.6H302.14M300.6 96.1V97.7M298.9 96.1H302.3M298.9 97.7H302.3M300.75 96.2V97.8M299.05 96.2H302.45M299.05 97.8H302.45M300.9 96.3V97.9M299.2 96.3H302.6M299.2 97.9H302.6M301.05 96.41V98.01M299.35 96.41H302.75M299.35 98.01H302.75M301.21 96.52V98.12M299.51 96.52H302.91M299.51 98.12H302.91M301.36 96.63V98.23M299.66 96.63H303.06M299.66 98.23H303.06M301.51 96.74V98.34M299.81 96.74H303.21M299.81 98.34H303.21M301.66 96.85V98.45M299.96 96.85H303.36M299.96 98.45H303.36M301.81 96.97V98.57M300.11 96.97H303.51M300.11 98.57H303.51M301.96 97.09V98.69M300.26 97.09H303.66M300.26 98.69H303.66M302.11 97.2V98.8M300.41 97.2H303.81M300.41 98.8H303.81M302.25 97.33V98.93M300.55 97.33H303.95M300.55 98.93H303.95M302.4 97.46V99.06M300.7 97.46H304.1M300.7 99.06H304.1M302.55 97.59V99.19M300.85 97.59H304.25M300.85 99.19H304.25M302.7 97.73V99.33M301 97.73H304.4M301 99.33H304.4M302.84 97.87V99.47M301.14 97.87H304.54M301.14 99.47H304.54M302.99 98.02V99.62M301.29 98.02H304.69M301.29 99.62H304.69M303.13 98.17V99.77M301.43 98.17H304.83M301.43 99.77H304.83M303.28 98.32V99.92M301.58 98.32H304.98M301.58 99.92H304.98M303.42 98.47V100.07M301.72 98.47H305.12M301.72 100.07H305.12M303.57 98.63V100.23M301.87 98.63H305.27M301.87 100.23H305.27M303.71 98.79V100.39M302.01 98.79H305.41M302.01 100.39H305.41M303.85 98.96V100.56M302.15 98.96H305.55M302.15 100.56H305.55M304 99.12V100.72M302.3 99.12H305.7M302.3 100.72H305.7M304.14 99.29V100.89M302.44 99.29H305.84M302.44 100.89H305.84M304.28 99.46V101.06M302.58 99.46H305.98M302.58 101.06H305.98M304.42 99.63V101.23M302.72 99.63H306.12M302.72 101.23H306.12M304.56 99.8V101.4M302.86 99.8H306.26M302.86 101.4H306.26M304.7 99.98V101.58M303 99.98H306.4M303 101.58H306.4M304.84 100.15V101.75M303.14 100.15H306.54M303.14 101.75H306.54M304.98 100.32V101.92M303.28 100.32H306.68M303.28 101.92H306.68M305.12 100.5V102.1M303.42 100.5H306.82M303.42 102.1H306.82M305.26 100.67V102.27M303.56 100.67H306.96M303.56 102.27H306.96M305.4 100.84V102.44M303.7 100.84H307.1M303.7 102.44H307.1M305.54 101.02V102.62M303.84 101.02H307.24M303.84 102.62H307.24M305.67 101.19V102.79M303.97 101.19H307.37M303.97 102.79H307.37M305.81 101.36V102.96M304.11 101.36H307.51M304.11 102.96H307.51M305.95 101.53V103.13M304.25 101.53H307.65M304.25 103.13H307.65M306.08 101.7V103.3M304.38 101.7H307.78M304.38 103.3H307.78M306.22 101.87V103.47M304.52 101.87H307.92M304.52 103.47H307.92M306.35 102.05V103.65M304.65 102.05H308.05M304.65 103.65H308.05M306.49 102.22V103.82M304.79 102.22H308.19M304.79 103.82H308.19M306.62 102.39V103.99M304.92 102.39H308.32M304.92 103.99H308.32M306.76 102.56V104.16M305.06 102.56H308.46M305.06 104.16H308.46M306.89 102.74V104.34M305.19 102.74H308.59M305.19 104.34H308.59M307.03 102.91V104.51M305.33 102.91H308.73M305.33 104.51H308.73M307.16 103.08V104.68M305.46 103.08H308.86M305.46 104.68H308.86M307.29 103.26V104.86M305.59 103.26H308.99M305.59 104.86H308.99M307.42 103.43V105.04M305.72 103.43H309.12M305.72 105.04H309.12M307.56 103.61V105.21M305.86 103.61H309.26M305.86 105.21H309.26M307.69 103.79V105.39M305.99 103.79H309.39M305.99 105.39H309.39M307.82 103.97V105.57M306.12 103.97H309.52M306.12 105.57H309.52M307.95 104.15V105.75M306.25 104.15H309.65M306.25 105.75H309.65M308.08 104.33V105.93M306.38 104.33H309.78M306.38 105.93H309.78M308.21 104.51V106.11M306.51 104.51H309.91M306.51 106.11H309.91M308.34 104.69V106.29M306.64 104.69H310.04M306.64 106.29H310.04M308.47 104.88V106.48M306.77 104.88H310.17M306.77 106.48H310.17M308.6 105.06V106.66M306.9 105.06H310.3M306.9 106.66H310.3M308.73 105.25V106.85M307.03 105.25H310.43M307.03 106.85H310.43M308.85 105.44V107.04M307.15 105.44H310.55M307.15 107.04H310.55M308.98 105.63V107.23M307.28 105.63H310.68M307.28 107.23H310.68M309.11 105.82V107.42M307.41 105.82H310.81M307.41 107.42H310.81M309.24 106.01V107.61M307.54 106.01H310.94M307.54 107.61H310.94M309.36 106.2V107.8M307.66 106.2H311.06M307.66 107.8H311.06M309.49 106.39V107.99M307.79 106.39H311.19M307.79 107.99H311.19M309.61 106.59V108.19M307.91 106.59H311.31M307.91 108.19H311.31M309.74 106.79V108.39M308.04 106.79H311.44M308.04 108.39H311.44M309.87 106.99V108.59M308.17 106.99H311.57M308.17 108.59H311.57M309.99 107.19V108.79M308.29 107.19H311.69M308.29 108.79H311.69M310.12 107.39V108.99M308.42 107.39H311.82M308.42 108.99H311.82M310.24 107.59V109.19M308.54 107.59H311.94M308.54 109.19H311.94M310.36 107.8V109.4M308.66 107.8H312.06M308.66 109.4H312.06M310.49 108.01V109.61M308.79 108.01H312.19M308.79 109.61H312.19M310.61 108.22V109.82M308.91 108.22H312.31M308.91 109.82H312.31M310.73 108.44V110.04M309.03 108.44H312.43M309.03 110.04H312.43M310.86 108.66V110.26M309.16 108.66H312.56M309.16 110.26H312.56M310.98 108.88V110.48M309.28 108.88H312.68M309.28 110.48H312.68M311.1 109.1V110.7M309.4 109.1H312.8M309.4 110.7H312.8M311.22 109.32V110.92M309.52 109.32H312.92M309.52 110.92H312.92M311.34 109.55V111.15M309.64 109.55H313.04M309.64 111.15H313.04M311.46 109.76V111.36M309.76 109.76H313.16M309.76 111.36H313.16M311.59 110V111.6M309.89 110H313.29M309.89 111.6H313.29M311.71 110.23V111.84M310.01 110.23H313.41M310.01 111.84H313.41M311.83 110.47V112.07M310.13 110.47H313.53M310.13 112.07H313.53M311.95 110.68V112.28M310.25 110.68H313.65M310.25 112.28H313.65M312.06 110.92V112.52M310.36 110.92H313.76M310.36 112.52H313.76M312.18 111.18V112.78M310.48 111.18H313.88M310.48 112.78H313.88M312.3 111.44V113.05M310.6 111.44H314M310.6 113.05H314M312.42 111.63V113.24M310.72 111.63H314.12M310.72 113.24H314.12M312.54 111.9V113.5M310.84 111.9H314.24M310.84 113.5H314.24M312.66 112.11V113.71M310.96 112.11H314.36M310.96 113.71H314.36M312.77 112.36V113.96M311.07 112.36H314.47M311.07 113.96H314.47M312.89 112.56V114.17M311.19 112.56H314.59M311.19 114.17H314.59M313.01 112.81V114.41M311.31 112.81H314.71M311.31 114.41H314.71M313.13 113.03V114.63M311.43 113.03H314.83M311.43 114.63H314.83M313.24 113.3V114.9M311.54 113.3H314.94M311.54 114.9H314.94M313.36 113.59V115.2M311.66 113.59H315.06M311.66 115.2H315.06M313.47 113.78V115.39M311.77 113.78H315.17M311.77 115.39H315.17M313.59 114.05V115.66M311.89 114.05H315.29M311.89 115.66H315.29M313.7 114.21V115.82M312 114.21H315.4M312 115.82H315.4M313.82 114.55V116.15M312.12 114.55H315.52M312.12 116.15H315.52M313.93 114.59V116.19M312.23 114.59H315.63M312.23 116.19H315.63M314.05 114.88V116.49M312.35 114.88H315.75M312.35 116.49H315.75M314.16 115.21V116.81M312.46 115.21H315.86M312.46 116.81H315.86M314.28 115.33V116.93M312.58 115.33H315.98M312.58 116.93H315.98M314.39 115.77V117.38M312.69 115.77H316.09M312.69 117.38H316.09M314.5 115.99V117.6M312.8 115.99H316.2M312.8 117.6H316.2M314.61 116.13V117.74M312.91 116.13H316.31M312.91 117.74H316.31M314.73 116.48V118.09M313.03 116.48H316.43M313.03 118.09H316.43M314.84 116.56V118.17M313.14 116.56H316.54M313.14 118.17H316.54M314.95 116.87V118.48M313.25 116.87H316.65M313.25 118.48H316.65M315.06 117.18V118.79M313.36 117.18H316.76M313.36 118.79H316.76M315.17 117.29V118.9M313.47 117.29H316.87M313.47 118.9H316.87M315.29 117.84V119.45M313.59 117.84H316.99M313.59 119.45H316.99M315.4 117.89V119.5M313.7 117.89H317.1M313.7 119.5H317.1M315.51 118.35V119.97M313.81 118.35H317.21M313.81 119.97H317.21M315.62 118.46V120.07M313.92 118.46H317.32M313.92 120.07H317.32M315.73 118.78V120.39M314.03 118.78H317.43M314.03 120.39H317.43M315.84 118.86V120.48M314.14 118.86H317.54M314.14 120.48H317.54M315.95 119.2V120.82M314.25 119.2H317.65M314.25 120.82H317.65M316.06 119.44V121.05M314.36 119.44H317.76M314.36 121.05H317.76M316.17 119.79V121.41M314.47 119.79H317.87M314.47 121.41H317.87M316.27 120.23V121.84M314.57 120.23H317.97M314.57 121.84H317.97M316.38 120.18V121.8M314.68 120.18H318.08M314.68 121.8H318.08M316.49 120.5V122.12M314.79 120.5H318.19M314.79 122.12H318.19M316.6 120.85V122.47M314.9 120.85H318.3M314.9 122.47H318.3M316.71 121.2V122.82M315.01 121.2H318.41M315.01 122.82H318.41M316.82 121.29V122.91M315.12 121.29H318.52M315.12 122.91H318.52M316.92 121.5V123.12M315.22 121.5H318.62M315.22 123.12H318.62M317.03 121.72V123.34M315.33 121.72H318.73M315.33 123.34H318.73M317.14 122.09V123.71M315.44 122.09H318.84M315.44 123.71H318.84M317.24 122.4V124.02M315.54 122.4H318.94M315.54 124.02H318.94M317.35 122.47V124.1M315.65 122.47H319.05M315.65 124.1H319.05M317.45 122.81V124.44M315.75 122.81H319.15M315.75 124.44H319.15M317.56 123.3V124.93M315.86 123.3H319.26M315.86 124.93H319.26M317.67 123.4V125.03M315.97 123.4H319.37M315.97 125.03H319.37M317.77 123.54V125.17M316.07 123.54H319.47M316.07 125.17H319.47M317.88 124.1V125.74M316.18 124.1H319.58M316.18 125.74H319.58M317.98 124.38V126.02M316.28 124.38H319.68M316.28 126.02H319.68M318.09 124.63V126.27M316.39 124.63H319.79M316.39 126.27H319.79M318.19 124.93V126.57M316.49 124.93H319.89M316.49 126.57H319.89M318.29 124.94V126.58M316.59 124.94H319.99M316.59 126.58H319.99M318.4 125.37V127.01M316.7 125.37H320.1M316.7 127.01H320.1M318.5 125.68V127.33M316.8 125.68H320.2M316.8 127.33H320.2M318.61 125.91V127.56M316.91 125.91H320.31M316.91 127.56H320.31M318.71 125.67V127.32M317.01 125.67H320.41M317.01 127.32H320.41M318.81 126.44V128.09M317.11 126.44H320.51M317.11 128.09H320.51M318.91 126.84V128.49M317.21 126.84H320.61M317.21 128.49H320.61M319.02 127.17V128.82M317.32 127.17H320.72M317.32 128.82H320.72M319.12 127.21V128.87M317.42 127.21H320.82M317.42 128.87H320.82M319.22 127.6V129.26M317.52 127.6H320.92M317.52 129.26H320.92M319.32 127.3V128.96M317.62 127.3H321.02M317.62 128.96H321.02M319.42 127.68V129.34M317.72 127.68H321.12M317.72 129.34H321.12M319.52 127.72V129.39M317.82 127.72H321.22M317.82 129.39H321.22M319.63 128.66V130.33M317.93 128.66H321.33M317.93 130.33H321.33M319.73 129.58V131.25M318.03 129.58H321.43M318.03 131.25H321.43M319.83 129.91V131.59M318.13 129.91H321.53M318.13 131.59H321.53M319.93 129.2V130.88M318.23 129.2H321.63M318.23 130.88H321.63M320.03 130.11V131.79M318.33 130.11H321.73M318.33 131.79H321.73M320.13 130.62V132.3M318.43 130.62H321.83M318.43 132.3H321.83M320.23 130.34V132.02M318.53 130.34H321.93M318.53 132.02H321.93M320.33 130V131.69M318.63 130H322.03M318.63 131.69H322.03M320.43 131.54V133.24M318.73 131.54H322.13M318.73 133.24H322.13M320.53 131.16V132.85M318.83 131.16H322.23M318.83 132.85H322.23M320.62 131.42V133.12M318.92 131.42H322.32M318.92 133.12H322.32M320.72 132.51V134.21M319.02 132.51H322.42M319.02 134.21H322.42M320.82 132.31V134.02M319.12 132.31H322.52M319.12 134.02H322.52M320.92 132.73V134.44M319.22 132.73H322.62M319.22 134.44H322.62M321.02 133.31V135.02M319.32 133.31H322.72M319.32 135.02H322.72M321.12 132.89V134.6M319.42 132.89H322.82M319.42 134.6H322.82M321.21 132.82V134.55M319.51 132.82H322.91M319.51 134.55H322.91M321.31 133.8V135.53M319.61 133.8H323.01M319.61 135.53H323.01M321.41 133.75V135.48M319.71 133.75H323.11M319.71 135.48H323.11M321.5 134.32V136.05M319.8 134.32H323.2M319.8 136.05H323.2M321.6 134.44V136.18M319.9 134.44H323.3M319.9 136.18H323.3M321.7 134.22V135.97M320 134.22H323.4M320 135.97H323.4M321.79 134.81V136.55M320.09 134.81H323.49M320.09 136.55H323.49M321.89 134.91V136.66M320.19 134.91H323.59M320.19 136.66H323.59M321.99 135.2V136.96M320.29 135.2H323.69M320.29 136.96H323.69M322.08 135.53V137.29M320.38 135.53H323.78M320.38 137.29H323.78M322.18 135.93V137.69M320.48 135.93H323.88M320.48 137.69H323.88M322.27 136.11V137.87M320.57 136.11H323.97M320.57 137.87H323.97M322.37 135.75V137.52M320.67 135.75H324.07M320.67 137.52H324.07M322.46 136.73V138.51M320.76 136.73H324.16M320.76 138.51H324.16M322.56 136.14V137.92M320.86 136.14H324.26M320.86 137.92H324.26M322.65 137.8V139.58M320.95 137.8H324.35M320.95 139.58H324.35M322.75 136.85V138.64M321.05 136.85H324.45M321.05 138.64H324.45M322.84 137.36V139.15M321.14 137.36H324.54M321.14 139.15H324.54M322.93 138.18V139.98M321.23 138.18H324.63M321.23 139.98H324.63M323.03 137.76V139.56M321.33 137.76H324.73M321.33 139.56H324.73M323.12 137.51V139.32M321.42 137.51H324.82M321.42 139.32H324.82M323.22 137.66V139.47M321.52 137.66H324.92M321.52 139.47H324.92M323.31 138.71V140.53M321.61 138.71H325.01M321.61 140.53H325.01M323.4 139.04V140.86M321.7 139.04H325.1M321.7 140.86H325.1M323.49 139.53V141.36M321.79 139.53H325.19M321.79 141.36H325.19M323.59 139.51V141.35M321.89 139.51H325.29M321.89 141.35H325.29M323.68 139.37V141.22M321.98 139.37H325.38M321.98 141.22H325.38M323.77 140.2V142.06M322.07 140.2H325.47M322.07 142.06H325.47M323.86 141.09V142.95M322.16 141.09H325.56M322.16 142.95H325.56M323.96 140.02V141.88M322.26 140.02H325.66M322.26 141.88H325.66M324.05 142.19V144.06M322.35 142.19H325.75M322.35 144.06H325.75M324.14 140.85V142.73M322.44 140.85H325.84M322.44 142.73H325.84M324.23 142.27V144.17M322.53 142.27H325.93M322.53 144.17H325.93M324.32 143.05V144.95M322.62 143.05H326.02M322.62 144.95H326.02M324.41 142.71V144.62M322.71 142.71H326.11M322.71 144.62H326.11M324.5 142.6V144.52M322.8 142.6H326.2M322.8 144.52H326.2M324.59 143.24V145.17M322.89 143.24H326.29M322.89 145.17H326.29M324.68 144.04V145.98M322.98 144.04H326.38M322.98 145.98H326.38M324.77 141.65V143.6M323.07 141.65H326.47M323.07 143.6H326.47M324.86 144.05V146.01M323.16 144.05H326.56M323.16 146.01H326.56M324.95 143.71V145.68M323.25 143.71H326.65M323.25 145.68H326.65M325.04 143.8V145.78M323.34 143.8H326.74M323.34 145.78H326.74M325.13 144.79V146.79M323.43 144.79H326.83M323.43 146.79H326.83M325.22 145.18V147.18M323.52 145.18H326.92M323.52 147.18H326.92M325.31 145.78V147.8M323.61 145.78H327.01M323.61 147.8H327.01M325.4 145.2V147.23M323.7 145.2H327.1M323.7 147.23H327.1M325.49 147.01V149.05M323.79 147.01H327.19M323.79 149.05H327.19M325.58 144.55V146.61M323.88 144.55H327.28M323.88 146.61H327.28M325.67 145.85V147.92M323.97 145.85H327.37M323.97 147.92H327.37M325.76 145.96V148.04M324.06 145.96H327.46M324.06 148.04H327.46M325.84 147.46V149.56M324.14 147.46H327.54M324.14 149.56H327.54M325.93 147.25V149.36M324.23 147.25H327.63M324.23 149.36H327.63M326.02 148.5V150.63M324.32 148.5H327.72M324.32 150.63H327.72M326.11 147.63V149.77M324.41 147.63H327.81M324.41 149.77H327.81M326.19 149.88V152.03M324.49 149.88H327.89M324.49 152.03H327.89M326.28 149.71V151.88M324.58 149.71H327.98M324.58 151.88H327.98M326.37 148.85V151.04M324.67 148.85H328.07M324.67 151.04H328.07M326.46 148.02V150.23M324.76 148.02H328.16M324.76 150.23H328.16M326.54 148.83V151.04M324.84 148.83H328.24M324.84 151.04H328.24M326.63 148.78V151.01M324.93 148.78H328.33M324.93 151.01H328.33M326.72 151.95V154.2M325.02 151.95H328.42M325.02 154.2H328.42M326.8 151.8V154.07M325.1 151.8H328.5M325.1 154.07H328.5M326.89 150V152.29M325.19 150H328.59M325.19 152.29H328.59M326.97 153.72V156.02M325.27 153.72H328.67M325.27 156.02H328.67M327.06 151.7V154.02M325.36 151.7H328.76M325.36 154.02H328.76M327.15 149.91V152.26M325.45 149.91H328.85M325.45 152.26H328.85M327.23 153.92V156.29M325.53 153.92H328.93M325.53 156.29H328.93M327.32 154.53V156.91M325.62 154.53H329.02M325.62 156.91H329.02M327.4 153.38V155.78M325.7 153.38H329.1M325.7 155.78H329.1M327.49 152.65V155.07M325.79 152.65H329.19M325.79 155.07H329.19M327.57 155.53V157.98M325.87 155.53H329.27M325.87 157.98H329.27M327.66 153.77V156.24M325.96 153.77H329.36M325.96 156.24H329.36M327.74 154.71V157.19M326.04 154.71H329.44M326.04 157.19H329.44M327.82 155.66V158.17M326.12 155.66H329.52M326.12 158.17H329.52M327.91 155.79V158.33M326.21 155.79H329.61M326.21 158.33H329.61M327.99 155.15V157.71M326.29 155.15H329.69M326.29 157.71H329.69M328.08 154.72V157.3M326.38 154.72H329.78M326.38 157.3H329.78M328.16 157.42V160.03M326.46 157.42H329.86M326.46 160.03H329.86M328.24 153.82V156.45M326.54 153.82H329.94M326.54 156.45H329.94M328.33 157.55V160.21M326.63 157.55H330.03M326.63 160.21H330.03M328.41 157.81V160.49M326.71 157.81H330.11M326.71 160.49H330.11M328.49 158.51V161.22M326.79 158.51H330.19M326.79 161.22H330.19M328.58 157.6V160.34M326.88 157.6H330.28M326.88 160.34H330.28M328.66 158.77V161.54M326.96 158.77H330.36M326.96 161.54H330.36M328.74 159.95V162.73M327.04 159.95H330.44M327.04 162.73H330.44M328.82 157.61V160.43M327.12 157.61H330.52M327.12 160.43H330.52M328.91 159.56V162.4M327.21 159.56H330.61M327.21 162.4H330.61M328.99 160.38V163.26M327.29 160.38H330.69M327.29 163.26H330.69M329.07 158.25V161.15M327.37 158.25H330.77M327.37 161.15H330.77M329.15 159.04V161.98M327.45 159.04H330.85M327.45 161.98H330.85M329.24 163.27V166.24M327.54 163.27H330.94M327.54 166.24H330.94M329.32 162.79V165.78M327.62 162.79H331.02M327.62 165.78H331.02M329.4 160.33V163.35M327.7 160.33H331.1M327.7 163.35H331.1M329.48 162.99V166.05M327.78 162.99H331.18M327.78 166.05H331.18M329.56 162.83V165.92M327.86 162.83H331.26M327.86 165.92H331.26M329.64 164.8V167.92M327.94 164.8H331.34M327.94 167.92H331.34M329.72 164.72V167.88M328.02 164.72H331.42M328.02 167.88H331.42M329.8 159.52V162.71M328.1 159.52H331.5M328.1 162.71H331.5M329.88 163.01V166.24M328.18 163.01H331.58M328.18 166.24H331.58M329.96 166.18V169.44M328.26 166.18H331.66M328.26 169.44H331.66M330.04 166.98V170.28M328.34 166.98H331.74M328.34 170.28H331.74M330.13 163.44V166.78M328.43 163.44H331.83M328.43 166.78H331.83M330.21 162.69V166.06M328.51 162.69H331.91M328.51 166.06H331.91M330.29 165.62V169.03M328.59 165.62H331.99M328.59 169.03H331.99M330.36 164.36V167.81M328.66 164.36H332.06M328.66 167.81H332.06M330.44 165.8V169.29M328.74 165.8H332.14M328.74 169.29H332.14M330.52 164.04V167.57M328.82 164.04H332.22M328.82 167.57H332.22M330.6 167.88V171.45M328.9 167.88H332.3M328.9 171.45H332.3M330.68 167.86V171.47M328.98 167.86H332.38M328.98 171.47H332.38M330.76 167.99V171.64M329.06 167.99H332.46M329.06 171.64H332.46M330.84 165.41V169.1M329.14 165.41H332.54M329.14 169.1H332.54M330.92 164.61V168.34M329.22 164.61H332.62M329.22 168.34H332.62M331 165.69V169.46M329.3 165.69H332.7M329.3 169.46H332.7M331.08 169.39V173.2M329.38 169.39H332.78M329.38 173.2H332.78M331.15 165.29V169.15M329.45 165.29H332.85M329.45 169.15H332.85M331.23 170.36V174.26M329.53 170.36H332.93M329.53 174.26H332.93M331.31 172.88V176.82M329.61 172.88H333.01M329.61 176.82H333.01M331.39 168.48V172.47M329.69 168.48H333.09M329.69 172.47H333.09M331.47 169.67V173.71M329.77 169.67H333.17M329.77 173.71H333.17M331.54 172.34V176.43M329.84 172.34H333.24M329.84 176.43H333.24M331.62 172.54V176.67M329.92 172.54H333.32M329.92 176.67H333.32M331.7 169.73V173.92M330 169.73H333.4M330 173.92H333.4M331.78 170.96V175.19M330.08 170.96H333.48M330.08 175.19H333.48M331.85 171.89V176.17M330.15 171.89H333.55M330.15 176.17H333.55M331.93 171.4V175.73M330.23 171.4H333.63M330.23 175.73H333.63M332.01 173.51V177.9M330.31 173.51H333.71M330.31 177.9H333.71M332.09 173.31V177.75M330.39 173.31H333.79M330.39 177.75H333.79M332.16 175.77V180.25M330.46 175.77H333.86M330.46 180.25H333.86M332.24 169.48V174.02M330.54 169.48H333.94M330.54 174.02H333.94M332.31 176.2V180.79M330.61 176.2H334.01M330.61 180.79H334.01M332.39 175.72V180.37M330.69 175.72H334.09M330.69 180.37H334.09M332.47 173.91V178.61M330.77 173.91H334.17M330.77 178.61H334.17M332.54 175.49V180.25M330.84 175.49H334.24M330.84 180.25H334.24M332.62 177.13V181.95M330.92 177.13H334.32M330.92 181.95H334.32M332.69 175.89V180.77M330.99 175.89H334.39M330.99 180.77H334.39M332.77 174.91V179.85M331.07 174.91H334.47M331.07 179.85H334.47M332.85 176.51V181.51M331.15 176.51H334.55M331.15 181.51H334.55M332.92 174.45V179.51M331.22 174.45H334.62M331.22 179.51H334.62M333 173.23V178.36M331.3 173.23H334.7M331.3 178.36H334.7M333.07 174.61V179.81M331.37 174.61H334.77M331.37 179.81H334.77M333.15 175.18V180.44M331.45 175.18H334.85M331.45 180.44H334.85M333.22 177.96V183.29M331.52 177.96H334.92M331.52 183.29H334.92M333.3 179.85V185.24M331.6 179.85H335M331.6 185.24H335M333.37 178.76V184.23M331.67 178.76H335.07M331.67 184.23H335.07M333.45 182.25V187.78M331.75 182.25H335.15M331.75 187.78H335.15M333.52 178.55V184.15M331.82 178.55H335.22M331.82 184.15H335.22M333.59 177.41V183.09M331.89 177.41H335.29M331.89 183.09H335.29M333.67 177.5V183.25M331.97 177.5H335.37M331.97 183.25H335.37M333.74 177.35V183.17M332.04 177.35H335.44M332.04 183.17H335.44M333.82 179.25V185.14M332.12 179.25H335.52M332.12 185.14H335.52M333.89 184.11V190.07M332.19 184.11H335.59M332.19 190.07H335.59M333.96 176.71V182.74M332.26 176.71H335.66M332.26 182.74H335.66M334.04 182.55V188.66M332.34 182.55H335.74M332.34 188.66H335.74M334.11 181.32V187.51M332.41 181.32H335.81M332.41 187.51H335.81M334.18 184.02V190.29M332.48 184.02H335.88M332.48 190.29H335.88M334.26 180.68V187.03M332.56 180.68H335.96M332.56 187.03H335.96M334.33 184.4V190.83M332.63 184.4H336.03M332.63 190.83H336.03M334.4 181.23V187.74M332.7 181.23H336.1M332.7 187.74H336.1M334.48 184.82V191.42M332.78 184.82H336.18M332.78 191.42H336.18M334.55 177.55V184.23M332.85 177.55H336.25M332.85 184.23H336.25M334.62 185.11V191.87M332.92 185.11H336.32M332.92 191.87H336.32M334.69 186.21V193.06M332.99 186.21H336.39M332.99 193.06H336.39M334.77 179.43V186.37M333.07 179.43H336.47M333.07 186.37H336.47M334.84 187.25V194.28M333.14 187.25H336.54M333.14 194.28H336.54M334.91 181.4V188.52M333.21 181.4H336.61M333.21 188.52H336.61M334.98 188.44V195.65M333.28 188.44H336.68M333.28 195.65H336.68M335.06 185.62V192.93M333.36 185.62H336.76M333.36 192.93H336.76M335.13 188.22V195.62M333.43 188.22H336.83M333.43 195.62H336.83M335.2 187.55V195.06M333.5 187.55H336.9M333.5 195.06H336.9M335.27 182.62V190.23M333.57 182.62H336.97M333.57 190.23H336.97M335.34 192.29V200.01M333.64 192.29H337.04M333.64 200.01H337.04M335.41 191.57V199.39M333.71 191.57H337.11M333.71 199.39H337.11M335.48 184.08V192.01M333.78 184.08H337.18M333.78 192.01H337.18M335.56 190.07V198.11M333.86 190.07H337.26M333.86 198.11H337.26M335.63 190.08V198.23M333.93 190.08H337.33M333.93 198.23H337.33M335.7 186.23V194.5M334 186.23H337.4M334 194.5H337.4M335.77 185.18V193.56M334.07 185.18H337.47M334.07 193.56H337.47M335.84 194.4V202.9M334.14 194.4H337.54M334.14 202.9H337.54M335.91 188.28V196.9M334.21 188.28H337.61M334.21 196.9H337.61M335.98 193.81V202.57M334.28 193.81H337.68M334.28 202.57H337.68M336.05 198.29V207.18M334.35 198.29H337.75M334.35 207.18H337.75M336.12 192.95V201.97M334.42 192.95H337.82M334.42 201.97H337.82M336.19 187.59V196.74M334.49 187.59H337.89M334.49 196.74H337.89M336.26 195.92V205.21M334.56 195.92H337.96M334.56 205.21H337.96M336.33 186.07V195.5M334.63 186.07H338.03M334.63 195.5H338.03M336.4 188.41V197.99M334.7 188.41H338.1M334.7 197.99H338.1M336.47 202.13V211.87M334.77 202.13H338.17M334.77 211.87H338.17M336.54 189.52V199.41M334.84 189.52H338.24M334.84 199.41H338.24M336.61 195.33V205.37M334.91 195.33H338.31M334.91 205.37H338.31M336.68 188.85V199.06M334.98 188.85H338.38M334.98 199.06H338.38M336.75 193.85V204.23M335.05 193.85H338.45M335.05 204.23H338.45M336.82 195.91V206.47M335.12 195.91H338.52M335.12 206.47H338.52M336.89 183.31V194.05M335.19 183.31H338.59M335.19 194.05H338.59M336.96 192.19V203.12M335.26 192.19H338.66M335.26 203.12H338.66M337.02 199.74V210.86M335.32 199.74H338.72M335.32 210.86H338.72M337.09 201.34V212.66M335.39 201.34H338.79M335.39 212.66H338.79M337.16 198.9V210.41M335.46 198.9H338.86M335.46 210.41H338.86M337.23 191.97V203.7M335.53 191.97H338.93M335.53 203.7H338.93M337.3 200.17V212.11M335.6 200.17H339M335.6 212.11H339M337.37 195.37V207.53M335.67 195.37H339.07M335.67 207.53H339.07M337.44 194.07V206.46M335.74 194.07H339.14M335.74 206.46H339.14" fill="none" stroke="#00ffff" stroke-width="0.45"/>
<path d="M335 204.7H338.6V208.3H335ZM336.8 205.7H340.4V209.3H336.8ZM337.8 206.2H341.4V209.8H337.8ZM335.9 205.2H339.5V208.8H335.9ZM90.2 64.3H93.8V67.9H90.2ZM103.27 59.15H106.87V62.75H103.27ZM113.41 56.78H117.01V60.38H113.41ZM121.69 55.6H125.29V59.2H121.69ZM128.69 55.2H132.29V58.8H128.69ZM134.76 55.3H138.36V58.9H134.76ZM140.11 55.59H143.71V59.19H140.11ZM144.89 56.21H148.49V59.81H144.89ZM149.22 56.8H152.82V60.4H149.22ZM153.18 57.4H156.78V61H153.18ZM156.81 58.04H160.41V61.64H156.81ZM160.18 58.72H163.78V62.32H160.18ZM163.31 59.43H166.91V63.03H163.31ZM166.25 60.24H169.85V63.84H166.25ZM169 61.02H172.6V64.62H169ZM171.6 61.71H175.2V65.31H171.6ZM174.05 62.41H177.65V66.01H174.05ZM176.38 63.16H179.98V66.76H176.38ZM178.6 63.95H182.2V67.55H178.6ZM180.71 64.75H184.31V68.35H180.71ZM182.73 65.59H186.33V69.19H182.73ZM184.67 66.52H188.27V70.12H184.67ZM186.52 67.53H190.12V71.13H186.52ZM188.3 68.45H191.9V72.05H188.3ZM190.02 69.23H193.62V72.83H190.02ZM191.67 69.95H195.27V73.55H191.67ZM193.26 70.68H196.86V74.28H193.26ZM194.8 71.49H198.4V75.09H194.8ZM196.29 72.35H199.89V75.95H196.29ZM197.74 73.16H201.34V76.76H197.74ZM199.13 73.87H202.73V77.47H199.13ZM200.49 74.54H204.09V78.14H200.49ZM201.81 75.14H205.41V78.74H201.81ZM203.09 75.64H206.69V79.24H203.09ZM204.33 76.06H207.93V79.66H204.33ZM205.54 76.42H209.14V80.02H205.54ZM206.72 76.76H210.32V80.36H206.72ZM207.87 77.1H211.47V80.7H207.87ZM208.99 77.44H212.59V81.04H208.99ZM210.09 77.78H213.69V81.38H210.09ZM211.16 78.11H214.76V81.71H211.16ZM212.2 78.43H215.8V82.03H212.2ZM213.22 78.75H216.82V82.35H213.22ZM214.22 79.07H217.82V82.67H214.22ZM215.2 79.39H218.8V82.99H215.2ZM216.15 79.71H219.75V83.31H216.15ZM217.09 80.02H220.69V83.62H217.09ZM218.01 80.33H221.61V83.93H218.01ZM218.91 80.65H222.51V84.25H218.91ZM219.79 80.97H223.39V84.57H219.79ZM220.66 81.29H224.26V84.89H220.66ZM221.51 81.59H225.11V85.19H221.51ZM222.34 81.88H225.94V85.48H222.34ZM223.16 82.15H226.76V85.75H223.16ZM223.96 82.39H227.56V85.99H223.96ZM224.75 82.63H228.35V86.23H224.75ZM225.53 82.85H229.13V86.45H225.53ZM226.29 83.07H229.89V86.67H226.29ZM227.04 83.28H230.64V86.88H227.04ZM227.78 83.48H231.38V87.08H227.78ZM228.51 83.69H232.11V87.29H228.51ZM229.22 83.89H232.82V87.49H229.22ZM229.93 84.08H233.53V87.68H229.93ZM230.62 84.28H234.22V87.88H230.62ZM231.3 84.46H234.9V88.06H231.3ZM231.98 84.65H235.58V88.25H231.98ZM232.64 84.82H236.24V88.42H232.64ZM233.29 85H236.89V88.6H233.29ZM233.94 85.16H237.54V88.76H233.94ZM234.57 85.33H238.17V88.93H234.57ZM235.2 85.49H238.8V89.09H235.2ZM235.82 85.65H239.42V89.25H235.82ZM236.43 85.8H240.03V89.4H236.43ZM237.03 85.94H240.63V89.54H237.03ZM237.62 86.08H241.22V89.68H237.62ZM238.21 86.2H241.81V89.8H238.21ZM238.79 86.32H242.39V89.92H238.79ZM239.36 86.44H242.96V90.04H239.36ZM239.93 86.55H243.53V90.15H239.93ZM240.48 86.65H244.08V90.25H240.48ZM241.03 86.75H244.63V90.35H241.03ZM241.58 86.84H245.18V90.44H241.58ZM242.11 86.92H245.71V90.52H242.11ZM242.65 86.99H246.25V90.59H242.65ZM243.17 87.06H246.77V90.66H243.17ZM243.69 87.11H247.29V90.71H243.69ZM244.2 87.16H247.8V90.76H244.2ZM244.71 87.21H248.31V90.81H244.71ZM245.21 87.26H248.81V90.86H245.21ZM245.71 87.3H249.31V90.9H245.71ZM246.2 87.34H249.8V90.94H246.2ZM246.69 87.38H250.29V90.98H246.69ZM247.17 87.42H250.77V91.02H247.17ZM247.64 87.46H251.24V91.06H247.64ZM248.11 87.49H251.71V91.09H248.11ZM248.58 87.53H252.18V91.13H248.58ZM249.04 87.56H252.64V91.16H249.04ZM249.5 87.6H253.1V91.2H249.5ZM249.95 87.63H253.55V91.23H249.95ZM250.4 87.66H254V91.26H250.4ZM250.84 87.7H254.44V91.3H250.84ZM251.28 87.73H254.88V91.33H251.28ZM251.71 87.76H255.31V91.36H251.71ZM252.14 87.79H255.74V91.39H252.14ZM252.57 87.82H256.17V91.42H252.57ZM252.99 87.84H256.59V91.44H252.99ZM253.41 87.87H257.01V91.47H253.41ZM253.83 87.9H257.43V91.5H253.83ZM254.24 87.93H257.84V91.53H254.24ZM254.65 87.95H258.25V91.55H254.65ZM255.05 87.98H258.65V91.58H255.05ZM255.45 88H259.05V91.6H255.45ZM255.85 88.03H259.45V91.63H255.85ZM256.24 88.05H259.84V91.65H256.24ZM256.63 88.08H260.23V91.68H256.63ZM257.02 88.1H260.62V91.7H257.02ZM257.4 88.13H261V91.73H257.4ZM257.78 88.15H261.38V91.75H257.78ZM258.16 88.17H261.76V91.77H258.16ZM258.53 88.2H262.13V91.8H258.53ZM258.9 88.22H262.5V91.82H258.9ZM259.27 88.24H262.87V91.84H259.27ZM259.64 88.26H263.24V91.86H259.64ZM260 88.29H263.6V91.89H260ZM260.36 88.31H263.96V91.91H260.36ZM260.71 88.33H264.31V91.93H260.71ZM261.07 88.35H264.67V91.95H261.07ZM261.42 88.37H265.02V91.97H261.42ZM261.76 88.4H265.36V92H261.76ZM262.11 88.42H265.71V92.02H262.11ZM262.45 88.44H266.05V92.04H262.45ZM262.79 88.45H266.39V92.05H262.79ZM263.13 88.47H266.73V92.07H263.13ZM263.47 88.49H267.07V92.09H263.47ZM263.8 88.51H267.4V92.11H263.8ZM264.13 88.53H267.73V92.13H264.13ZM264.46 88.55H268.06V92.15H264.46ZM264.78 88.57H268.38V92.17H264.78ZM265.11 88.59H268.71V92.19H265.11ZM265.43 88.6H269.03V92.2H265.43ZM265.75 88.62H269.35V92.22H265.75ZM266.06 88.64H269.66V92.24H266.06ZM266.38 88.66H269.98V92.26H266.38ZM266.69 88.68H270.29V92.28H266.69ZM267 88.69H270.6V92.29H267ZM267.31 88.71H270.91V92.31H267.31ZM267.61 88.73H271.21V92.33H267.61ZM267.92 88.75H271.52V92.35H267.92ZM268.22 88.77H271.82V92.37H268.22ZM268.52 88.79H272.12V92.39H268.52ZM268.82 88.81H272.42V92.41H268.82ZM269.11 88.83H272.71V92.43H269.11ZM269.41 88.85H273.01V92.45H269.41ZM269.7 88.87H273.3V92.47H269.7ZM269.99 88.89H273.59V92.49H269.99ZM270.28 88.91H273.88V92.51H270.28ZM270.56 88.93H274.16V92.53H270.56ZM270.85 88.95H274.45V92.55H270.85ZM271.13 88.97H274.73V92.57H271.13ZM271.41 88.99H275.01V92.59H271.41ZM271.69 89.01H275.29V92.61H271.69ZM271.97 89.03H275.57V92.63H271.97ZM272.25 89.06H275.85V92.66H272.25ZM272.52 89.08H276.12V92.68H272.52ZM272.79 89.1H276.39V92.7H272.79ZM273.07 89.12H276.67V92.72H273.07ZM273.34 89.15H276.94V92.75H273.34ZM273.6 89.17H277.2V92.77H273.6ZM273.87 89.19H277.47V92.79H273.87ZM274.13 89.22H277.73V92.82H274.13ZM274.4 89.24H278V92.84H274.4ZM274.66 89.26H278.26V92.86H274.66ZM274.92 89.28H278.52V92.88H274.92ZM275.18 89.31H278.78V92.91H275.18ZM275.44 89.33H279.04V92.93H275.44ZM275.69 89.35H279.29V92.95H275.69ZM275.95 89.38H279.55V92.98H275.95ZM276.2 89.4H279.8V93H276.2ZM276.45 89.42H280.05V93.02H276.45ZM276.7 89.45H280.3V93.05H276.7ZM276.95 89.47H280.55V93.07H276.95ZM277.2 89.49H280.8V93.09H277.2ZM277.44 89.52H281.04V93.12H277.44ZM277.69 89.54H281.29V93.14H277.69ZM277.93 89.56H281.53V93.16H277.93ZM278.18 89.59H281.78V93.19H278.18ZM278.42 89.61H282.02V93.21H278.42ZM278.66 89.63H282.26V93.23H278.66ZM278.89 89.66H282.49V93.26H278.89ZM279.13 89.68H282.73V93.28H279.13ZM279.37 89.7H282.97V93.3H279.37ZM279.6 89.73H283.2V93.33H279.6ZM279.84 89.75H283.44V93.35H279.84ZM280.07 89.77H283.67V93.37H280.07ZM280.3 89.8H283.9V93.4H280.3ZM280.53 89.82H284.13V93.42H280.53ZM280.76 89.85H284.36V93.45H280.76ZM280.99 89.87H284.59V93.47H280.99ZM281.21 89.89H284.81V93.49H281.21ZM281.44 89.92H285.04V93.52H281.44ZM281.66 89.94H285.26V93.54H281.66ZM281.89 89.97H285.49V93.57H281.89ZM282.11 89.99H285.71V93.59H282.11ZM282.33 90.01H285.93V93.61H282.33ZM282.55 90.04H286.15V93.64H282.55ZM282.77 90.06H286.37V93.66H282.77ZM282.99 90.09H286.59V93.69H282.99ZM283.2 90.11H286.8V93.71H283.2ZM283.42 90.13H287.02V93.73H283.42ZM283.63 90.16H287.23V93.76H283.63ZM283.85 90.18H287.45V93.78H283.85ZM284.06 90.21H287.66V93.81H284.06ZM284.27 90.23H287.87V93.83H284.27ZM284.48 90.25H288.08V93.85H284.48ZM284.69 90.28H288.29V93.88H284.69ZM284.9 90.3H288.5V93.9H284.9ZM285.11 90.33H288.71V93.93H285.11ZM285.32 90.35H288.92V93.95H285.32ZM285.52 90.38H289.12V93.98H285.52ZM285.73 90.4H289.33V94H285.73ZM285.93 90.43H289.53V94.03H285.93ZM286.13 90.46H289.73V94.06H286.13ZM286.34 90.48H289.94V94.08H286.34ZM286.54 90.51H290.14V94.11H286.54ZM286.74 90.54H290.34V94.14H286.74ZM286.94 90.56H290.54V94.16H286.94ZM287.14 90.59H290.74V94.19H287.14ZM287.34 90.62H290.94V94.22H287.34ZM287.53 90.65H291.13V94.25H287.53ZM287.73 90.67H291.33V94.27H287.73ZM287.92 90.7H291.52V94.3H287.92ZM288.12 90.73H291.72V94.33H288.12ZM288.31 90.76H291.91V94.36H288.31ZM288.51 90.79H292.11V94.39H288.51ZM288.7 90.82H292.3V94.42H288.7ZM288.89 90.85H292.49V94.45H288.89ZM289.08 90.88H292.68V94.48H289.08ZM289.27 90.92H292.87V94.52H289.27ZM289.46 90.95H293.06V94.55H289.46ZM289.65 90.99H293.25V94.59H289.65ZM289.83 91.02H293.43V94.62H289.83ZM290.02 91.06H293.62V94.66H290.02ZM290.21 91.1H293.81V94.7H290.21ZM290.39 91.14H293.99V94.74H290.39ZM290.58 91.19H294.18V94.79H290.58ZM290.76 91.24H294.36V94.84H290.76ZM290.94 91.29H294.54V94.89H290.94ZM291.12 91.35H294.72V94.95H291.12ZM291.31 91.4H294.91V95H291.31ZM291.49 91.46H295.09V95.06H291.49ZM291.67 91.52H295.27V95.12H291.67ZM291.84 91.59H295.44V95.19H291.84ZM292.02 91.65H295.62V95.25H292.02ZM292.2 91.71H295.8V95.31H292.2ZM292.38 91.78H295.98V95.38H292.38ZM292.55 91.85H296.15V95.45H292.55ZM292.73 91.92H296.33V95.52H292.73ZM292.91 91.98H296.51V95.58H292.91ZM293.08 92.05H296.68V95.65H293.08ZM293.25 92.12H296.85V95.72H293.25ZM293.43 92.19H297.03V95.79H293.43ZM293.6 92.27H297.2V95.87H293.6ZM293.77 92.34H297.37V95.94H293.77ZM293.94 92.42H297.54V96.02H293.94ZM294.11 92.5H297.71V96.1H294.11ZM294.28 92.58H297.88V96.18H294.28ZM294.45 92.66H298.05V96.26H294.45ZM294.62 92.74H298.22V96.34H294.62ZM294.79 92.83H298.39V96.43H294.79ZM294.96 92.91H298.56V96.51H294.96ZM295.12 93H298.72V96.6H295.12ZM295.29 93.09H298.89V96.69H295.29ZM295.45 93.18H299.05V96.78H295.45ZM295.62 93.26H299.22V96.86H295.62ZM295.78 93.35H299.38V96.95H295.78ZM295.95 93.44H299.55V97.04H295.95ZM296.11 93.53H299.71V97.13H296.11ZM296.27 93.61H299.87V97.21H296.27ZM296.43 93.7H300.03V97.3H296.43ZM296.6 93.79H300.2V97.39H296.6ZM296.76 93.88H300.36V97.48H296.76ZM296.92 93.97H300.52V97.57H296.92ZM297.08 94.05H300.68V97.65H297.08ZM297.24 94.14H300.84V97.74H297.24ZM297.39 94.24H300.99V97.84H297.39ZM297.55 94.33H301.15V97.93H297.55ZM297.71 94.42H301.31V98.02H297.71ZM297.87 94.51H301.47V98.11H297.87ZM298.02 94.61H301.62V98.21H298.02ZM298.18 94.7H301.78V98.3H298.18ZM298.33 94.8H301.93V98.4H298.33ZM298.49 94.9H302.09V98.5H298.49ZM298.64 95H302.24V98.6H298.64ZM298.8 95.1H302.4V98.7H298.8ZM298.95 95.2H302.55V98.8H298.95ZM299.1 95.3H302.7V98.9H299.1ZM299.25 95.41H302.85V99.01H299.25ZM299.41 95.52H303.01V99.12H299.41ZM299.56 95.63H303.16V99.23H299.56ZM299.71 95.74H303.31V99.34H299.71ZM299.86 95.85H303.46V99.45H299.86ZM300.01 95.97H303.61V99.57H300.01ZM300.16 96.09H303.76V99.69H300.16ZM300.31 96.2H303.91V99.8H300.31ZM300.45 96.33H304.05V99.93H300.45ZM300.6 96.46H304.2V100.06H300.6ZM300.75 96.59H304.35V100.19H300.75ZM300.9 96.73H304.5V100.33H300.9ZM301.04 96.87H304.64V100.47H301.04ZM301.19 97.02H304.79V100.62H301.19ZM301.33 97.17H304.93V100.77H301.33ZM301.48 97.32H305.08V100.92H301.48ZM301.62 97.47H305.22V101.07H301.62ZM301.77 97.63H305.37V101.23H301.77ZM301.91 97.79H305.51V101.39H301.91ZM302.05 97.96H305.65V101.56H302.05ZM302.2 98.12H305.8V101.72H302.2ZM302.34 98.29H305.94V101.89H302.34ZM302.48 98.46H306.08V102.06H302.48ZM302.62 98.63H306.22V102.23H302.62ZM302.76 98.8H306.36V102.4H302.76ZM302.9 98.98H306.5V102.58H302.9ZM303.04 99.15H306.64V102.75H303.04ZM303.18 99.32H306.78V102.92H303.18ZM303.32 99.5H306.92V103.1H303.32ZM303.46 99.67H307.06V103.27H303.46ZM303.6 99.84H307.2V103.44H303.6ZM303.74 100.02H307.34V103.62H303.74ZM303.87 100.19H307.47V103.79H303.87ZM304.01 100.36H307.61V103.96H304.01ZM304.15 100.53H307.75V104.13H304.15ZM304.28 100.7H307.88V104.3H304.28ZM304.42 100.87H308.02V104.47H304.42ZM304.55 101.05H308.15V104.65H304.55ZM304.69 101.22H308.29V104.82H304.69ZM304.82 101.39H308.42V104.99H304.82ZM304.96 101.56H308.56V105.16H304.96ZM305.09 101.74H308.69V105.34H305.09ZM305.23 101.91H308.83V105.51H305.23ZM305.36 102.08H308.96V105.68H305.36ZM305.49 102.26H309.09V105.86H305.49ZM305.62 102.43H309.22V106.03H305.62ZM305.76 102.61H309.36V106.21H305.76ZM305.89 102.79H309.49V106.39H305.89ZM306.02 102.97H309.62V106.57H306.02ZM306.15 103.15H309.75V106.75H306.15ZM306.28 103.33H309.88V106.93H306.28ZM306.41 103.51H310.01V107.11H306.41ZM306.54 103.69H310.14V107.29H306.54ZM306.67 103.88H310.27V107.48H306.67ZM306.8 104.06H310.4V107.66H306.8ZM306.93 104.25H310.53V107.85H306.93ZM307.05 104.44H310.65V108.04H307.05ZM307.18 104.63H310.78V108.23H307.18ZM307.31 104.82H310.91V108.42H307.31ZM307.44 105.01H311.04V108.61H307.44ZM307.56 105.2H311.16V108.8H307.56ZM307.69 105.39H311.29V108.99H307.69ZM307.81 105.59H311.41V109.19H307.81ZM307.94 105.79H311.54V109.39H307.94ZM308.07 105.99H311.67V109.59H308.07ZM308.19 106.19H311.79V109.79H308.19ZM308.32 106.39H311.92V109.99H308.32ZM308.44 106.59H312.04V110.19H308.44ZM308.56 106.8H312.16V110.4H308.56ZM308.69 107.01H312.29V110.61H308.69ZM308.81 107.22H312.41V110.82H308.81ZM308.93 107.44H312.53V111.04H308.93ZM309.06 107.66H312.66V111.26H309.06ZM309.18 107.88H312.78V111.48H309.18ZM309.3 108.1H312.9V111.7H309.3ZM309.42 108.32H313.02V111.92H309.42ZM309.54 108.55H313.14V112.15H309.54ZM309.66 108.76H313.26V112.36H309.66ZM309.79 109H313.39V112.6H309.79ZM309.91 109.23H313.51V112.83H309.91ZM310.03 109.47H313.63V113.07H310.03ZM310.15 109.68H313.75V113.28H310.15ZM310.26 109.92H313.86V113.52H310.26ZM310.38 110.18H313.98V113.78H310.38ZM310.5 110.44H314.1V114.04H310.5ZM310.62 110.64H314.22V114.24H310.62ZM310.74 110.9H314.34V114.5H310.74ZM310.86 111.11H314.46V114.71H310.86ZM310.97 111.36H314.57V114.96H310.97ZM311.09 111.56H314.69V115.16H311.09ZM311.21 111.81H314.81V115.41H311.21ZM311.33 112.03H314.93V115.63H311.33ZM311.44 112.3H315.04V115.9H311.44ZM311.56 112.59H315.16V116.19H311.56ZM311.67 112.79H315.27V116.39H311.67ZM311.79 113.06H315.39V116.66H311.79ZM311.9 113.22H315.5V116.82H311.9ZM312.02 113.55H315.62V117.15H312.02ZM312.13 113.59H315.73V117.19H312.13ZM312.25 113.88H315.85V117.48H312.25ZM312.36 114.21H315.96V117.81H312.36ZM312.48 114.33H316.08V117.93H312.48ZM312.59 114.78H316.19V118.38H312.59ZM312.7 114.99H316.3V118.59H312.7ZM312.81 115.14H316.41V118.74H312.81ZM312.93 115.48H316.53V119.08H312.93ZM313.04 115.57H316.64V119.17H313.04ZM313.15 115.88H316.75V119.48H313.15ZM313.26 116.18H316.86V119.78H313.26ZM313.37 116.29H316.97V119.89H313.37ZM313.49 116.85H317.09V120.45H313.49ZM313.6 116.9H317.2V120.5H313.6ZM313.71 117.36H317.31V120.96H313.71ZM313.82 117.47H317.42V121.07H313.82ZM313.93 117.78H317.53V121.38H313.93ZM314.04 117.87H317.64V121.47H314.04ZM314.15 118.21H317.75V121.81H314.15ZM314.26 118.45H317.86V122.05H314.26ZM314.37 118.8H317.97V122.4H314.37ZM314.47 119.24H318.07V122.84H314.47ZM314.58 119.19H318.18V122.79H314.58ZM314.69 119.51H318.29V123.11H314.69ZM314.8 119.86H318.4V123.46H314.8ZM314.91 120.21H318.51V123.81H314.91ZM315.02 120.3H318.62V123.9H315.02ZM315.12 120.51H318.72V124.11H315.12ZM315.23 120.73H318.83V124.33H315.23ZM315.34 121.1H318.94V124.7H315.34ZM315.44 121.41H319.04V125.01H315.44ZM315.55 121.49H319.15V125.09H315.55ZM315.65 121.82H319.25V125.42H315.65ZM315.76 122.31H319.36V125.91H315.76ZM315.87 122.41H319.47V126.01H315.87ZM315.97 122.56H319.57V126.16H315.97ZM316.08 123.12H319.68V126.72H316.08ZM316.18 123.4H319.78V127H316.18ZM316.29 123.65H319.89V127.25H316.29ZM316.39 123.95H319.99V127.55H316.39ZM316.49 123.96H320.09V127.56H316.49ZM316.6 124.39H320.2V127.99H316.6ZM316.7 124.71H320.3V128.31H316.7ZM316.81 124.94H320.41V128.54H316.81ZM316.91 124.69H320.51V128.29H316.91ZM317.01 125.47H320.61V129.07H317.01ZM317.11 125.86H320.71V129.46H317.11ZM317.22 126.19H320.82V129.79H317.22ZM317.32 126.24H320.92V129.84H317.32ZM317.42 126.63H321.02V130.23H317.42ZM317.52 126.33H321.12V129.93H317.52ZM317.62 126.71H321.22V130.31H317.62ZM317.72 126.76H321.32V130.36H317.72ZM317.83 127.69H321.43V131.29H317.83ZM317.93 128.61H321.53V132.21H317.93ZM318.03 128.95H321.63V132.55H318.03ZM318.13 128.24H321.73V131.84H318.13ZM318.23 129.15H321.83V132.75H318.23ZM318.33 129.66H321.93V133.26H318.33ZM318.43 129.38H322.03V132.98H318.43ZM318.53 129.05H322.13V132.65H318.53ZM318.63 130.59H322.23V134.19H318.63ZM318.73 130.2H322.33V133.8H318.73ZM318.82 130.47H322.42V134.07H318.82ZM318.92 131.56H322.52V135.16H318.92ZM319.02 131.36H322.62V134.96H319.02ZM319.12 131.79H322.72V135.39H319.12ZM319.22 132.36H322.82V135.96H319.22ZM319.32 131.95H322.92V135.55H319.32ZM319.41 131.89H323.01V135.49H319.41ZM319.51 132.86H323.11V136.46H319.51ZM319.61 132.82H323.21V136.42H319.61ZM319.7 133.38H323.3V136.98H319.7ZM319.8 133.51H323.4V137.11H319.8ZM319.9 133.3H323.5V136.9H319.9ZM319.99 133.88H323.59V137.48H319.99ZM320.09 133.99H323.69V137.59H320.09ZM320.19 134.28H323.79V137.88H320.19ZM320.28 134.61H323.88V138.21H320.28ZM320.38 135.01H323.98V138.61H320.38ZM320.47 135.19H324.07V138.79H320.47ZM320.57 134.84H324.17V138.44H320.57ZM320.66 135.82H324.26V139.42H320.66ZM320.76 135.23H324.36V138.83H320.76ZM320.85 136.89H324.45V140.49H320.85ZM320.95 135.94H324.55V139.54H320.95ZM321.04 136.46H324.64V140.06H321.04ZM321.13 137.28H324.73V140.88H321.13ZM321.23 136.86H324.83V140.46H321.23ZM321.32 136.62H324.92V140.22H321.32ZM321.42 136.76H325.02V140.36H321.42ZM321.51 137.82H325.11V141.42H321.51ZM321.6 138.15H325.2V141.75H321.6ZM321.69 138.64H325.29V142.24H321.69ZM321.79 138.63H325.39V142.23H321.79ZM321.88 138.49H325.48V142.09H321.88ZM321.97 139.33H325.57V142.93H321.97ZM322.06 140.22H325.66V143.82H322.06ZM322.16 139.15H325.76V142.75H322.16ZM322.25 141.33H325.85V144.93H322.25ZM322.34 139.99H325.94V143.59H322.34ZM322.43 141.42H326.03V145.02H322.43ZM322.52 142.2H326.12V145.8H322.52ZM322.61 141.86H326.21V145.46H322.61ZM322.7 141.76H326.3V145.36H322.7ZM322.79 142.41H326.39V146.01H322.79ZM322.88 143.21H326.48V146.81H322.88ZM322.97 140.82H326.57V144.42H322.97ZM323.06 143.23H326.66V146.83H323.06ZM323.15 142.89H326.75V146.49H323.15ZM323.24 142.99H326.84V146.59H323.24ZM323.33 143.99H326.93V147.59H323.33ZM323.42 144.38H327.02V147.98H323.42ZM323.51 144.99H327.11V148.59H323.51ZM323.6 144.42H327.2V148.02H323.6ZM323.69 146.23H327.29V149.83H323.69ZM323.78 143.78H327.38V147.38H323.78ZM323.87 145.09H327.47V148.69H323.87ZM323.96 145.2H327.56V148.8H323.96ZM324.04 146.71H327.64V150.31H324.04ZM324.13 146.5H327.73V150.1H324.13ZM324.22 147.76H327.82V151.36H324.22ZM324.31 146.9H327.91V150.5H324.31ZM324.39 149.15H327.99V152.75H324.39ZM324.48 149H328.08V152.6H324.48ZM324.57 148.14H328.17V151.74H324.57ZM324.66 147.32H328.26V150.92H324.66ZM324.74 148.14H328.34V151.74H324.74ZM324.83 148.09H328.43V151.69H324.83ZM324.92 151.27H328.52V154.87H324.92ZM325 151.13H328.6V154.73H325ZM325.09 149.34H328.69V152.94H325.09ZM325.17 153.07H328.77V156.67H325.17ZM325.26 151.06H328.86V154.66H325.26ZM325.35 149.28H328.95V152.88H325.35ZM325.43 153.31H329.03V156.91H325.43ZM325.52 153.92H329.12V157.52H325.52ZM325.6 152.78H329.2V156.38H325.6ZM325.69 152.06H329.29V155.66H325.69ZM325.77 154.95H329.37V158.55H325.77ZM325.86 153.21H329.46V156.81H325.86ZM325.94 154.15H329.54V157.75H325.94ZM326.02 155.11H329.62V158.71H326.02ZM326.11 155.26H329.71V158.86H326.11ZM326.19 154.63H329.79V158.23H326.19ZM326.28 154.21H329.88V157.81H326.28ZM326.36 156.92H329.96V160.52H326.36ZM326.44 153.33H330.04V156.93H326.44ZM326.53 157.08H330.13V160.68H326.53ZM326.61 157.35H330.21V160.95H326.61ZM326.69 158.07H330.29V161.67H326.69ZM326.78 157.17H330.38V160.77H326.78ZM326.86 158.35H330.46V161.95H326.86ZM326.94 159.54H330.54V163.14H326.94ZM327.02 157.22H330.62V160.82H327.02ZM327.11 159.18H330.71V162.78H327.11ZM327.19 160.02H330.79V163.62H327.19ZM327.27 157.9H330.87V161.5H327.27ZM327.35 158.71H330.95V162.31H327.35ZM327.44 162.95H331.04V166.55H327.44ZM327.52 162.48H331.12V166.08H327.52ZM327.6 160.04H331.2V163.64H327.6ZM327.68 162.72H331.28V166.32H327.68ZM327.76 162.58H331.36V166.18H327.76ZM327.84 164.56H331.44V168.16H327.84ZM327.92 164.5H331.52V168.1H327.92ZM328 159.31H331.6V162.91H328ZM328.08 162.82H331.68V166.42H328.08ZM328.16 166.01H331.76V169.61H328.16ZM328.24 166.83H331.84V170.43H328.24ZM328.33 163.31H331.93V166.91H328.33ZM328.41 162.58H332.01V166.18H328.41ZM328.49 165.53H332.09V169.13H328.49ZM328.56 164.28H332.16V167.88H328.56ZM328.64 165.74H332.24V169.34H328.64ZM328.72 164.01H332.32V167.61H328.72ZM328.8 167.86H332.4V171.46H328.8ZM328.88 167.87H332.48V171.47H328.88ZM328.96 168.01H332.56V171.61H328.96ZM329.04 165.46H332.64V169.06H329.04ZM329.12 164.68H332.72V168.28H329.12ZM329.2 165.77H332.8V169.37H329.2ZM329.28 169.49H332.88V173.09H329.28ZM329.35 165.42H332.95V169.02H329.35ZM329.43 170.51H333.03V174.11H329.43ZM329.51 173.05H333.11V176.65H329.51ZM329.59 168.68H333.19V172.28H329.59ZM329.67 169.89H333.27V173.49H329.67ZM329.74 172.58H333.34V176.18H329.74ZM329.82 172.8H333.42V176.4H329.82ZM329.9 170.02H333.5V173.62H329.9ZM329.98 171.27H333.58V174.87H329.98ZM330.05 172.23H333.65V175.83H330.05ZM330.13 171.76H333.73V175.36H330.13ZM330.21 173.9H333.81V177.5H330.21ZM330.29 173.73H333.89V177.33H330.29ZM330.36 176.21H333.96V179.81H330.36ZM330.44 169.95H334.04V173.55H330.44ZM330.51 176.7H334.11V180.3H330.51ZM330.59 176.25H334.19V179.85H330.59ZM330.67 174.46H334.27V178.06H330.67ZM330.74 176.07H334.34V179.67H330.74ZM330.82 177.74H334.42V181.34H330.82ZM330.89 176.53H334.49V180.13H330.89ZM330.97 175.58H334.57V179.18H330.97ZM331.05 177.21H334.65V180.81H331.05ZM331.12 175.18H334.72V178.78H331.12ZM331.2 174H334.8V177.6H331.2ZM331.27 175.41H334.87V179.01H331.27ZM331.35 176.01H334.95V179.61H331.35ZM331.42 178.82H335.02V182.42H331.42ZM331.5 180.75H335.1V184.35H331.5ZM331.57 179.7H335.17V183.3H331.57ZM331.65 183.21H335.25V186.81H331.65ZM331.72 179.55H335.32V183.15H331.72ZM331.79 178.45H335.39V182.05H331.79ZM331.87 178.58H335.47V182.18H331.87ZM331.94 178.46H335.54V182.06H331.94ZM332.02 180.4H335.62V184H332.02ZM332.09 185.29H335.69V188.89H332.09ZM332.16 177.92H335.76V181.52H332.16ZM332.24 183.81H335.84V187.41H332.24ZM332.31 182.62H335.91V186.22H332.31ZM332.38 185.36H335.98V188.96H332.38ZM332.46 182.06H336.06V185.66H332.46ZM332.53 185.82H336.13V189.42H332.53ZM332.6 182.68H336.2V186.28H332.6ZM332.68 186.32H336.28V189.92H332.68ZM332.75 179.09H336.35V182.69H332.75ZM332.82 186.69H336.42V190.29H332.82ZM332.89 187.84H336.49V191.44H332.89ZM332.97 181.1H336.57V184.7H332.97ZM333.04 188.97H336.64V192.57H333.04ZM333.11 183.16H336.71V186.76H333.11ZM333.18 190.24H336.78V193.84H333.18ZM333.26 187.47H336.86V191.07H333.26ZM333.33 190.12H336.93V193.72H333.33ZM333.4 189.5H337V193.1H333.4ZM333.47 184.62H337.07V188.22H333.47ZM333.54 194.35H337.14V197.95H333.54ZM333.61 193.68H337.21V197.28H333.61ZM333.68 186.25H337.28V189.85H333.68ZM333.76 192.29H337.36V195.89H333.76ZM333.83 192.36H337.43V195.96H333.83ZM333.9 188.56H337.5V192.16H333.9ZM333.97 187.57H337.57V191.17H333.97ZM334.04 196.85H337.64V200.45H334.04ZM334.11 190.79H337.71V194.39H334.11ZM334.18 196.39H337.78V199.99H334.18ZM334.25 200.93H337.85V204.53H334.25ZM334.32 195.66H337.92V199.26H334.32ZM334.39 190.36H337.99V193.96H334.39ZM334.46 198.76H338.06V202.36H334.46ZM334.53 188.99H338.13V192.59H334.53ZM334.6 191.4H338.2V195H334.6ZM334.67 205.2H338.27V208.8H334.67ZM334.74 192.66H338.34V196.26H334.74ZM334.81 198.55H338.41V202.15H334.81ZM334.88 192.15H338.48V195.75H334.88ZM334.95 197.24H338.55V200.84H334.95ZM335.02 199.39H338.62V202.99H335.02ZM335.09 186.88H338.69V190.48H335.09ZM335.16 195.86H338.76V199.46H335.16ZM335.22 203.5H338.82V207.1H335.22ZM335.29 205.2H338.89V208.8H335.29ZM335.36 202.85H338.96V206.45H335.36ZM335.43 196.04H339.03V199.64H335.43ZM335.5 204.34H339.1V207.94H335.5ZM335.57 199.65H339.17V203.25H335.57ZM335.64 198.46H339.24V202.06H335.64Z" fill="#00ffff" stroke="none"/>
</svg>
</body></html>
